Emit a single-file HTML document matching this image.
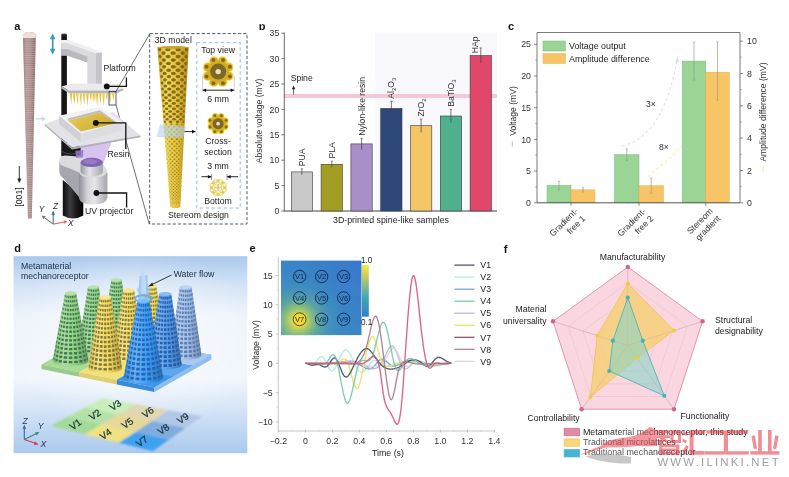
<!DOCTYPE html>
<html><head><meta charset="utf-8"><title>figure</title>
<style>html,body{margin:0;padding:0;background:#fff;}svg{display:block;filter:blur(0.4px)}text{font-family:"Liberation Sans",sans-serif;}</style>
</head><body>
<svg width="789" height="477" viewBox="0 0 789 477">
<defs><linearGradient id="heatA" x1="0" y1="1" x2="1" y2="0">
<stop offset="0" stop-color="#5aa6a8"/><stop offset="0.35" stop-color="#3a8ac4"/><stop offset="1" stop-color="#3878cc"/>
</linearGradient>
<radialGradient id="heatB" gradientUnits="userSpaceOnUse" cx="298.5" cy="320.5" r="50">
<stop offset="0" stop-color="#f4e040" stop-opacity="1"/><stop offset="0.1" stop-color="#e6da48" stop-opacity="1"/><stop offset="0.22" stop-color="#a8ca68" stop-opacity="0.95"/><stop offset="0.42" stop-color="#66ae96" stop-opacity="0.7"/><stop offset="0.7" stop-color="#4a98b4" stop-opacity="0.3"/><stop offset="1" stop-color="#3a8ac4" stop-opacity="0"/>
</radialGradient>
<linearGradient id="cbar" x1="0" y1="0" x2="0" y2="1">
<stop offset="0" stop-color="#f4e84a"/><stop offset="0.18" stop-color="#d8d050"/><stop offset="0.4" stop-color="#84bc88"/><stop offset="0.65" stop-color="#3ea4b4"/><stop offset="1" stop-color="#3880c8"/>
</linearGradient>
<linearGradient id="dbg" x1="0" y1="0" x2="0" y2="1">
<stop offset="0" stop-color="#a9c9ee"/><stop offset="0.14" stop-color="#d2e2f6"/><stop offset="0.3" stop-color="#edf3fb"/><stop offset="0.62" stop-color="#f1f6fc"/><stop offset="0.82" stop-color="#cddff5"/><stop offset="1" stop-color="#aac9ed"/>
</linearGradient>
<radialGradient id="dbg2" gradientUnits="userSpaceOnUse" cx="135" cy="340" r="130" gradientTransform="translate(0 102) scale(1 0.7)">
<stop offset="0" stop-color="#ffffff" stop-opacity="0.75"/><stop offset="0.6" stop-color="#ffffff" stop-opacity="0.3"/><stop offset="1" stop-color="#ffffff" stop-opacity="0"/>
</radialGradient>
<filter id="blur1" x="-10%" y="-10%" width="120%" height="120%"><feGaussianBlur stdDeviation="1.2"/></filter>
<linearGradient id="spineg" x1="0" x2="1" y1="0" y2="0"><stop offset="0" stop-color="#907676"/><stop offset="0.3" stop-color="#b09494"/><stop offset="0.6" stop-color="#a68a8a"/><stop offset="1" stop-color="#7e6666"/></linearGradient>
<pattern id="spinepat" width="4" height="2.2" patternUnits="userSpaceOnUse"><rect width="4" height="1" fill="#e8d4d0"/></pattern>
<linearGradient id="resing" x1="0" x2="1" y1="0" y2="0.6"><stop offset="0" stop-color="#e6cf62"/><stop offset="0.6" stop-color="#d8b942"/><stop offset="1" stop-color="#c8a634"/></linearGradient>
<linearGradient id="projg" x1="0" x2="1" y1="0" y2="0"><stop offset="0" stop-color="#8e8e96"/><stop offset="0.3" stop-color="#d4d4da"/><stop offset="0.55" stop-color="#e6e6ea"/><stop offset="1" stop-color="#a4a4ac"/></linearGradient>
<linearGradient id="barrelg" x1="0" x2="1" y1="0" y2="0"><stop offset="0" stop-color="#9a9aa2"/><stop offset="0.4" stop-color="#e2e2e6"/><stop offset="1" stop-color="#a8a8b0"/></linearGradient>
<linearGradient id="blk" x1="0" x2="1" y1="0" y2="0"><stop offset="0" stop-color="#0c0c0c"/><stop offset="0.35" stop-color="#3c3c40"/><stop offset="0.7" stop-color="#141414"/><stop offset="1" stop-color="#050505"/></linearGradient>
<linearGradient id="latg" x1="0" x2="1" y1="0" y2="0"><stop offset="0" stop-color="#cfa928"/><stop offset="0.3" stop-color="#f0da5c"/><stop offset="0.65" stop-color="#dfbe38"/><stop offset="1" stop-color="#ae8a1a"/></linearGradient>
<pattern id="latpat" width="5" height="6" patternUnits="userSpaceOnUse" patternTransform="rotate(8)"><ellipse cx="1.25" cy="1.5" rx="1.5" ry="1.1" fill="#7a5e12" opacity="0.85"/><ellipse cx="3.75" cy="4.5" rx="1.5" ry="1.1" fill="#7a5e12" opacity="0.85"/></pattern>
<clipPath id="topclip"><rect x="250" y="24.2" width="30" height="10"/></clipPath>
</defs>
<rect width="789" height="477" fill="#ffffff"/>
<rect x="375.0" y="32.5" width="122.0" height="178.5" fill="#f9f8fd" stroke="none" stroke-width="0.6" />
<rect x="284.3" y="94.0" width="212.7" height="4.0" fill="#f3c3d0" stroke="none" stroke-width="0.6" opacity="0.9"/>
<line x1="284.3" y1="32.5" x2="284.3" y2="211.0" stroke="#444" stroke-width="0.8" />
<line x1="283.9" y1="211.0" x2="497.0" y2="211.0" stroke="#444" stroke-width="1.0" />
<line x1="281.3" y1="211.0" x2="284.3" y2="211.0" stroke="#444" stroke-width="0.7" />
<text x="279.3" y="214.1" font-size="8.8" text-anchor="end" fill="#333" >0</text>
<line x1="281.3" y1="185.6" x2="284.3" y2="185.6" stroke="#444" stroke-width="0.7" />
<text x="279.3" y="188.7" font-size="8.8" text-anchor="end" fill="#333" >5</text>
<line x1="281.3" y1="160.2" x2="284.3" y2="160.2" stroke="#444" stroke-width="0.7" />
<text x="279.3" y="163.3" font-size="8.8" text-anchor="end" fill="#333" >10</text>
<line x1="281.3" y1="134.8" x2="284.3" y2="134.8" stroke="#444" stroke-width="0.7" />
<text x="279.3" y="137.9" font-size="8.8" text-anchor="end" fill="#333" >15</text>
<line x1="281.3" y1="109.4" x2="284.3" y2="109.4" stroke="#444" stroke-width="0.7" />
<text x="279.3" y="112.5" font-size="8.8" text-anchor="end" fill="#333" >20</text>
<line x1="281.3" y1="84.0" x2="284.3" y2="84.0" stroke="#444" stroke-width="0.7" />
<text x="279.3" y="87.1" font-size="8.8" text-anchor="end" fill="#333" >25</text>
<line x1="281.3" y1="58.6" x2="284.3" y2="58.6" stroke="#444" stroke-width="0.7" />
<text x="279.3" y="61.7" font-size="8.8" text-anchor="end" fill="#333" >30</text>
<line x1="281.3" y1="33.2" x2="284.3" y2="33.2" stroke="#444" stroke-width="0.7" />
<text x="279.3" y="36.3" font-size="8.8" text-anchor="end" fill="#333" >35</text>
<text x="261.5" y="121.0" font-size="8.6" text-anchor="middle" fill="#333" transform="rotate(-90 261.5 121.0)" >Absolute voltage (mV)</text>
<rect x="291.3" y="171.9" width="21.3" height="39.1" fill="#c9c9c9" stroke="#3a3a3a" stroke-width="0.6" />
<line x1="301.9" y1="168.8" x2="301.9" y2="174.9" stroke="#444" stroke-width="0.7" />
<line x1="300.8" y1="168.8" x2="303.1" y2="168.8" stroke="#444" stroke-width="0.6" />
<text x="304.9" y="166.2" font-size="8.6" text-anchor="start" fill="#333" transform="rotate(-90 304.9 166.2)" >PUA</text>
<rect x="321.1" y="164.3" width="21.3" height="46.7" fill="#a39c22" stroke="#3a3a3a" stroke-width="0.6" />
<line x1="331.8" y1="161.2" x2="331.8" y2="167.3" stroke="#444" stroke-width="0.7" />
<line x1="330.6" y1="161.2" x2="332.9" y2="161.2" stroke="#444" stroke-width="0.6" />
<text x="334.8" y="158.6" font-size="8.6" text-anchor="start" fill="#333" transform="rotate(-90 334.8 158.6)" >PLA</text>
<rect x="350.9" y="143.9" width="21.3" height="67.1" fill="#a88fc8" stroke="#3a3a3a" stroke-width="0.6" />
<line x1="361.6" y1="138.4" x2="361.6" y2="149.5" stroke="#444" stroke-width="0.7" />
<line x1="360.4" y1="138.4" x2="362.8" y2="138.4" stroke="#444" stroke-width="0.6" />
<text x="364.6" y="135.8" font-size="8.6" text-anchor="start" fill="#333" transform="rotate(-90 364.6 135.8)" >Nylon-like resin</text>
<rect x="380.7" y="108.4" width="21.3" height="102.6" fill="#2d4979" stroke="#3a3a3a" stroke-width="0.6" />
<line x1="391.4" y1="101.3" x2="391.4" y2="115.5" stroke="#444" stroke-width="0.7" />
<line x1="390.2" y1="101.3" x2="392.6" y2="101.3" stroke="#444" stroke-width="0.6" />
<text x="394.4" y="98.7" font-size="8.6" text-anchor="start" fill="#333" transform="rotate(-90 394.4 98.7)" >Al<tspan dy="2" font-size="6">2</tspan><tspan dy="-2">O</tspan><tspan dy="2" font-size="6">3</tspan></text>
<rect x="410.5" y="125.7" width="21.3" height="85.3" fill="#f5c666" stroke="#3a3a3a" stroke-width="0.6" />
<line x1="421.1" y1="119.1" x2="421.1" y2="132.3" stroke="#444" stroke-width="0.7" />
<line x1="419.9" y1="119.1" x2="422.3" y2="119.1" stroke="#444" stroke-width="0.6" />
<text x="424.1" y="116.5" font-size="8.6" text-anchor="start" fill="#333" transform="rotate(-90 424.1 116.5)" >ZrO<tspan dy="2" font-size="6">2</tspan></text>
<rect x="440.3" y="116.0" width="21.3" height="95.0" fill="#4fb08e" stroke="#3a3a3a" stroke-width="0.6" />
<line x1="450.9" y1="109.4" x2="450.9" y2="122.6" stroke="#444" stroke-width="0.7" />
<line x1="449.8" y1="109.4" x2="452.1" y2="109.4" stroke="#444" stroke-width="0.6" />
<text x="453.9" y="106.8" font-size="8.6" text-anchor="start" fill="#333" transform="rotate(-90 453.9 106.8)" >BaTiO<tspan dy="2" font-size="6">3</tspan></text>
<rect x="470.1" y="55.6" width="21.3" height="155.4" fill="#e0476a" stroke="#3a3a3a" stroke-width="0.6" />
<line x1="480.8" y1="47.9" x2="480.8" y2="63.2" stroke="#444" stroke-width="0.7" />
<line x1="479.6" y1="47.9" x2="481.9" y2="47.9" stroke="#444" stroke-width="0.6" />
<text x="478.1" y="53.2" font-size="8.6" text-anchor="start" fill="#333" transform="rotate(-90 478.1 53.2)" >HAp</text>
<text x="391.0" y="223.0" font-size="8.8" text-anchor="middle" fill="#222" >3D-printed spine-like samples</text>
<text x="290.7" y="80.8" font-size="8.6" text-anchor="start" fill="#222" >Spine</text>
<line x1="293.6" y1="94.5" x2="293.6" y2="88.0" stroke="#222" stroke-width="0.7" />
<path d="M291.9 89.3 L293.6 85.4 L295.3 89.3Z" fill="#222"/>
<rect x="547.0" y="185.4" width="24.0" height="17.4" fill="#9ad596" stroke="#7fb883" stroke-width="0.5" />
<rect x="571.0" y="189.8" width="24.0" height="13.0" fill="#f8c566" stroke="#e2b057" stroke-width="0.5" />
<line x1="559.0" y1="181.2" x2="559.0" y2="189.5" stroke="#8aa08a" stroke-width="0.7" />
<line x1="557.8" y1="181.2" x2="560.2" y2="181.2" stroke="#8aa08a" stroke-width="0.6" />
<line x1="557.8" y1="189.5" x2="560.2" y2="189.5" stroke="#8aa08a" stroke-width="0.6" />
<line x1="583.0" y1="187.6" x2="583.0" y2="192.0" stroke="#a89a78" stroke-width="0.7" />
<line x1="581.8" y1="187.6" x2="584.2" y2="187.6" stroke="#a89a78" stroke-width="0.6" />
<line x1="581.8" y1="192.0" x2="584.2" y2="192.0" stroke="#a89a78" stroke-width="0.6" />
<rect x="614.5" y="154.6" width="24.5" height="48.2" fill="#9ad596" stroke="#7fb883" stroke-width="0.5" />
<rect x="639.0" y="185.7" width="24.5" height="17.1" fill="#f8c566" stroke="#e2b057" stroke-width="0.5" />
<line x1="626.8" y1="148.9" x2="626.8" y2="160.3" stroke="#8aa08a" stroke-width="0.7" />
<line x1="625.5" y1="148.9" x2="628.0" y2="148.9" stroke="#8aa08a" stroke-width="0.6" />
<line x1="625.5" y1="160.3" x2="628.0" y2="160.3" stroke="#8aa08a" stroke-width="0.6" />
<line x1="651.2" y1="178.1" x2="651.2" y2="193.3" stroke="#a89a78" stroke-width="0.7" />
<line x1="650.0" y1="178.1" x2="652.5" y2="178.1" stroke="#a89a78" stroke-width="0.6" />
<line x1="650.0" y1="193.3" x2="652.5" y2="193.3" stroke="#a89a78" stroke-width="0.6" />
<rect x="682.3" y="61.1" width="23.5" height="141.7" fill="#9ad596" stroke="#7fb883" stroke-width="0.5" />
<rect x="705.8" y="72.2" width="23.5" height="130.6" fill="#f8c566" stroke="#e2b057" stroke-width="0.5" />
<line x1="694.0" y1="42.1" x2="694.0" y2="80.1" stroke="#8aa08a" stroke-width="0.7" />
<line x1="692.8" y1="42.1" x2="695.2" y2="42.1" stroke="#8aa08a" stroke-width="0.6" />
<line x1="692.8" y1="80.1" x2="695.2" y2="80.1" stroke="#8aa08a" stroke-width="0.6" />
<line x1="717.5" y1="42.0" x2="717.5" y2="100.0" stroke="#a89a78" stroke-width="0.7" />
<line x1="716.3" y1="42.0" x2="718.8" y2="42.0" stroke="#a89a78" stroke-width="0.6" />
<line x1="716.3" y1="100.0" x2="718.8" y2="100.0" stroke="#a89a78" stroke-width="0.6" />
<path d="M537.0 202.8 L537.0 32.5 L740.0 32.5 L740.0 202.8" fill="none" stroke="#555" stroke-width="0.8"/>
<line x1="537.0" y1="202.8" x2="740.0" y2="202.8" stroke="#555" stroke-width="1.0" />
<line x1="534.0" y1="202.8" x2="537.0" y2="202.8" stroke="#555" stroke-width="0.7" />
<text x="531.0" y="205.9" font-size="8.8" text-anchor="end" fill="#333" >0</text>
<line x1="534.0" y1="171.1" x2="537.0" y2="171.1" stroke="#555" stroke-width="0.7" />
<text x="531.0" y="174.2" font-size="8.8" text-anchor="end" fill="#333" >5</text>
<line x1="534.0" y1="139.4" x2="537.0" y2="139.4" stroke="#555" stroke-width="0.7" />
<text x="531.0" y="142.5" font-size="8.8" text-anchor="end" fill="#333" >10</text>
<line x1="534.0" y1="107.7" x2="537.0" y2="107.7" stroke="#555" stroke-width="0.7" />
<text x="531.0" y="110.8" font-size="8.8" text-anchor="end" fill="#333" >15</text>
<line x1="534.0" y1="76.0" x2="537.0" y2="76.0" stroke="#555" stroke-width="0.7" />
<text x="531.0" y="79.1" font-size="8.8" text-anchor="end" fill="#333" >20</text>
<line x1="534.0" y1="44.3" x2="537.0" y2="44.3" stroke="#555" stroke-width="0.7" />
<text x="531.0" y="47.4" font-size="8.8" text-anchor="end" fill="#333" >25</text>
<line x1="535.2" y1="187.0" x2="537.0" y2="187.0" stroke="#777" stroke-width="0.6" />
<line x1="535.2" y1="155.2" x2="537.0" y2="155.2" stroke="#777" stroke-width="0.6" />
<line x1="535.2" y1="123.6" x2="537.0" y2="123.6" stroke="#777" stroke-width="0.6" />
<line x1="535.2" y1="91.9" x2="537.0" y2="91.9" stroke="#777" stroke-width="0.6" />
<line x1="535.2" y1="60.2" x2="537.0" y2="60.2" stroke="#777" stroke-width="0.6" />
<line x1="740.0" y1="202.8" x2="743.0" y2="202.8" stroke="#555" stroke-width="0.7" />
<text x="747.0" y="205.9" font-size="8.8" text-anchor="start" fill="#333" >0</text>
<line x1="740.0" y1="170.5" x2="743.0" y2="170.5" stroke="#555" stroke-width="0.7" />
<text x="747.0" y="173.6" font-size="8.8" text-anchor="start" fill="#333" >2</text>
<line x1="740.0" y1="138.1" x2="743.0" y2="138.1" stroke="#555" stroke-width="0.7" />
<text x="747.0" y="141.2" font-size="8.8" text-anchor="start" fill="#333" >4</text>
<line x1="740.0" y1="105.8" x2="743.0" y2="105.8" stroke="#555" stroke-width="0.7" />
<text x="747.0" y="108.8" font-size="8.8" text-anchor="start" fill="#333" >6</text>
<line x1="740.0" y1="73.4" x2="743.0" y2="73.4" stroke="#555" stroke-width="0.7" />
<text x="747.0" y="76.5" font-size="8.8" text-anchor="start" fill="#333" >8</text>
<line x1="740.0" y1="41.1" x2="743.0" y2="41.1" stroke="#555" stroke-width="0.7" />
<text x="747.0" y="44.2" font-size="8.8" text-anchor="start" fill="#333" >10</text>
<line x1="740.0" y1="186.6" x2="741.8" y2="186.6" stroke="#777" stroke-width="0.6" />
<line x1="740.0" y1="154.3" x2="741.8" y2="154.3" stroke="#777" stroke-width="0.6" />
<line x1="740.0" y1="121.9" x2="741.8" y2="121.9" stroke="#777" stroke-width="0.6" />
<line x1="740.0" y1="89.6" x2="741.8" y2="89.6" stroke="#777" stroke-width="0.6" />
<line x1="740.0" y1="57.2" x2="741.8" y2="57.2" stroke="#777" stroke-width="0.6" />
<line x1="571.0" y1="202.8" x2="571.0" y2="205.8" stroke="#555" stroke-width="0.7" />
<line x1="639.0" y1="202.8" x2="639.0" y2="205.8" stroke="#555" stroke-width="0.7" />
<line x1="705.8" y1="202.8" x2="705.8" y2="205.8" stroke="#555" stroke-width="0.7" />
<rect x="543.0" y="41.0" width="22.5" height="10.0" fill="#9ad596" stroke="#7fb883" stroke-width="0.5" />
<rect x="543.0" y="53.5" width="22.5" height="10.0" fill="#f8c566" stroke="#e2b057" stroke-width="0.5" />
<text x="569.0" y="49.3" font-size="8.9" text-anchor="start" fill="#222" >Voltage output</text>
<text x="569.0" y="61.7" font-size="8.9" text-anchor="start" fill="#222" >Amplitude difference</text>
<text x="515.8" y="111.0" font-size="8.6" text-anchor="middle" fill="#333" transform="rotate(-90 515.8 111.0)" >Voltage (mV)</text>
<line x1="512.3" y1="141.5" x2="512.3" y2="146.5" stroke="#8fd0c0" stroke-width="1.0" />
<text x="766.0" y="112.0" font-size="8.6" text-anchor="middle" fill="#333" transform="rotate(-90 766.0 112.0)" >Amplitude difference (mV)</text>
<line x1="763.0" y1="167.0" x2="763.0" y2="172.0" stroke="#f0e0a0" stroke-width="1.0" />
<path d="M622 146 C650 140 668 110 677 60" fill="none" stroke="#d9e8df" stroke-width="1.1" stroke-dasharray="3 2.5"/>
<path d="M675.2 62 L677.4 56.5 L679 62.3Z" fill="#cfe4d6"/>
<path d="M648 177 C660 165 672 158 681 146" fill="none" stroke="#f5f0b4" stroke-width="1.2" stroke-dasharray="3 2.5"/>
<text x="646.0" y="107.0" font-size="8.6" text-anchor="start" fill="#333" >3×</text>
<text x="659.0" y="150.0" font-size="8.6" text-anchor="start" fill="#333" >8×</text>
<g transform="translate(576.3 209.5) rotate(-45)"><text x="0" y="3" font-size="8.6" text-anchor="end" fill="#333">Gradient-</text><text x="0" y="13.5" font-size="8.6" text-anchor="end" fill="#333">free 1</text></g>
<g transform="translate(644.3 209.5) rotate(-45)"><text x="0" y="3" font-size="8.6" text-anchor="end" fill="#333">Gradient-</text><text x="0" y="13.5" font-size="8.6" text-anchor="end" fill="#333">free 2</text></g>
<g transform="translate(711.3 209.5) rotate(-45)"><text x="0" y="3" font-size="8.6" text-anchor="end" fill="#333">Stereom</text><text x="0" y="13.5" font-size="8.6" text-anchor="end" fill="#333">gradient</text></g>
<path d="M305.4 363.4 L306.1 363.5 L306.7 363.6 L307.4 363.8 L308.1 364.1 L308.7 364.4 L309.4 364.6 L310.1 364.9 L310.7 365.0 L311.4 365.1 L312.1 365.1 L312.7 365.0 L313.4 364.6 L314.1 364.2 L314.7 363.5 L315.4 362.7 L316.1 361.9 L316.7 361.0 L317.4 360.1 L318.0 359.2 L318.7 358.4 L319.4 357.7 L320.0 357.2 L320.7 356.8 L321.4 356.6 L322.0 356.7 L322.7 357.1 L323.4 357.8 L324.0 358.7 L324.7 359.8 L325.4 361.1 L326.0 362.5 L326.7 364.0 L327.4 365.4 L328.0 366.8 L328.7 368.1 L329.4 369.2 L330.0 370.1 L330.7 370.8 L331.4 371.1 L332.0 371.2 L332.7 370.9 L333.4 370.4 L334.0 369.6 L334.7 368.6 L335.4 367.5 L336.0 366.2 L336.7 364.8 L337.4 363.3 L338.0 361.8 L338.7 360.2 L339.4 358.6 L340.0 357.1 L340.7 355.6 L341.4 354.3 L342.0 353.0 L342.7 351.9 L343.3 351.0 L344.0 350.3 L344.7 349.9 L345.3 349.7 L346.0 349.7 L346.7 350.0 L347.3 350.4 L348.0 351.1 L348.7 351.9 L349.3 352.9 L350.0 354.0 L350.7 355.2 L351.3 356.4 L352.0 357.8 L352.7 359.2 L353.3 360.6 L354.0 362.0 L354.7 363.4 L355.3 364.8 L356.0 366.1 L356.7 367.4 L357.3 368.5 L358.0 369.5 L358.7 370.4 L359.3 371.2 L360.0 371.8 L360.7 372.2 L361.3 372.3 L362.0 372.3 L362.7 372.1 L363.3 371.7 L364.0 371.3 L364.7 370.6 L365.3 369.9 L366.0 369.1 L366.6 368.3 L367.3 367.4 L368.0 366.5 L368.6 365.6 L369.3 364.7 L370.0 363.8 L370.6 363.0 L371.3 362.3 L372.0 361.7 L372.6 361.2 L373.3 360.9 L374.0 360.6 L374.6 360.6 L375.3 360.6 L376.0 360.7 L376.6 360.9 L377.3 361.2 L378.0 361.6 L378.6 362.0 L379.3 362.4 L380.0 362.8 L380.6 363.3 L381.3 363.7 L382.0 364.2 L382.6 364.6 L383.3 365.0 L384.0 365.3 L384.6 365.5 L385.3 365.7 L386.0 365.8 L386.6 365.9 L387.3 365.9 L388.0 365.9 L388.6 365.9 L389.3 365.8 L390.0 365.7 L390.6 365.5 L391.3 365.3 L391.9 365.1 L392.6 364.9 L393.3 364.6 L393.9 364.4 L394.6 364.1 L395.3 363.9 L395.9 363.6 L396.6 363.3 L397.3 363.1 L397.9 362.8 L398.6 362.6 L399.3 362.4 L399.9 362.2 L400.6 362.1 L401.3 361.9 L401.9 361.8 L402.6 361.7 L403.3 361.6 L403.9 361.6 L404.6 361.5 L405.3 361.5 L405.9 361.5 L406.6 361.5 L407.3 361.6 L407.9 361.6 L408.6 361.6 L409.3 361.7 L409.9 361.8 L410.6 361.9 L411.3 362.0 L411.9 362.1 L412.6 362.2 L413.3 362.3 L413.9 362.4 L414.6 362.5 L415.2 362.6 L415.9 362.7 L416.6 362.8 L417.2 363.0 L417.9 363.1 L418.6 363.2 L419.2 363.3 L419.9 363.4 L420.6 363.5 L421.2 363.5 L421.9 363.6 L422.6 363.7 L423.2 363.7 L423.9 363.8 L424.6 363.8 L425.2 363.9 L425.9 363.9 L426.6 363.9 L427.2 364.0 L427.9 364.0 L428.6 364.0 L429.2 364.0 L429.9 364.0 L430.6 364.0 L431.2 364.0 L431.9 364.0 L432.6 364.0 L433.2 364.0 L433.9 364.0 L434.6 364.0 L435.2 363.9 L435.9 363.9 L436.6 363.9 L437.2 363.9 L437.9 363.8 L438.6 363.8 L439.2 363.8 L439.9 363.8 L440.5 363.7 L441.2 363.7 L441.9 363.7 L442.5 363.6 L443.2 363.6 L443.9 363.6 L444.5 363.5 L445.2 363.5 L445.9 363.5 L446.5 363.5 L447.2 363.5 L447.9 363.4 L448.5 363.4 L449.2 363.4 L449.9 363.4 L450.5 363.4 L451.2 363.4" fill="none" stroke="#aaebe5" stroke-width="1.35" stroke-linejoin="round" opacity="0.9"/>
<path d="M305.4 363.4 L306.1 363.4 L306.7 363.4 L307.4 363.4 L308.1 363.4 L308.7 363.4 L309.4 363.4 L310.1 363.4 L310.7 363.4 L311.4 363.4 L312.1 363.4 L312.7 363.4 L313.4 363.4 L314.1 363.5 L314.7 363.5 L315.4 363.5 L316.1 363.5 L316.7 363.5 L317.4 363.5 L318.0 363.5 L318.7 363.5 L319.4 363.5 L320.0 363.4 L320.7 363.4 L321.4 363.4 L322.0 363.4 L322.7 363.4 L323.4 363.4 L324.0 363.4 L324.7 363.3 L325.4 363.3 L326.0 363.3 L326.7 363.2 L327.4 363.2 L328.0 363.2 L328.7 363.1 L329.4 363.1 L330.0 363.0 L330.7 363.0 L331.4 362.9 L332.0 362.9 L332.7 362.8 L333.4 362.7 L334.0 362.6 L334.7 362.6 L335.4 362.5 L336.0 362.4 L336.7 362.3 L337.4 362.2 L338.0 362.1 L338.7 362.1 L339.4 362.0 L340.0 361.9 L340.7 361.8 L341.4 361.8 L342.0 361.7 L342.7 361.7 L343.3 361.6 L344.0 361.6 L344.7 361.6 L345.3 361.5 L346.0 361.5 L346.7 361.5 L347.3 361.5 L348.0 361.6 L348.7 361.6 L349.3 361.6 L350.0 361.7 L350.7 361.8 L351.3 361.9 L352.0 362.0 L352.7 362.1 L353.3 362.3 L354.0 362.4 L354.7 362.6 L355.3 362.8 L356.0 363.0 L356.7 363.3 L357.3 363.6 L358.0 363.9 L358.7 364.2 L359.3 364.5 L360.0 364.9 L360.7 365.3 L361.3 365.7 L362.0 366.1 L362.7 366.5 L363.3 366.9 L364.0 367.3 L364.7 367.6 L365.3 368.0 L366.0 368.3 L366.6 368.5 L367.3 368.7 L368.0 368.9 L368.6 369.0 L369.3 369.0 L370.0 368.9 L370.6 368.7 L371.3 368.5 L372.0 368.2 L372.6 367.7 L373.3 367.1 L374.0 366.5 L374.6 365.7 L375.3 365.0 L376.0 364.1 L376.6 363.3 L377.3 362.5 L378.0 361.7 L378.6 361.0 L379.3 360.4 L380.0 359.8 L380.6 359.4 L381.3 359.2 L382.0 359.1 L382.6 359.2 L383.3 359.4 L384.0 359.7 L384.6 360.1 L385.3 360.6 L386.0 361.1 L386.6 361.7 L387.3 362.3 L388.0 362.9 L388.6 363.5 L389.3 364.1 L390.0 364.6 L390.6 365.1 L391.3 365.5 L391.9 365.8 L392.6 366.0 L393.3 366.1 L393.9 366.1 L394.6 366.0 L395.3 365.9 L395.9 365.7 L396.6 365.4 L397.3 365.2 L397.9 364.8 L398.6 364.5 L399.3 364.1 L399.9 363.7 L400.6 363.3 L401.3 362.9 L401.9 362.6 L402.6 362.2 L403.3 361.9 L403.9 361.7 L404.6 361.4 L405.3 361.2 L405.9 361.0 L406.6 360.9 L407.3 360.8 L407.9 360.7 L408.6 360.6 L409.3 360.5 L409.9 360.5 L410.6 360.5 L411.3 360.5 L411.9 360.6 L412.6 360.6 L413.3 360.7 L413.9 360.8 L414.6 360.9 L415.2 361.0 L415.9 361.1 L416.6 361.2 L417.2 361.3 L417.9 361.5 L418.6 361.6 L419.2 361.8 L419.9 361.9 L420.6 362.1 L421.2 362.2 L421.9 362.4 L422.6 362.5 L423.2 362.7 L423.9 362.8 L424.6 363.0 L425.2 363.1 L425.9 363.2 L426.6 363.3 L427.2 363.5 L427.9 363.5 L428.6 363.6 L429.2 363.7 L429.9 363.8 L430.6 363.8 L431.2 363.9 L431.9 363.9 L432.6 363.9 L433.2 363.9 L433.9 364.0 L434.6 364.0 L435.2 364.0 L435.9 364.0 L436.6 363.9 L437.2 363.9 L437.9 363.9 L438.6 363.9 L439.2 363.9 L439.9 363.8 L440.5 363.8 L441.2 363.8 L441.9 363.7 L442.5 363.7 L443.2 363.7 L443.9 363.6 L444.5 363.6 L445.2 363.6 L445.9 363.5 L446.5 363.5 L447.2 363.5 L447.9 363.5 L448.5 363.4 L449.2 363.4 L449.9 363.4 L450.5 363.4 L451.2 363.4" fill="none" stroke="#7098e0" stroke-width="1.35" stroke-linejoin="round" opacity="0.9"/>
<path d="M305.4 363.4 L306.1 363.4 L306.7 363.4 L307.4 363.4 L308.1 363.4 L308.7 363.4 L309.4 363.5 L310.1 363.5 L310.7 363.5 L311.4 363.5 L312.1 363.6 L312.7 363.6 L313.4 363.6 L314.1 363.6 L314.7 363.7 L315.4 363.7 L316.1 363.7 L316.7 363.7 L317.4 363.8 L318.0 363.8 L318.7 363.8 L319.4 363.8 L320.0 363.8 L320.7 363.9 L321.4 363.9 L322.0 363.9 L322.7 363.9 L323.4 363.9 L324.0 363.9 L324.7 363.9 L325.4 363.9 L326.0 363.9 L326.7 363.8 L327.4 363.8 L328.0 363.8 L328.7 363.7 L329.4 363.7 L330.0 363.6 L330.7 363.6 L331.4 363.5 L332.0 363.4 L332.7 363.4 L333.4 363.3 L334.0 363.2 L334.7 363.1 L335.4 363.0 L336.0 362.9 L336.7 362.7 L337.4 362.6 L338.0 362.5 L338.7 362.4 L339.4 362.3 L340.0 362.1 L340.7 362.0 L341.4 361.9 L342.0 361.8 L342.7 361.7 L343.3 361.6 L344.0 361.5 L344.7 361.4 L345.3 361.3 L346.0 361.2 L346.7 361.2 L347.3 361.1 L348.0 361.1 L348.7 361.0 L349.3 361.0 L350.0 361.0 L350.7 361.0 L351.3 361.0 L352.0 361.1 L352.7 361.1 L353.3 361.2 L354.0 361.3 L354.7 361.4 L355.3 361.5 L356.0 361.7 L356.7 361.9 L357.3 362.0 L358.0 362.3 L358.7 362.5 L359.3 362.8 L360.0 363.1 L360.7 363.4 L361.3 363.7 L362.0 364.1 L362.7 364.4 L363.3 364.8 L364.0 365.2 L364.7 365.6 L365.3 365.9 L366.0 366.3 L366.6 366.7 L367.3 367.0 L368.0 367.3 L368.6 367.6 L369.3 367.9 L370.0 368.1 L370.6 368.3 L371.3 368.5 L372.0 368.6 L372.6 368.7 L373.3 368.7 L374.0 368.7 L374.6 368.6 L375.3 368.4 L376.0 368.2 L376.6 367.9 L377.3 367.5 L378.0 367.1 L378.6 366.5 L379.3 365.9 L380.0 365.2 L380.6 364.3 L381.3 363.4 L382.0 362.3 L382.6 361.1 L383.3 359.9 L384.0 358.5 L384.6 357.1 L385.3 355.6 L386.0 354.2 L386.6 352.8 L387.3 351.5 L388.0 350.2 L388.6 349.0 L389.3 348.0 L390.0 347.2 L390.6 346.6 L391.3 346.1 L391.9 346.0 L392.6 346.1 L393.3 346.5 L393.9 347.2 L394.6 348.3 L395.3 349.5 L395.9 351.0 L396.6 352.6 L397.3 354.3 L397.9 356.1 L398.6 357.9 L399.3 359.7 L399.9 361.4 L400.6 363.0 L401.3 364.5 L401.9 365.8 L402.6 366.9 L403.3 367.7 L403.9 368.3 L404.6 368.7 L405.3 368.8 L405.9 368.8 L406.6 368.6 L407.3 368.3 L407.9 367.9 L408.6 367.3 L409.3 366.7 L409.9 366.1 L410.6 365.4 L411.3 364.8 L411.9 364.1 L412.6 363.5 L413.3 362.9 L413.9 362.5 L414.6 362.1 L415.2 361.7 L415.9 361.5 L416.6 361.3 L417.2 361.2 L417.9 361.2 L418.6 361.2 L419.2 361.2 L419.9 361.3 L420.6 361.4 L421.2 361.6 L421.9 361.8 L422.6 362.0 L423.2 362.2 L423.9 362.4 L424.6 362.7 L425.2 362.9 L425.9 363.1 L426.6 363.3 L427.2 363.5 L427.9 363.7 L428.6 363.8 L429.2 363.9 L429.9 364.1 L430.6 364.1 L431.2 364.2 L431.9 364.3 L432.6 364.3 L433.2 364.4 L433.9 364.4 L434.6 364.4 L435.2 364.4 L435.9 364.4 L436.6 364.4 L437.2 364.4 L437.9 364.3 L438.6 364.3 L439.2 364.2 L439.9 364.2 L440.5 364.1 L441.2 364.1 L441.9 364.0 L442.5 364.0 L443.2 363.9 L443.9 363.8 L444.5 363.8 L445.2 363.7 L445.9 363.7 L446.5 363.6 L447.2 363.6 L447.9 363.5 L448.5 363.5 L449.2 363.4 L449.9 363.4 L450.5 363.4 L451.2 363.4" fill="none" stroke="#b9b2de" stroke-width="1.35" stroke-linejoin="round" opacity="0.9"/>
<path d="M305.4 363.4 L306.1 363.4 L306.7 363.4 L307.4 363.4 L308.1 363.4 L308.7 363.4 L309.4 363.4 L310.1 363.4 L310.7 363.4 L311.4 363.5 L312.1 363.5 L312.7 363.5 L313.4 363.5 L314.1 363.5 L314.7 363.5 L315.4 363.5 L316.1 363.5 L316.7 363.5 L317.4 363.6 L318.0 363.6 L318.7 363.6 L319.4 363.6 L320.0 363.6 L320.7 363.6 L321.4 363.6 L322.0 363.6 L322.7 363.6 L323.4 363.6 L324.0 363.6 L324.7 363.6 L325.4 363.6 L326.0 363.6 L326.7 363.6 L327.4 363.6 L328.0 363.6 L328.7 363.5 L329.4 363.5 L330.0 363.5 L330.7 363.5 L331.4 363.4 L332.0 363.4 L332.7 363.4 L333.4 363.3 L334.0 363.3 L334.7 363.3 L335.4 363.2 L336.0 363.2 L336.7 363.1 L337.4 363.1 L338.0 363.0 L338.7 363.0 L339.4 362.9 L340.0 362.9 L340.7 362.8 L341.4 362.8 L342.0 362.7 L342.7 362.7 L343.3 362.7 L344.0 362.6 L344.7 362.6 L345.3 362.6 L346.0 362.5 L346.7 362.5 L347.3 362.5 L348.0 362.5 L348.7 362.5 L349.3 362.5 L350.0 362.5 L350.7 362.5 L351.3 362.5 L352.0 362.5 L352.7 362.6 L353.3 362.6 L354.0 362.6 L354.7 362.7 L355.3 362.8 L356.0 362.8 L356.7 362.9 L357.3 363.0 L358.0 363.1 L358.7 363.3 L359.3 363.4 L360.0 363.5 L360.7 363.7 L361.3 363.8 L362.0 364.0 L362.7 364.2 L363.3 364.4 L364.0 364.5 L364.7 364.7 L365.3 364.9 L366.0 365.1 L366.6 365.2 L367.3 365.4 L368.0 365.6 L368.6 365.7 L369.3 365.9 L370.0 366.0 L370.6 366.1 L371.3 366.2 L372.0 366.3 L372.6 366.3 L373.3 366.4 L374.0 366.4 L374.6 366.4 L375.3 366.4 L376.0 366.3 L376.6 366.2 L377.3 366.1 L378.0 365.9 L378.6 365.7 L379.3 365.4 L380.0 365.1 L380.6 364.7 L381.3 364.2 L382.0 363.7 L382.6 363.0 L383.3 362.3 L384.0 361.5 L384.6 360.5 L385.3 359.5 L386.0 358.4 L386.6 357.2 L387.3 355.9 L388.0 354.7 L388.6 353.4 L389.3 352.3 L390.0 351.2 L390.6 350.2 L391.3 349.4 L391.9 348.7 L392.6 348.3 L393.3 348.1 L393.9 348.2 L394.6 348.6 L395.3 349.2 L395.9 350.0 L396.6 351.1 L397.3 352.3 L397.9 353.6 L398.6 355.0 L399.3 356.4 L399.9 357.9 L400.6 359.4 L401.3 360.7 L401.9 362.1 L402.6 363.3 L403.3 364.3 L403.9 365.1 L404.6 365.8 L405.3 366.2 L405.9 366.4 L406.6 366.5 L407.3 366.5 L407.9 366.3 L408.6 366.0 L409.3 365.6 L409.9 365.2 L410.6 364.7 L411.3 364.3 L411.9 363.8 L412.6 363.3 L413.3 362.9 L413.9 362.5 L414.6 362.3 L415.2 362.0 L415.9 361.8 L416.6 361.7 L417.2 361.6 L417.9 361.6 L418.6 361.6 L419.2 361.7 L419.9 361.7 L420.6 361.8 L421.2 362.0 L421.9 362.1 L422.6 362.3 L423.2 362.5 L423.9 362.6 L424.6 362.8 L425.2 363.0 L425.9 363.2 L426.6 363.3 L427.2 363.5 L427.9 363.6 L428.6 363.7 L429.2 363.8 L429.9 363.9 L430.6 364.0 L431.2 364.1 L431.9 364.1 L432.6 364.1 L433.2 364.2 L433.9 364.2 L434.6 364.2 L435.2 364.2 L435.9 364.2 L436.6 364.2 L437.2 364.2 L437.9 364.1 L438.6 364.1 L439.2 364.1 L439.9 364.0 L440.5 364.0 L441.2 363.9 L441.9 363.9 L442.5 363.8 L443.2 363.8 L443.9 363.7 L444.5 363.7 L445.2 363.6 L445.9 363.6 L446.5 363.6 L447.2 363.5 L447.9 363.5 L448.5 363.5 L449.2 363.4 L449.9 363.4 L450.5 363.4 L451.2 363.4" fill="none" stroke="#d3d7da" stroke-width="1.35" stroke-linejoin="round" opacity="0.9"/>
<path d="M305.4 363.4 L306.1 363.4 L306.7 363.4 L307.4 363.4 L308.1 363.4 L308.7 363.3 L309.4 363.3 L310.1 363.3 L310.7 363.2 L311.4 363.2 L312.1 363.2 L312.7 363.1 L313.4 363.1 L314.1 363.1 L314.7 363.0 L315.4 363.0 L316.1 363.0 L316.7 363.0 L317.4 362.9 L318.0 362.9 L318.7 362.9 L319.4 362.9 L320.0 362.9 L320.7 363.0 L321.4 363.0 L322.0 363.0 L322.7 363.1 L323.4 363.1 L324.0 363.2 L324.7 363.3 L325.4 363.4 L326.0 363.5 L326.7 363.6 L327.4 363.7 L328.0 363.8 L328.7 364.0 L329.4 364.1 L330.0 364.2 L330.7 364.3 L331.4 364.4 L332.0 364.4 L332.7 364.4 L333.4 364.4 L334.0 364.4 L334.7 364.3 L335.4 364.1 L336.0 363.9 L336.7 363.7 L337.4 363.4 L338.0 363.0 L338.7 362.6 L339.4 362.1 L340.0 361.5 L340.7 360.9 L341.4 360.3 L342.0 359.8 L342.7 359.3 L343.3 359.0 L344.0 358.8 L344.7 358.9 L345.3 359.2 L346.0 359.7 L346.7 360.6 L347.3 361.8 L348.0 363.4 L348.7 365.4 L349.3 367.5 L350.0 369.9 L350.7 372.3 L351.3 374.8 L352.0 377.3 L352.7 379.7 L353.3 382.0 L354.0 384.0 L354.7 385.7 L355.3 387.2 L356.0 388.1 L356.7 388.7 L357.3 388.6 L358.0 388.0 L358.7 386.8 L359.3 385.1 L360.0 383.0 L360.7 380.5 L361.3 377.7 L362.0 374.7 L362.7 371.4 L363.3 368.1 L364.0 364.6 L364.7 361.2 L365.3 357.9 L366.0 354.6 L366.6 351.5 L367.3 348.6 L368.0 345.9 L368.6 343.5 L369.3 341.3 L370.0 339.5 L370.6 338.1 L371.3 337.0 L372.0 336.4 L372.6 336.3 L373.3 336.8 L374.0 337.7 L374.6 339.0 L375.3 340.7 L376.0 342.7 L376.6 344.9 L377.3 347.2 L378.0 349.7 L378.6 352.1 L379.3 354.5 L380.0 356.8 L380.6 358.8 L381.3 360.7 L382.0 362.2 L382.6 363.4 L383.3 364.4 L384.0 365.2 L384.6 365.8 L385.3 366.2 L386.0 366.5 L386.6 366.6 L387.3 366.6 L388.0 366.6 L388.6 366.4 L389.3 366.3 L390.0 366.1 L390.6 365.9 L391.3 365.7 L391.9 365.5 L392.6 365.2 L393.3 365.0 L393.9 364.8 L394.6 364.5 L395.3 364.3 L395.9 364.0 L396.6 363.8 L397.3 363.6 L397.9 363.4 L398.6 363.2 L399.3 363.0 L399.9 362.8 L400.6 362.7 L401.3 362.5 L401.9 362.4 L402.6 362.3 L403.3 362.2 L403.9 362.2 L404.6 362.1 L405.3 362.1 L405.9 362.1 L406.6 362.1 L407.3 362.1 L407.9 362.1 L408.6 362.2 L409.3 362.2 L409.9 362.2 L410.6 362.3 L411.3 362.4 L411.9 362.4 L412.6 362.5 L413.3 362.6 L413.9 362.7 L414.6 362.7 L415.2 362.8 L415.9 362.9 L416.6 363.0 L417.2 363.1 L417.9 363.2 L418.6 363.2 L419.2 363.3 L419.9 363.4 L420.6 363.4 L421.2 363.5 L421.9 363.6 L422.6 363.6 L423.2 363.6 L423.9 363.7 L424.6 363.7 L425.2 363.8 L425.9 363.8 L426.6 363.8 L427.2 363.8 L427.9 363.8 L428.6 363.8 L429.2 363.9 L429.9 363.9 L430.6 363.9 L431.2 363.9 L431.9 363.9 L432.6 363.8 L433.2 363.8 L433.9 363.8 L434.6 363.8 L435.2 363.8 L435.9 363.8 L436.6 363.8 L437.2 363.7 L437.9 363.7 L438.6 363.7 L439.2 363.7 L439.9 363.7 L440.5 363.6 L441.2 363.6 L441.9 363.6 L442.5 363.6 L443.2 363.6 L443.9 363.5 L444.5 363.5 L445.2 363.5 L445.9 363.5 L446.5 363.5 L447.2 363.4 L447.9 363.4 L448.5 363.4 L449.2 363.4 L449.9 363.4 L450.5 363.4 L451.2 363.4" fill="none" stroke="#ece055" stroke-width="1.35" stroke-linejoin="round" opacity="0.9"/>
<path d="M305.4 363.4 L306.1 363.4 L306.7 363.6 L307.4 363.7 L308.1 364.0 L308.7 364.2 L309.4 364.4 L310.1 364.7 L310.7 364.9 L311.4 365.1 L312.1 365.2 L312.7 365.2 L313.4 365.1 L314.1 365.0 L314.7 364.9 L315.4 364.8 L316.1 364.6 L316.7 364.5 L317.4 364.5 L318.0 364.5 L318.7 364.5 L319.4 364.7 L320.0 365.0 L320.7 365.3 L321.4 365.7 L322.0 366.0 L322.7 366.4 L323.4 366.7 L324.0 366.9 L324.7 367.0 L325.4 367.0 L326.0 366.9 L326.7 366.5 L327.4 366.0 L328.0 365.3 L328.7 364.4 L329.4 363.5 L330.0 362.5 L330.7 361.5 L331.4 360.5 L332.0 359.6 L332.7 358.9 L333.4 358.3 L334.0 358.0 L334.7 358.0 L335.4 358.3 L336.0 358.9 L336.7 359.8 L337.4 361.0 L338.0 362.4 L338.7 363.9 L339.4 365.5 L340.0 367.1 L340.7 368.8 L341.4 370.5 L342.0 372.0 L342.7 373.4 L343.3 374.7 L344.0 375.7 L344.7 376.4 L345.3 376.8 L346.0 377.0 L346.7 376.9 L347.3 376.5 L348.0 376.0 L348.7 375.2 L349.3 374.3 L350.0 373.2 L350.7 372.1 L351.3 370.8 L352.0 369.4 L352.7 368.0 L353.3 366.6 L354.0 365.2 L354.7 363.7 L355.3 362.4 L356.0 361.0 L356.7 359.7 L357.3 358.4 L358.0 357.2 L358.7 356.0 L359.3 354.9 L360.0 353.9 L360.7 352.9 L361.3 352.0 L362.0 351.2 L362.7 350.5 L363.3 349.9 L364.0 349.4 L364.7 349.0 L365.3 348.8 L366.0 348.6 L366.6 348.6 L367.3 348.7 L368.0 348.9 L368.6 349.3 L369.3 349.8 L370.0 350.4 L370.6 351.1 L371.3 351.9 L372.0 352.7 L372.6 353.6 L373.3 354.6 L374.0 355.5 L374.6 356.5 L375.3 357.5 L376.0 358.5 L376.6 359.4 L377.3 360.4 L378.0 361.2 L378.6 362.1 L379.3 362.9 L380.0 363.6 L380.6 364.3 L381.3 365.0 L382.0 365.6 L382.6 366.1 L383.3 366.6 L384.0 367.1 L384.6 367.5 L385.3 367.8 L386.0 368.2 L386.6 368.4 L387.3 368.6 L388.0 368.8 L388.6 368.9 L389.3 369.0 L390.0 369.1 L390.6 369.1 L391.3 369.1 L391.9 369.1 L392.6 369.0 L393.3 368.9 L393.9 368.8 L394.6 368.6 L395.3 368.5 L395.9 368.3 L396.6 368.1 L397.3 367.8 L397.9 367.6 L398.6 367.3 L399.3 367.0 L399.9 366.7 L400.6 366.3 L401.3 365.9 L401.9 365.6 L402.6 365.2 L403.3 364.7 L403.9 364.3 L404.6 363.9 L405.3 363.4 L405.9 363.0 L406.6 362.5 L407.3 362.1 L407.9 361.7 L408.6 361.3 L409.3 360.9 L409.9 360.6 L410.6 360.3 L411.3 360.1 L411.9 359.9 L412.6 359.8 L413.3 359.7 L413.9 359.7 L414.6 359.7 L415.2 359.8 L415.9 359.9 L416.6 360.1 L417.2 360.3 L417.9 360.6 L418.6 360.9 L419.2 361.3 L419.9 361.7 L420.6 362.1 L421.2 362.6 L421.9 363.1 L422.6 363.7 L423.2 364.3 L423.9 364.8 L424.6 365.3 L425.2 365.7 L425.9 366.1 L426.6 366.3 L427.2 366.5 L427.9 366.4 L428.6 366.2 L429.2 365.8 L429.9 365.3 L430.6 364.6 L431.2 363.9 L431.9 363.1 L432.6 362.3 L433.2 361.4 L433.9 360.6 L434.6 359.8 L435.2 359.1 L435.9 358.5 L436.6 358.0 L437.2 357.7 L437.9 357.5 L438.6 357.4 L439.2 357.4 L439.9 357.5 L440.5 357.7 L441.2 358.0 L441.9 358.3 L442.5 358.7 L443.2 359.1 L443.9 359.5 L444.5 359.9 L445.2 360.4 L445.9 360.8 L446.5 361.2 L447.2 361.6 L447.9 361.9 L448.5 362.2 L449.2 362.5 L449.9 362.7 L450.5 362.8 L451.2 362.8" fill="none" stroke="#3d4b5e" stroke-width="1.35" stroke-linejoin="round" opacity="0.9"/>
<path d="M305.4 363.4 L306.1 363.4 L306.7 363.4 L307.4 363.4 L308.1 363.4 L308.7 363.4 L309.4 363.3 L310.1 363.3 L310.7 363.3 L311.4 363.3 L312.1 363.3 L312.7 363.3 L313.4 363.4 L314.1 363.4 L314.7 363.4 L315.4 363.5 L316.1 363.5 L316.7 363.6 L317.4 363.7 L318.0 363.8 L318.7 363.9 L319.4 364.1 L320.0 364.2 L320.7 364.4 L321.4 364.5 L322.0 364.6 L322.7 364.6 L323.4 364.5 L324.0 364.4 L324.7 364.1 L325.4 363.8 L326.0 363.3 L326.7 362.6 L327.4 361.7 L328.0 360.7 L328.7 359.7 L329.4 358.6 L330.0 357.5 L330.7 356.5 L331.4 355.6 L332.0 355.0 L332.7 354.6 L333.4 354.6 L334.0 354.9 L334.7 355.7 L335.4 356.9 L336.0 358.7 L336.7 360.9 L337.4 363.5 L338.0 366.4 L338.7 369.5 L339.4 372.8 L340.0 376.3 L340.7 379.8 L341.4 383.3 L342.0 386.7 L342.7 389.9 L343.3 393.0 L344.0 395.7 L344.7 398.2 L345.3 400.2 L346.0 401.8 L346.7 402.8 L347.3 403.3 L348.0 403.1 L348.7 402.3 L349.3 401.0 L350.0 399.3 L350.7 397.1 L351.3 394.7 L352.0 392.0 L352.7 389.0 L353.3 386.0 L354.0 382.9 L354.7 379.8 L355.3 376.7 L356.0 373.8 L356.7 371.1 L357.3 368.6 L358.0 366.5 L358.7 364.7 L359.3 363.3 L360.0 362.2 L360.7 361.4 L361.3 360.8 L362.0 360.5 L362.7 360.3 L363.3 360.3 L364.0 360.4 L364.7 360.5 L365.3 360.7 L366.0 360.9 L366.6 361.0 L367.3 361.1 L368.0 361.0 L368.6 360.8 L369.3 360.4 L370.0 359.9 L370.6 359.1 L371.3 358.1 L372.0 356.9 L372.6 355.3 L373.3 353.4 L374.0 351.3 L374.6 348.9 L375.3 346.3 L376.0 343.6 L376.6 340.9 L377.3 338.1 L378.0 335.4 L378.6 332.8 L379.3 330.4 L380.0 328.1 L380.6 326.2 L381.3 324.6 L382.0 323.3 L382.6 322.6 L383.3 322.3 L384.0 322.6 L384.6 323.4 L385.3 324.7 L386.0 326.5 L386.6 328.7 L387.3 331.3 L388.0 334.1 L388.6 337.1 L389.3 340.3 L390.0 343.6 L390.6 347.0 L391.3 350.3 L391.9 353.5 L392.6 356.7 L393.3 359.6 L393.9 362.3 L394.6 364.7 L395.3 366.7 L395.9 368.3 L396.6 369.4 L397.3 370.1 L397.9 370.5 L398.6 370.5 L399.3 370.2 L399.9 369.7 L400.6 368.9 L401.3 368.0 L401.9 367.0 L402.6 365.9 L403.3 364.8 L403.9 363.7 L404.6 362.6 L405.3 361.7 L405.9 360.9 L406.6 360.2 L407.3 359.6 L407.9 359.2 L408.6 358.9 L409.3 358.7 L409.9 358.6 L410.6 358.6 L411.3 358.6 L411.9 358.8 L412.6 359.0 L413.3 359.2 L413.9 359.5 L414.6 359.9 L415.2 360.3 L415.9 360.7 L416.6 361.1 L417.2 361.6 L417.9 362.0 L418.6 362.4 L419.2 362.9 L419.9 363.3 L420.6 363.6 L421.2 364.0 L421.9 364.3 L422.6 364.6 L423.2 364.8 L423.9 365.0 L424.6 365.2 L425.2 365.4 L425.9 365.6 L426.6 365.7 L427.2 365.8 L427.9 365.9 L428.6 365.9 L429.2 366.0 L429.9 366.0 L430.6 366.0 L431.2 366.0 L431.9 366.0 L432.6 365.9 L433.2 365.9 L433.9 365.8 L434.6 365.8 L435.2 365.7 L435.9 365.6 L436.6 365.5 L437.2 365.4 L437.9 365.3 L438.6 365.1 L439.2 365.0 L439.9 364.9 L440.5 364.8 L441.2 364.6 L441.9 364.5 L442.5 364.4 L443.2 364.3 L443.9 364.2 L444.5 364.0 L445.2 363.9 L445.9 363.8 L446.5 363.7 L447.2 363.7 L447.9 363.6 L448.5 363.5 L449.2 363.5 L449.9 363.4 L450.5 363.4 L451.2 363.4" fill="none" stroke="#72c6a6" stroke-width="1.35" stroke-linejoin="round" opacity="0.9"/>
<path d="M305.4 363.4 L306.1 363.4 L306.7 363.4 L307.4 363.4 L308.1 363.4 L308.7 363.4 L309.4 363.4 L310.1 363.4 L310.7 363.4 L311.4 363.4 L312.1 363.4 L312.7 363.4 L313.4 363.4 L314.1 363.4 L314.7 363.4 L315.4 363.3 L316.1 363.3 L316.7 363.3 L317.4 363.3 L318.0 363.3 L318.7 363.3 L319.4 363.3 L320.0 363.3 L320.7 363.3 L321.4 363.3 L322.0 363.3 L322.7 363.3 L323.4 363.3 L324.0 363.3 L324.7 363.3 L325.4 363.3 L326.0 363.3 L326.7 363.3 L327.4 363.3 L328.0 363.3 L328.7 363.3 L329.4 363.3 L330.0 363.4 L330.7 363.4 L331.4 363.4 L332.0 363.4 L332.7 363.4 L333.4 363.4 L334.0 363.4 L334.7 363.5 L335.4 363.5 L336.0 363.5 L336.7 363.5 L337.4 363.5 L338.0 363.6 L338.7 363.6 L339.4 363.6 L340.0 363.6 L340.7 363.7 L341.4 363.7 L342.0 363.7 L342.7 363.7 L343.3 363.8 L344.0 363.8 L344.7 363.8 L345.3 363.8 L346.0 363.9 L346.7 363.9 L347.3 363.9 L348.0 363.9 L348.7 363.9 L349.3 364.0 L350.0 364.0 L350.7 364.0 L351.3 364.0 L352.0 364.0 L352.7 364.0 L353.3 363.9 L354.0 363.8 L354.7 363.7 L355.3 363.5 L356.0 363.3 L356.7 363.0 L357.3 362.7 L358.0 362.2 L358.7 361.7 L359.3 361.1 L360.0 360.4 L360.7 359.7 L361.3 358.8 L362.0 357.7 L362.7 356.6 L363.3 355.2 L364.0 353.8 L364.7 352.1 L365.3 350.3 L366.0 348.3 L366.6 346.1 L367.3 343.6 L368.0 340.9 L368.6 338.1 L369.3 335.2 L370.0 332.2 L370.6 329.2 L371.3 326.4 L372.0 323.8 L372.6 321.4 L373.3 319.4 L374.0 317.8 L374.6 316.7 L375.3 316.2 L376.0 316.2 L376.6 317.0 L377.3 318.5 L378.0 320.7 L378.6 323.4 L379.3 326.7 L380.0 330.5 L380.6 334.6 L381.3 339.2 L382.0 344.0 L382.6 349.0 L383.3 354.3 L384.0 359.6 L384.6 365.0 L385.3 370.4 L386.0 375.6 L386.6 380.5 L387.3 385.1 L388.0 389.2 L388.6 392.8 L389.3 395.8 L390.0 398.0 L390.6 399.3 L391.3 399.7 L391.9 399.2 L392.6 397.8 L393.3 395.7 L393.9 393.0 L394.6 390.0 L395.3 386.6 L395.9 383.0 L396.6 379.5 L397.3 376.1 L397.9 373.0 L398.6 370.2 L399.3 368.0 L399.9 366.2 L400.6 364.9 L401.3 363.9 L401.9 363.2 L402.6 362.7 L403.3 362.4 L403.9 362.2 L404.6 362.1 L405.3 362.1 L405.9 362.0 L406.6 362.1 L407.3 362.1 L407.9 362.2 L408.6 362.3 L409.3 362.4 L409.9 362.6 L410.6 362.7 L411.3 362.9 L411.9 363.1 L412.6 363.2 L413.3 363.4 L413.9 363.5 L414.6 363.6 L415.2 363.7 L415.9 363.8 L416.6 363.9 L417.2 363.9 L417.9 364.0 L418.6 364.0 L419.2 364.1 L419.9 364.1 L420.6 364.1 L421.2 364.1 L421.9 364.1 L422.6 364.1 L423.2 364.1 L423.9 364.0 L424.6 364.0 L425.2 364.0 L425.9 363.9 L426.6 363.9 L427.2 363.8 L427.9 363.8 L428.6 363.7 L429.2 363.7 L429.9 363.6 L430.6 363.6 L431.2 363.5 L431.9 363.5 L432.6 363.5 L433.2 363.4 L433.9 363.4 L434.6 363.4 L435.2 363.3 L435.9 363.3 L436.6 363.3 L437.2 363.3 L437.9 363.3 L438.6 363.3 L439.2 363.3 L439.9 363.3 L440.5 363.3 L441.2 363.3 L441.9 363.3 L442.5 363.3 L443.2 363.3 L443.9 363.3 L444.5 363.3 L445.2 363.3 L445.9 363.3 L446.5 363.4 L447.2 363.4 L447.9 363.4 L448.5 363.4 L449.2 363.4 L449.9 363.4 L450.5 363.4 L451.2 363.4" fill="none" stroke="#a87890" stroke-width="1.35" stroke-linejoin="round" opacity="0.9"/>
<path d="M305.4 363.4 L306.1 363.4 L306.7 363.4 L307.4 363.4 L308.1 363.4 L308.7 363.4 L309.4 363.4 L310.1 363.4 L310.7 363.4 L311.4 363.4 L312.1 363.4 L312.7 363.4 L313.4 363.5 L314.1 363.5 L314.7 363.5 L315.4 363.5 L316.1 363.5 L316.7 363.5 L317.4 363.5 L318.0 363.5 L318.7 363.5 L319.4 363.5 L320.0 363.5 L320.7 363.5 L321.4 363.5 L322.0 363.5 L322.7 363.5 L323.4 363.5 L324.0 363.5 L324.7 363.5 L325.4 363.5 L326.0 363.5 L326.7 363.5 L327.4 363.5 L328.0 363.5 L328.7 363.5 L329.4 363.5 L330.0 363.5 L330.7 363.4 L331.4 363.4 L332.0 363.4 L332.7 363.4 L333.4 363.4 L334.0 363.3 L334.7 363.3 L335.4 363.3 L336.0 363.3 L336.7 363.2 L337.4 363.2 L338.0 363.2 L338.7 363.1 L339.4 363.1 L340.0 363.1 L340.7 363.1 L341.4 363.1 L342.0 363.0 L342.7 363.0 L343.3 363.0 L344.0 363.0 L344.7 363.0 L345.3 363.0 L346.0 363.0 L346.7 363.0 L347.3 363.0 L348.0 363.1 L348.7 363.1 L349.3 363.1 L350.0 363.2 L350.7 363.2 L351.3 363.3 L352.0 363.3 L352.7 363.4 L353.3 363.5 L354.0 363.6 L354.7 363.7 L355.3 363.7 L356.0 363.8 L356.7 363.9 L357.3 363.9 L358.0 364.0 L358.7 364.0 L359.3 364.0 L360.0 364.0 L360.7 363.9 L361.3 363.8 L362.0 363.7 L362.7 363.5 L363.3 363.2 L364.0 363.0 L364.7 362.6 L365.3 362.2 L366.0 361.8 L366.6 361.2 L367.3 360.7 L368.0 360.1 L368.6 359.5 L369.3 358.9 L370.0 358.3 L370.6 357.8 L371.3 357.3 L372.0 357.0 L372.6 356.7 L373.3 356.6 L374.0 356.7 L374.6 356.9 L375.3 357.3 L376.0 357.9 L376.6 358.8 L377.3 360.0 L378.0 361.7 L378.6 363.9 L379.3 366.6 L380.0 370.0 L380.6 374.2 L381.3 378.9 L382.0 384.0 L382.6 389.0 L383.3 393.7 L384.0 397.7 L384.6 400.8 L385.3 403.2 L386.0 405.1 L386.6 406.7 L387.3 407.9 L388.0 409.0 L388.6 410.0 L389.3 410.9 L390.0 411.8 L390.6 412.9 L391.3 414.1 L391.9 415.4 L392.6 416.8 L393.3 418.2 L393.9 419.6 L394.6 421.1 L395.3 422.4 L395.9 423.5 L396.6 424.2 L397.3 424.3 L397.9 423.7 L398.6 422.3 L399.3 420.0 L399.9 416.6 L400.6 412.2 L401.3 406.5 L401.9 399.7 L402.6 391.8 L403.3 383.2 L403.9 374.0 L404.6 364.3 L405.3 354.5 L405.9 344.6 L406.6 334.9 L407.3 325.5 L407.9 316.7 L408.6 308.4 L409.3 300.8 L409.9 294.0 L410.6 288.1 L411.3 283.2 L411.9 279.4 L412.6 276.8 L413.3 275.6 L413.9 275.7 L414.6 277.2 L415.2 279.9 L415.9 283.5 L416.6 288.0 L417.2 293.2 L417.9 298.8 L418.6 304.8 L419.2 311.0 L419.9 317.2 L420.6 323.3 L421.2 329.2 L421.9 334.7 L422.6 340.0 L423.2 345.0 L423.9 349.5 L424.6 353.6 L425.2 357.2 L425.9 360.3 L426.6 362.9 L427.2 364.9 L427.9 366.4 L428.6 367.4 L429.2 368.0 L429.9 368.1 L430.6 368.0 L431.2 367.5 L431.9 366.8 L432.6 366.0 L433.2 365.2 L433.9 364.4 L434.6 363.8 L435.2 363.3 L435.9 363.0 L436.6 362.9 L437.2 362.8 L437.9 362.9 L438.6 363.0 L439.2 363.1 L439.9 363.3 L440.5 363.4 L441.2 363.5 L441.9 363.6 L442.5 363.7 L443.2 363.7 L443.9 363.7 L444.5 363.7 L445.2 363.7 L445.9 363.7 L446.5 363.6 L447.2 363.6 L447.9 363.5 L448.5 363.5 L449.2 363.5 L449.9 363.4 L450.5 363.4 L451.2 363.4" fill="none" stroke="#d8537c" stroke-width="1.35" stroke-linejoin="round" opacity="0.9"/>
<line x1="278.3" y1="257.0" x2="278.3" y2="431.0" stroke="#c2c2c2" stroke-width="0.9" />
<line x1="277.9" y1="431.0" x2="494.5" y2="431.0" stroke="#c2c2c2" stroke-width="0.9" />
<line x1="275.8" y1="422.0" x2="278.3" y2="422.0" stroke="#b8b8b8" stroke-width="0.8" />
<text x="272.7" y="425.1" font-size="8.8" text-anchor="end" fill="#333" >−10</text>
<line x1="275.8" y1="392.7" x2="278.3" y2="392.7" stroke="#b8b8b8" stroke-width="0.8" />
<text x="272.7" y="395.8" font-size="8.8" text-anchor="end" fill="#333" >−5</text>
<line x1="275.8" y1="363.4" x2="278.3" y2="363.4" stroke="#b8b8b8" stroke-width="0.8" />
<text x="272.7" y="366.5" font-size="8.8" text-anchor="end" fill="#333" >0</text>
<line x1="275.8" y1="334.1" x2="278.3" y2="334.1" stroke="#b8b8b8" stroke-width="0.8" />
<text x="272.7" y="337.2" font-size="8.8" text-anchor="end" fill="#333" >5</text>
<line x1="275.8" y1="304.8" x2="278.3" y2="304.8" stroke="#b8b8b8" stroke-width="0.8" />
<text x="272.7" y="307.9" font-size="8.8" text-anchor="end" fill="#333" >10</text>
<line x1="275.8" y1="275.5" x2="278.3" y2="275.5" stroke="#b8b8b8" stroke-width="0.8" />
<text x="272.7" y="278.6" font-size="8.8" text-anchor="end" fill="#333" >15</text>
<line x1="276.8" y1="407.3" x2="278.3" y2="407.3" stroke="#cccccc" stroke-width="0.7" />
<line x1="276.8" y1="378.0" x2="278.3" y2="378.0" stroke="#cccccc" stroke-width="0.7" />
<line x1="276.8" y1="348.8" x2="278.3" y2="348.8" stroke="#cccccc" stroke-width="0.7" />
<line x1="276.8" y1="319.4" x2="278.3" y2="319.4" stroke="#cccccc" stroke-width="0.7" />
<line x1="276.8" y1="290.1" x2="278.3" y2="290.1" stroke="#cccccc" stroke-width="0.7" />
<line x1="278.4" y1="429.8" x2="278.4" y2="432.5" stroke="#b0b0b0" stroke-width="0.8" />
<text x="278.4" y="443.8" font-size="8.8" text-anchor="middle" fill="#333" >−0.2</text>
<line x1="305.4" y1="429.8" x2="305.4" y2="432.5" stroke="#b0b0b0" stroke-width="0.8" />
<text x="305.4" y="443.8" font-size="8.8" text-anchor="middle" fill="#333" >0</text>
<line x1="332.4" y1="429.8" x2="332.4" y2="432.5" stroke="#b0b0b0" stroke-width="0.8" />
<text x="332.4" y="443.8" font-size="8.8" text-anchor="middle" fill="#333" >0.2</text>
<line x1="359.4" y1="429.8" x2="359.4" y2="432.5" stroke="#b0b0b0" stroke-width="0.8" />
<text x="359.4" y="443.8" font-size="8.8" text-anchor="middle" fill="#333" >0.4</text>
<line x1="386.4" y1="429.8" x2="386.4" y2="432.5" stroke="#b0b0b0" stroke-width="0.8" />
<text x="386.4" y="443.8" font-size="8.8" text-anchor="middle" fill="#333" >0.6</text>
<line x1="413.4" y1="429.8" x2="413.4" y2="432.5" stroke="#b0b0b0" stroke-width="0.8" />
<text x="413.4" y="443.8" font-size="8.8" text-anchor="middle" fill="#333" >0.8</text>
<line x1="440.4" y1="429.8" x2="440.4" y2="432.5" stroke="#b0b0b0" stroke-width="0.8" />
<text x="440.4" y="443.8" font-size="8.8" text-anchor="middle" fill="#333" >1.0</text>
<line x1="467.4" y1="429.8" x2="467.4" y2="432.5" stroke="#b0b0b0" stroke-width="0.8" />
<text x="467.4" y="443.8" font-size="8.8" text-anchor="middle" fill="#333" >1.2</text>
<line x1="494.4" y1="429.8" x2="494.4" y2="432.5" stroke="#b0b0b0" stroke-width="0.8" />
<text x="494.4" y="443.8" font-size="8.8" text-anchor="middle" fill="#333" >1.4</text>
<line x1="291.9" y1="430.4" x2="291.9" y2="431.8" stroke="#c8c8c8" stroke-width="0.7" />
<line x1="318.9" y1="430.4" x2="318.9" y2="431.8" stroke="#c8c8c8" stroke-width="0.7" />
<line x1="345.9" y1="430.4" x2="345.9" y2="431.8" stroke="#c8c8c8" stroke-width="0.7" />
<line x1="372.9" y1="430.4" x2="372.9" y2="431.8" stroke="#c8c8c8" stroke-width="0.7" />
<line x1="399.9" y1="430.4" x2="399.9" y2="431.8" stroke="#c8c8c8" stroke-width="0.7" />
<line x1="426.9" y1="430.4" x2="426.9" y2="431.8" stroke="#c8c8c8" stroke-width="0.7" />
<line x1="453.9" y1="430.4" x2="453.9" y2="431.8" stroke="#c8c8c8" stroke-width="0.7" />
<line x1="480.9" y1="430.4" x2="480.9" y2="431.8" stroke="#c8c8c8" stroke-width="0.7" />
<text x="372.0" y="456.0" font-size="8.8" text-anchor="start" fill="#222" >Time (s)</text>
<text x="258.5" y="345.0" font-size="8.6" text-anchor="middle" fill="#333" transform="rotate(-90 258.5 345.0)" >Voltage (mV)</text>
<rect x="281.0" y="260.6" width="80.5" height="74.5" fill="url(#heatA)" stroke="none" stroke-width="0.6" />
<rect x="281.0" y="260.6" width="80.5" height="74.5" fill="url(#heatB)" stroke="none" stroke-width="0.6" />
<rect x="362.0" y="265.0" width="6.8" height="51.7" fill="url(#cbar)" stroke="none" stroke-width="0.6" />
<text x="361.0" y="262.5" font-size="8.2" text-anchor="start" fill="#222" >1.0</text>
<text x="361.0" y="325.0" font-size="8.2" text-anchor="start" fill="#222" >0.1</text>
<circle cx="299.6" cy="276.5" r="6.2" fill="none" stroke="#14305a" stroke-width="1"/>
<text x="299.6" y="279.1" font-size="7.6" text-anchor="middle" fill="#14264a" >V1</text>
<circle cx="321.6" cy="276.5" r="6.2" fill="none" stroke="#14305a" stroke-width="1"/>
<text x="321.6" y="279.1" font-size="7.6" text-anchor="middle" fill="#14264a" >V2</text>
<circle cx="343.6" cy="276.5" r="6.2" fill="none" stroke="#14305a" stroke-width="1"/>
<text x="343.6" y="279.1" font-size="7.6" text-anchor="middle" fill="#14264a" >V3</text>
<circle cx="299.6" cy="297.9" r="6.2" fill="none" stroke="#14305a" stroke-width="1"/>
<text x="299.6" y="300.5" font-size="7.6" text-anchor="middle" fill="#14264a" >V4</text>
<circle cx="321.6" cy="297.9" r="6.2" fill="none" stroke="#14305a" stroke-width="1"/>
<text x="321.6" y="300.5" font-size="7.6" text-anchor="middle" fill="#14264a" >V5</text>
<circle cx="343.6" cy="297.9" r="6.2" fill="none" stroke="#14305a" stroke-width="1"/>
<text x="343.6" y="300.5" font-size="7.6" text-anchor="middle" fill="#14264a" >V6</text>
<circle cx="299.6" cy="319.3" r="6.4" fill="#f2d830" stroke="#2a2a2a" stroke-width="0.8"/>
<text x="299.6" y="321.9" font-size="7.6" text-anchor="middle" fill="#14264a" >V7</text>
<circle cx="321.6" cy="319.3" r="6.2" fill="none" stroke="#14305a" stroke-width="1"/>
<text x="321.6" y="321.9" font-size="7.6" text-anchor="middle" fill="#14264a" >V8</text>
<circle cx="343.6" cy="319.3" r="6.2" fill="none" stroke="#14305a" stroke-width="1"/>
<text x="343.6" y="321.9" font-size="7.6" text-anchor="middle" fill="#14264a" >V9</text>
<line x1="454.4" y1="265.1" x2="474.5" y2="265.1" stroke="#3d4b5e" stroke-width="1.2" />
<text x="480.3" y="268.3" font-size="8.8" text-anchor="start" fill="#222" >V1</text>
<line x1="454.4" y1="277.1" x2="474.5" y2="277.1" stroke="#aaebe5" stroke-width="1.2" />
<text x="480.3" y="280.3" font-size="8.8" text-anchor="start" fill="#222" >V2</text>
<line x1="454.4" y1="289.2" x2="474.5" y2="289.2" stroke="#7098e0" stroke-width="1.2" />
<text x="480.3" y="292.4" font-size="8.8" text-anchor="start" fill="#222" >V3</text>
<line x1="454.4" y1="301.2" x2="474.5" y2="301.2" stroke="#72c6a6" stroke-width="1.2" />
<text x="480.3" y="304.4" font-size="8.8" text-anchor="start" fill="#222" >V4</text>
<line x1="454.4" y1="313.2" x2="474.5" y2="313.2" stroke="#b9b2de" stroke-width="1.2" />
<text x="480.3" y="316.4" font-size="8.8" text-anchor="start" fill="#222" >V5</text>
<line x1="454.4" y1="325.2" x2="474.5" y2="325.2" stroke="#ece055" stroke-width="1.2" />
<text x="480.3" y="328.4" font-size="8.8" text-anchor="start" fill="#222" >V6</text>
<line x1="454.4" y1="337.3" x2="474.5" y2="337.3" stroke="#7d4a5e" stroke-width="1.2" />
<text x="480.3" y="340.5" font-size="8.8" text-anchor="start" fill="#222" >V7</text>
<line x1="454.4" y1="349.3" x2="474.5" y2="349.3" stroke="#a87890" stroke-width="1.2" />
<text x="480.3" y="352.5" font-size="8.8" text-anchor="start" fill="#222" >V8</text>
<line x1="454.4" y1="361.3" x2="474.5" y2="361.3" stroke="#d3d7da" stroke-width="1.2" />
<text x="480.3" y="364.5" font-size="8.8" text-anchor="start" fill="#222" >V9</text>
<polygon points="627.8,267.0 702.6,321.3 674.0,409.2 581.6,409.2 553.0,321.3" fill="#fad7e0" stroke="#dc8aa6" stroke-width="0.9"/>
<polygon points="627.8,329.9 642.8,340.7 637.0,358.3 618.6,358.3 612.8,340.7" fill="none" stroke="#e3c3cd" stroke-width="0.6"/>
<polygon points="627.8,314.2 657.7,335.9 646.3,371.0 609.3,371.0 597.9,335.9" fill="none" stroke="#e3c3cd" stroke-width="0.6"/>
<polygon points="627.8,298.4 672.7,331.0 655.5,383.8 600.1,383.8 582.9,331.0" fill="none" stroke="#e3c3cd" stroke-width="0.6"/>
<polygon points="627.8,282.7 687.6,326.2 664.8,396.5 590.8,396.5 568.0,326.2" fill="none" stroke="#e3c3cd" stroke-width="0.6"/>
<line x1="627.8" y1="345.6" x2="627.8" y2="267.0" stroke="#dcbcc6" stroke-width="0.6" />
<line x1="627.8" y1="345.6" x2="702.6" y2="321.3" stroke="#dcbcc6" stroke-width="0.6" />
<line x1="627.8" y1="345.6" x2="674.0" y2="409.2" stroke="#dcbcc6" stroke-width="0.6" />
<line x1="627.8" y1="345.6" x2="581.6" y2="409.2" stroke="#dcbcc6" stroke-width="0.6" />
<line x1="627.8" y1="345.6" x2="553.0" y2="321.3" stroke="#dcbcc6" stroke-width="0.6" />
<polygon points="627.8,283.5 674.1,330.5 637.0,358.3 590.4,397.1 597.2,335.6" fill="#f6cf72" fill-opacity="0.8" stroke="#eec45c" stroke-width="0.9"/>
<polygon points="627.8,297.7 642.8,340.7 664.3,395.8 609.3,371.0 612.8,340.7" fill="#7fd6c8" fill-opacity="0.55" stroke="#4fb3b8" stroke-width="0.9"/>
<line x1="627.8" y1="345.6" x2="627.8" y2="267.0" stroke="#c8a0a8" stroke-width="0.5" opacity="0.6"/>
<line x1="627.8" y1="345.6" x2="702.6" y2="321.3" stroke="#c8a0a8" stroke-width="0.5" opacity="0.6"/>
<line x1="627.8" y1="345.6" x2="674.0" y2="409.2" stroke="#c8a0a8" stroke-width="0.5" opacity="0.6"/>
<line x1="627.8" y1="345.6" x2="581.6" y2="409.2" stroke="#c8a0a8" stroke-width="0.5" opacity="0.6"/>
<line x1="627.8" y1="345.6" x2="553.0" y2="321.3" stroke="#c8a0a8" stroke-width="0.5" opacity="0.6"/>
<circle cx="627.8" cy="283.5" r="2.1" fill="#f0cf3c"/>
<circle cx="674.1" cy="330.5" r="2.1" fill="#f0cf3c"/>
<circle cx="637.0" cy="358.3" r="2.1" fill="#f0cf3c"/>
<circle cx="590.4" cy="397.1" r="2.1" fill="#f0cf3c"/>
<circle cx="597.2" cy="335.6" r="2.1" fill="#f0cf3c"/>
<circle cx="627.8" cy="297.7" r="2.1" fill="#3fb5bd"/>
<circle cx="642.8" cy="340.7" r="2.1" fill="#3fb5bd"/>
<circle cx="664.3" cy="395.8" r="2.1" fill="#3fb5bd"/>
<circle cx="609.3" cy="371.0" r="2.1" fill="#3fb5bd"/>
<circle cx="612.8" cy="340.7" r="2.1" fill="#3fb5bd"/>
<circle cx="627.8" cy="267.0" r="2.2" fill="#d0648a"/>
<circle cx="702.6" cy="321.3" r="2.2" fill="#d0648a"/>
<circle cx="674.0" cy="409.2" r="2.2" fill="#d0648a"/>
<circle cx="581.6" cy="409.2" r="2.2" fill="#d0648a"/>
<circle cx="553.0" cy="321.3" r="2.2" fill="#d0648a"/>
<text x="632.5" y="259.5" font-size="8.7" text-anchor="middle" fill="#222" >Manufacturability</text>
<text x="715.0" y="323.0" font-size="8.7" text-anchor="start" fill="#222" >Structural</text>
<text x="715.0" y="334.0" font-size="8.7" text-anchor="start" fill="#222" >designability</text>
<text x="546.5" y="312.0" font-size="8.7" text-anchor="end" fill="#222" >Material</text>
<text x="546.5" y="323.5" font-size="8.7" text-anchor="end" fill="#222" >universality</text>
<text x="527.5" y="420.5" font-size="8.7" text-anchor="start" fill="#222" >Controllability</text>
<text x="680.5" y="418.5" font-size="8.7" text-anchor="start" fill="#222" >Functionality</text>
<rect x="564.1" y="428.2" width="15.6" height="7.6" fill="#e58aa6" stroke="#d0648a" stroke-width="0.6" />
<text x="582.9" y="434.6" font-size="8.9" text-anchor="start" fill="#222" >Metamaterial mechanoreceptor, this study</text>
<rect x="564.1" y="438.8" width="15.6" height="7.6" fill="#f8d47a" stroke="#f0c860" stroke-width="0.6" />
<text x="582.9" y="444.8" font-size="8.9" text-anchor="start" fill="#222" >Traditional microlattices</text>
<rect x="564.1" y="449.4" width="15.6" height="7.6" fill="#45b4d2" stroke="#45b4d2" stroke-width="0.6" />
<text x="582.9" y="454.9" font-size="8.9" text-anchor="start" fill="#222" >Traditional mechanoreceptor</text>
<g id="pa">
<path d="M22.9 36 Q22.9 32 29.3 31.9 Q35.8 32 35.8 36 L31.8 218.6 L27.9 218.6Z" fill="url(#spineg)"/>
<path d="M22.9 37.5 L35.8 37.5 L31.8 218.6 L27.9 218.6Z" fill="url(#spinepat)" opacity="0.38"/>
<path d="M22.9 36 Q22.9 32 29.3 31.9 Q35.8 32 35.8 36 L35.75 38 L22.95 38Z" fill="#ece0dc"/>
<line x1="19.3" y1="166.0" x2="19.3" y2="180.0" stroke="#222" stroke-width="0.9" />
<path d="M17.3 178.5 L19.3 183.2 L21.3 178.5Z" fill="#222"/>
<text x="22.3" y="197.0" font-size="8.6" text-anchor="middle" fill="#222" transform="rotate(-90 22.3 197.0)" >[001]</text>
<line x1="36.0" y1="118.7" x2="42.5" y2="118.7" stroke="#c4dde2" stroke-width="1.4" />
<path d="M41.8 116.2 L46 118.7 L41.8 121.2Z" fill="#c4dde2"/>
<line x1="52.7" y1="37.5" x2="52.7" y2="50.5" stroke="#3c9cb6" stroke-width="1.7" />
<path d="M49.9 39.2 L52.7 33.6 L55.5 39.2Z" fill="#3c9cb6"/><path d="M49.9 48.8 L52.7 54.4 L55.5 48.8Z" fill="#3c9cb6"/>
<rect x="61.3" y="34.5" width="5.6" height="122.0" fill="#161616" stroke="none" stroke-width="0.6" />
<ellipse cx="64.1" cy="34.6" rx="2.8" ry="1" fill="#3a3a3a"/>
<path d="M61 40 L68 40 L101.8 52.5 L101.8 88 L87.3 88 L87.3 62.5 L67 55.5 L61 55.5Z" fill="#d9d9de"/>
<path d="M61 40 L68 40 L101.8 52.5 L96 53.2 L66.5 43 L61 43Z" fill="#f0f0f3"/>
<path d="M96 53.2 L101.8 52.5 L101.8 88 L96 88Z" fill="#c4c4ca"/>
<path d="M61 49 L67 49 L87.3 56.5 L87.3 62.5 L67 55.5 L61 55.5Z" fill="#b9b9c0"/>
<path d="M61.5 86.6 L72 83.5 L118 83.8 L123.5 88.6 L116 90.6 L69 90.6Z" fill="#ebebee"/>
<path d="M61.5 86.6 L69 90.6 L116 90.6 L123.5 88.6 L123.5 90.2 L116 93.2 L69 93.2 L61.5 88.4Z" fill="#b4b4bb"/>
<path d="M69.9 93.2 L72.1 93.2 L71.3 104.6Z" fill="#e2bc3a"/>
<path d="M73.2 93.2 L75.3 93.2 L74.5 105.4Z" fill="#e2bc3a"/>
<path d="M76.4 93.2 L78.6 93.2 L77.8 105.8Z" fill="#e2bc3a"/>
<path d="M79.7 93.2 L81.8 93.2 L81.0 106.8Z" fill="#e2bc3a"/>
<path d="M82.9 93.2 L85.1 93.2 L84.3 105.4Z" fill="#e2bc3a"/>
<path d="M86.2 93.2 L88.3 93.2 L87.5 106.7Z" fill="#e2bc3a"/>
<path d="M89.4 93.2 L91.6 93.2 L90.8 100.4Z" fill="#e2bc3a"/>
<path d="M92.7 93.2 L94.8 93.2 L94.0 103.5Z" fill="#e2bc3a"/>
<path d="M95.9 93.2 L98.1 93.2 L97.3 106.8Z" fill="#e2bc3a"/>
<path d="M99.2 93.2 L101.3 93.2 L100.5 104.7Z" fill="#e2bc3a"/>
<path d="M102.4 93.2 L104.6 93.2 L103.8 106.5Z" fill="#e2bc3a"/>
<path d="M105.7 93.2 L107.8 93.2 L107.0 101.0Z" fill="#e2bc3a"/>
<path d="M108.9 93.2 L111.1 93.2 L110.3 103.5Z" fill="#e2bc3a"/>
<path d="M112.2 93.2 L114.3 93.2 L113.5 101.9Z" fill="#e2bc3a"/>
<path d="M72.6 93.2 L74.4 93.2 L73.5 100.9Z" fill="#f0d870" opacity="0.9"/>
<path d="M76.3 93.2 L78.1 93.2 L77.2 101.1Z" fill="#f0d870" opacity="0.9"/>
<path d="M80.0 93.2 L81.8 93.2 L80.9 98.3Z" fill="#f0d870" opacity="0.9"/>
<path d="M83.7 93.2 L85.5 93.2 L84.6 99.3Z" fill="#f0d870" opacity="0.9"/>
<path d="M87.4 93.2 L89.2 93.2 L88.3 99.6Z" fill="#f0d870" opacity="0.9"/>
<path d="M91.1 93.2 L92.9 93.2 L92.0 102.8Z" fill="#f0d870" opacity="0.9"/>
<path d="M94.8 93.2 L96.6 93.2 L95.7 102.0Z" fill="#f0d870" opacity="0.9"/>
<path d="M98.5 93.2 L100.3 93.2 L99.4 99.0Z" fill="#f0d870" opacity="0.9"/>
<path d="M102.2 93.2 L104.0 93.2 L103.1 102.2Z" fill="#f0d870" opacity="0.9"/>
<path d="M105.9 93.2 L107.7 93.2 L106.8 98.9Z" fill="#f0d870" opacity="0.9"/>
<path d="M109.6 93.2 L111.4 93.2 L110.5 101.3Z" fill="#f0d870" opacity="0.9"/>
<rect x="109.0" y="91.4" width="7.0" height="13.6" fill="none" stroke="#26324e" stroke-width="0.8" />
<line x1="116.0" y1="91.4" x2="149.9" y2="33.6" stroke="#333" stroke-width="0.7" />
<line x1="116.0" y1="105.0" x2="149.3" y2="224.2" stroke="#333" stroke-width="0.7" />
<path d="M78 146 L112 141 L103.5 163 L80.5 163Z" fill="#d4bdec" opacity="0.9"/>
<path d="M61.9 145 L80.6 145 L80.6 155 Q71 160 61.9 155Z" fill="#1a1a1c"/>
<path d="M61.9 151.5 Q71 156.5 80.6 151.5" fill="none" stroke="#55555c" stroke-width="0.8"/>
<path d="M44.8 124 L60 118.5 L113.5 112.3 L140.4 135.5 L72 147.5Z" fill="#e3e3e7"/>
<path d="M44.8 124 L72 147.5 L140.4 135.5 L140.4 137.3 L72 149.6 L44.8 125.8Z" fill="#b0b0b8"/>
<path d="M59 115.7 L80.9 133.4 L80.9 142.3 L59 124Z" fill="#cfcfd5"/>
<path d="M80.9 133.4 L121.7 121.8 L121.7 130.5 L80.9 142.3Z" fill="#dcdce1"/>
<path d="M59 115.7 L100.5 106.8 L121.7 121.8 L80.9 133.4Z" fill="#f1f1f4"/>
<path d="M67.9 118.5 L99.9 110.2 L116.3 122 L116.3 123.2 L99.9 112.6 L67.9 120.6Z" fill="#bdbdc4"/>
<path d="M67.9 120.4 L99.9 112.4 L116.3 123.2 L80.9 131.6Z" fill="url(#resing)"/>
<path d="M62.8 180 L62.8 215.5 Q73 221.5 83.3 215.5 L83.3 196Z" fill="url(#blk)"/>
<path d="M59.3 161 L59.3 172.5 Q60 176 64 179 L83.5 202.5 L83.5 175Z" fill="#a6a6ae"/>
<path d="M78.9 172 L78.9 198 Q80 204.5 93 204.5 Q106 204.5 107.4 198 L107.4 172Z" fill="url(#projg)"/>
<path d="M59.3 161 Q59 156 65 155.5 L84 157 Q104 160 107.4 171.5 Q106 177.5 93 177.5 Q80 177.5 78.9 172 L62 165.5 Q59.5 164 59.3 161Z" fill="#dcdce0"/>
<path d="M80.5 162.5 L80.5 172 Q82 176 91.7 176 Q101.5 176 102.9 172 L102.9 162.5Z" fill="url(#barrelg)"/>
<ellipse cx="91.7" cy="162.4" rx="11.2" ry="4.6" fill="#8464b4"/>
<ellipse cx="90.5" cy="161.6" rx="7" ry="2.6" fill="#9a80c8" opacity="0.8"/>
<path d="M75.3 150.7 L83.3 150 L83 157.5 L76 158Z" fill="#9478c2" opacity="0.85"/>
<circle cx="106.8" cy="86.4" r="2.9" fill="#111"/>
<path d="M106.8 86.4 L126.4 86.4 L126.4 77.6" fill="none" stroke="#111" stroke-width="1.3"/>
<circle cx="95.8" cy="122.9" r="2.9" fill="#111"/>
<path d="M95.8 122.9 L125.8 122.9 L125.8 149" fill="none" stroke="#111" stroke-width="1.3"/>
<circle cx="96.4" cy="193" r="2.9" fill="#111"/>
<path d="M96.4 193 L126.6 193 L126.6 207.5" fill="none" stroke="#111" stroke-width="1.3"/>
<text x="103.4" y="71.2" font-size="8.7" text-anchor="start" fill="#222" >Platform</text>
<text x="107.4" y="156.5" font-size="8.7" text-anchor="start" fill="#222" >Resin</text>
<text x="85.0" y="213.8" font-size="8.7" text-anchor="start" fill="#222" >UV projector</text>
<g stroke-width="1.1" fill="none"><path d="M53.2 224.1 L53.2 214" stroke="#2e7898"/><path d="M53.2 224.1 L64.5 222" stroke="#dc7070"/><path d="M53.2 224.1 L44.5 217.6" stroke="#777"/></g>
<path d="M51.4 214.8 L53.2 210.6 L55 214.8Z" fill="#2e7898"/><path d="M63.6 220.2 L67.8 221.4 L64.2 223.8Z" fill="#dc7070"/><path d="M45.8 216.2 L41.6 215.4 L43.6 219.2Z" fill="#777"/>
<text x="52.9" y="208.6" font-size="8.2" font-style="italic" fill="#223">Z</text><text x="68" y="225.8" font-size="8.2" font-style="italic" fill="#223">X</text><text x="38.8" y="212" font-size="8.2" font-style="italic" fill="#223">Y</text>
<rect x="149.7" y="33.6" width="97.3" height="190.4" fill="none" stroke="#3b4764" stroke-width="0.9" stroke-dasharray="3.2 2"/>
<rect x="196.8" y="42.6" width="43.4" height="165.4" fill="none" stroke="#8fb6d6" stroke-width="0.9" stroke-dasharray="3.5 2.5"/>
<text x="154.7" y="43.1" font-size="8.7" text-anchor="start" fill="#222" >3D model</text>
<text x="218.1" y="53.1" font-size="8.7" text-anchor="middle" fill="#222" >Top view</text>
<text x="218.1" y="101.8" font-size="8.7" text-anchor="middle" fill="#222" >6 mm</text>
<text x="218.0" y="144.1" font-size="8.7" text-anchor="middle" fill="#222" >Cross-</text>
<text x="218.0" y="154.5" font-size="8.7" text-anchor="middle" fill="#222" >section</text>
<text x="218.0" y="169.0" font-size="8.7" text-anchor="middle" fill="#222" >3 mm</text>
<text x="218.0" y="204.4" font-size="8.7" text-anchor="middle" fill="#222" >Bottom</text>
<text x="198.5" y="218.4" font-size="8.7" text-anchor="middle" fill="#222" >Stereom design</text>
<line x1="202.5" y1="90.2" x2="234.3" y2="90.2" stroke="#111" stroke-width="0.9" />
<path d="M206.1 88.4 L202.5 90.2 L206.1 92.0Z" fill="#111"/>
<path d="M230.70000000000002 88.4 L234.3 90.2 L230.70000000000002 92.0Z" fill="#111"/>
<line x1="201.6" y1="176.7" x2="211.5" y2="176.7" stroke="#111" stroke-width="0.9" />
<path d="M207.9 174.89999999999998 L211.5 176.7 L207.9 178.5Z" fill="#111"/>
<line x1="227.0" y1="176.7" x2="238.0" y2="176.7" stroke="#111" stroke-width="0.9" />
<path d="M230.6 174.9 L227 176.7 L230.6 178.5Z" fill="#111"/>
<line x1="183.5" y1="131.6" x2="195.6" y2="131.6" stroke="#111" stroke-width="0.9" />
<path d="M192.0 129.79999999999998 L195.6 131.6 L192.0 133.4Z" fill="#111"/>
<circle cx="222.5" cy="61.3" r="5.1" fill="#f1e15c"/>
<circle cx="228.5" cy="67.3" r="5.1" fill="#f1e15c"/>
<circle cx="228.5" cy="75.9" r="5.1" fill="#f1e15c"/>
<circle cx="222.5" cy="81.9" r="5.1" fill="#f1e15c"/>
<circle cx="213.9" cy="81.9" r="5.1" fill="#f1e15c"/>
<circle cx="207.9" cy="75.9" r="5.1" fill="#f1e15c"/>
<circle cx="207.9" cy="67.3" r="5.1" fill="#f1e15c"/>
<circle cx="213.9" cy="61.3" r="5.1" fill="#f1e15c"/>
<circle cx="222.5" cy="61.3" r="4.0" fill="#d6b226"/>
<circle cx="228.5" cy="67.3" r="4.0" fill="#d6b226"/>
<circle cx="228.5" cy="75.9" r="4.0" fill="#d6b226"/>
<circle cx="222.5" cy="81.9" r="4.0" fill="#d6b226"/>
<circle cx="213.9" cy="81.9" r="4.0" fill="#d6b226"/>
<circle cx="207.9" cy="75.9" r="4.0" fill="#d6b226"/>
<circle cx="207.9" cy="67.3" r="4.0" fill="#d6b226"/>
<circle cx="213.9" cy="61.3" r="4.0" fill="#d6b226"/>
<circle cx="218.2" cy="71.6" r="10.9" fill="#d2ae24"/>
<circle cx="223.0" cy="59.9" r="2.0" fill="#86681a"/>
<circle cx="229.9" cy="66.8" r="2.0" fill="#86681a"/>
<circle cx="229.9" cy="76.4" r="2.0" fill="#86681a"/>
<circle cx="223.0" cy="83.3" r="2.0" fill="#86681a"/>
<circle cx="213.4" cy="83.3" r="2.0" fill="#86681a"/>
<circle cx="206.5" cy="76.4" r="2.0" fill="#86681a"/>
<circle cx="206.5" cy="66.8" r="2.0" fill="#86681a"/>
<circle cx="213.4" cy="59.9" r="2.0" fill="#86681a"/>
<circle cx="218.2" cy="71.6" r="8.0" fill="#7c6824"/>
<circle cx="218.2" cy="71.6" r="2.7" fill="#e6dfc6"/>
<circle cx="221.0" cy="116.6" r="3.5" fill="#f1e15c"/>
<circle cx="225.2" cy="120.8" r="3.5" fill="#f1e15c"/>
<circle cx="225.2" cy="126.6" r="3.5" fill="#f1e15c"/>
<circle cx="221.0" cy="130.8" r="3.5" fill="#f1e15c"/>
<circle cx="215.2" cy="130.8" r="3.5" fill="#f1e15c"/>
<circle cx="211.0" cy="126.6" r="3.5" fill="#f1e15c"/>
<circle cx="211.0" cy="120.8" r="3.5" fill="#f1e15c"/>
<circle cx="215.2" cy="116.6" r="3.5" fill="#f1e15c"/>
<circle cx="221.0" cy="116.6" r="2.8" fill="#d6b226"/>
<circle cx="225.2" cy="120.8" r="2.8" fill="#d6b226"/>
<circle cx="225.2" cy="126.6" r="2.8" fill="#d6b226"/>
<circle cx="221.0" cy="130.8" r="2.8" fill="#d6b226"/>
<circle cx="215.2" cy="130.8" r="2.8" fill="#d6b226"/>
<circle cx="211.0" cy="126.6" r="2.8" fill="#d6b226"/>
<circle cx="211.0" cy="120.8" r="2.8" fill="#d6b226"/>
<circle cx="215.2" cy="116.6" r="2.8" fill="#d6b226"/>
<circle cx="218.1" cy="123.7" r="7.5" fill="#d2ae24"/>
<circle cx="221.4" cy="115.7" r="1.4" fill="#86681a"/>
<circle cx="226.1" cy="120.4" r="1.4" fill="#86681a"/>
<circle cx="226.1" cy="127.0" r="1.4" fill="#86681a"/>
<circle cx="221.4" cy="131.7" r="1.4" fill="#86681a"/>
<circle cx="214.8" cy="131.7" r="1.4" fill="#86681a"/>
<circle cx="210.1" cy="127.0" r="1.4" fill="#86681a"/>
<circle cx="210.1" cy="120.4" r="1.4" fill="#86681a"/>
<circle cx="214.8" cy="115.7" r="1.4" fill="#86681a"/>
<circle cx="218.1" cy="123.7" r="5.5" fill="#7c6824"/>
<circle cx="218.1" cy="123.7" r="1.9" fill="#e6dfc6"/>
<circle cx="220.6" cy="181.5" r="2.8" fill="#f3eaa4"/>
<circle cx="224.2" cy="185.1" r="2.8" fill="#f3eaa4"/>
<circle cx="224.2" cy="190.1" r="2.8" fill="#f3eaa4"/>
<circle cx="220.6" cy="193.7" r="2.8" fill="#f3eaa4"/>
<circle cx="215.6" cy="193.7" r="2.8" fill="#f3eaa4"/>
<circle cx="212.0" cy="190.1" r="2.8" fill="#f3eaa4"/>
<circle cx="212.0" cy="185.1" r="2.8" fill="#f3eaa4"/>
<circle cx="215.6" cy="181.5" r="2.8" fill="#f3eaa4"/>
<circle cx="218.1" cy="187.6" r="6.8" fill="none" stroke="#e2cc58" stroke-width="2.8"/>
<circle cx="220.7" cy="181.3" r="1.2" fill="#fbf7dc"/>
<circle cx="224.4" cy="185.0" r="1.2" fill="#fbf7dc"/>
<circle cx="224.4" cy="190.2" r="1.2" fill="#fbf7dc"/>
<circle cx="220.7" cy="193.9" r="1.2" fill="#fbf7dc"/>
<circle cx="215.5" cy="193.9" r="1.2" fill="#fbf7dc"/>
<circle cx="211.8" cy="190.2" r="1.2" fill="#fbf7dc"/>
<circle cx="211.8" cy="185.0" r="1.2" fill="#fbf7dc"/>
<circle cx="215.5" cy="181.3" r="1.2" fill="#fbf7dc"/>
<circle cx="218.1" cy="187.6" r="4.8" fill="#fdfbee"/>
<circle cx="219.7" cy="186.0" r="2.0" fill="none" stroke="#dcc250" stroke-width="0.8"/>
<circle cx="219.7" cy="189.2" r="2.0" fill="none" stroke="#dcc250" stroke-width="0.8"/>
<circle cx="216.5" cy="189.2" r="2.0" fill="none" stroke="#dcc250" stroke-width="0.8"/>
<circle cx="216.5" cy="186.0" r="2.0" fill="none" stroke="#dcc250" stroke-width="0.8"/>
<line x1="202.5" y1="76.0" x2="202.5" y2="91.5" stroke="#b8b8b8" stroke-width="0.6" />
<line x1="234.3" y1="76.0" x2="234.3" y2="91.5" stroke="#b8b8b8" stroke-width="0.6" />
<line x1="211.5" y1="174.0" x2="211.5" y2="180.0" stroke="#555" stroke-width="0.6" />
<line x1="227.0" y1="174.0" x2="227.0" y2="180.0" stroke="#555" stroke-width="0.6" />
<path d="M157.3 47.3 Q173 44.8 188.7 47.3 L180.3 207 Q175.3 209.5 170.3 207Z" fill="url(#latg)"/>
<ellipse cx="159.7" cy="49.5" rx="1.57" ry="1.87" fill="#7d6114" opacity="0.9"/>
<ellipse cx="167.9" cy="49.5" rx="2.65" ry="1.87" fill="#7d6114" opacity="0.9"/>
<ellipse cx="178.2" cy="49.5" rx="2.65" ry="1.87" fill="#7d6114" opacity="0.9"/>
<ellipse cx="186.4" cy="49.5" rx="1.57" ry="1.87" fill="#7d6114" opacity="0.9"/>
<ellipse cx="163.5" cy="53.1" rx="2.19" ry="1.84" fill="#7d6114" opacity="0.9"/>
<ellipse cx="173.1" cy="53.1" rx="2.76" ry="1.84" fill="#7d6114" opacity="0.9"/>
<ellipse cx="182.7" cy="53.1" rx="2.19" ry="1.84" fill="#7d6114" opacity="0.9"/>
<ellipse cx="160.2" cy="56.6" rx="1.52" ry="1.81" fill="#7d6114" opacity="0.9"/>
<ellipse cx="168.1" cy="56.6" rx="2.57" ry="1.81" fill="#7d6114" opacity="0.9"/>
<ellipse cx="178.1" cy="56.6" rx="2.57" ry="1.81" fill="#7d6114" opacity="0.9"/>
<ellipse cx="186.1" cy="56.6" rx="1.52" ry="1.81" fill="#7d6114" opacity="0.9"/>
<ellipse cx="163.9" cy="60.1" rx="2.13" ry="1.78" fill="#7d6114" opacity="0.9"/>
<ellipse cx="173.2" cy="60.1" rx="2.67" ry="1.78" fill="#7d6114" opacity="0.9"/>
<ellipse cx="182.5" cy="60.1" rx="2.13" ry="1.78" fill="#7d6114" opacity="0.9"/>
<ellipse cx="160.7" cy="63.5" rx="1.48" ry="1.75" fill="#7d6114" opacity="0.9"/>
<ellipse cx="168.4" cy="63.5" rx="2.49" ry="1.75" fill="#7d6114" opacity="0.9"/>
<ellipse cx="178.1" cy="63.5" rx="2.49" ry="1.75" fill="#7d6114" opacity="0.9"/>
<ellipse cx="185.8" cy="63.5" rx="1.48" ry="1.75" fill="#7d6114" opacity="0.9"/>
<ellipse cx="164.2" cy="66.8" rx="2.06" ry="1.73" fill="#7d6114" opacity="0.9"/>
<ellipse cx="173.3" cy="66.8" rx="2.59" ry="1.73" fill="#7d6114" opacity="0.9"/>
<ellipse cx="182.3" cy="66.8" rx="2.06" ry="1.73" fill="#7d6114" opacity="0.9"/>
<ellipse cx="161.2" cy="70.2" rx="1.43" ry="1.70" fill="#7d6114" opacity="0.9"/>
<ellipse cx="168.6" cy="70.2" rx="2.42" ry="1.70" fill="#7d6114" opacity="0.9"/>
<ellipse cx="178.0" cy="70.2" rx="2.42" ry="1.70" fill="#7d6114" opacity="0.9"/>
<ellipse cx="185.5" cy="70.2" rx="1.43" ry="1.70" fill="#7d6114" opacity="0.9"/>
<ellipse cx="164.6" cy="73.4" rx="2.00" ry="1.67" fill="#7d6114" opacity="0.9"/>
<ellipse cx="173.4" cy="73.4" rx="2.51" ry="1.67" fill="#7d6114" opacity="0.9"/>
<ellipse cx="182.1" cy="73.4" rx="2.00" ry="1.67" fill="#7d6114" opacity="0.9"/>
<ellipse cx="161.6" cy="76.6" rx="1.39" ry="1.65" fill="#7d6114" opacity="0.9"/>
<ellipse cx="168.9" cy="76.6" rx="2.34" ry="1.65" fill="#7d6114" opacity="0.9"/>
<ellipse cx="178.0" cy="76.6" rx="2.34" ry="1.65" fill="#7d6114" opacity="0.9"/>
<ellipse cx="185.2" cy="76.6" rx="1.39" ry="1.65" fill="#7d6114" opacity="0.9"/>
<ellipse cx="165.0" cy="79.8" rx="1.94" ry="1.62" fill="#7d6114" opacity="0.9"/>
<ellipse cx="173.5" cy="79.8" rx="2.43" ry="1.62" fill="#7d6114" opacity="0.9"/>
<ellipse cx="182.0" cy="79.8" rx="1.94" ry="1.62" fill="#7d6114" opacity="0.9"/>
<ellipse cx="162.1" cy="82.9" rx="1.34" ry="1.60" fill="#7d6114" opacity="0.9"/>
<ellipse cx="169.1" cy="82.9" rx="2.27" ry="1.60" fill="#7d6114" opacity="0.9"/>
<ellipse cx="177.9" cy="82.9" rx="2.27" ry="1.60" fill="#7d6114" opacity="0.9"/>
<ellipse cx="185.0" cy="82.9" rx="1.34" ry="1.60" fill="#7d6114" opacity="0.9"/>
<ellipse cx="165.3" cy="86.0" rx="1.88" ry="1.57" fill="#7d6114" opacity="0.9"/>
<ellipse cx="173.6" cy="86.0" rx="2.36" ry="1.57" fill="#7d6114" opacity="0.9"/>
<ellipse cx="181.8" cy="86.0" rx="1.88" ry="1.57" fill="#7d6114" opacity="0.9"/>
<ellipse cx="162.5" cy="89.0" rx="1.30" ry="1.55" fill="#7d6114" opacity="0.9"/>
<ellipse cx="169.3" cy="89.0" rx="2.20" ry="1.55" fill="#7d6114" opacity="0.9"/>
<ellipse cx="177.9" cy="89.0" rx="2.20" ry="1.55" fill="#7d6114" opacity="0.9"/>
<ellipse cx="184.7" cy="89.0" rx="1.30" ry="1.55" fill="#7d6114" opacity="0.9"/>
<ellipse cx="165.7" cy="91.9" rx="1.82" ry="1.53" fill="#7d6114" opacity="0.9"/>
<ellipse cx="173.6" cy="91.9" rx="2.29" ry="1.53" fill="#7d6114" opacity="0.9"/>
<ellipse cx="181.6" cy="91.9" rx="1.82" ry="1.53" fill="#7d6114" opacity="0.9"/>
<ellipse cx="162.9" cy="94.9" rx="1.26" ry="1.50" fill="#7d6114" opacity="0.9"/>
<ellipse cx="169.5" cy="94.9" rx="2.13" ry="1.50" fill="#7d6114" opacity="0.9"/>
<ellipse cx="177.8" cy="94.9" rx="2.13" ry="1.50" fill="#7d6114" opacity="0.9"/>
<ellipse cx="184.4" cy="94.9" rx="1.26" ry="1.50" fill="#7d6114" opacity="0.9"/>
<ellipse cx="166.0" cy="97.7" rx="1.77" ry="1.48" fill="#7d6114" opacity="0.9"/>
<ellipse cx="173.7" cy="97.7" rx="2.22" ry="1.48" fill="#7d6114" opacity="0.9"/>
<ellipse cx="181.5" cy="97.7" rx="1.77" ry="1.48" fill="#7d6114" opacity="0.9"/>
<ellipse cx="163.3" cy="100.6" rx="1.23" ry="1.46" fill="#7d6114" opacity="0.9"/>
<ellipse cx="169.7" cy="100.6" rx="2.07" ry="1.46" fill="#7d6114" opacity="0.9"/>
<ellipse cx="177.8" cy="100.6" rx="2.07" ry="1.46" fill="#7d6114" opacity="0.9"/>
<ellipse cx="184.2" cy="100.6" rx="1.23" ry="1.46" fill="#7d6114" opacity="0.9"/>
<ellipse cx="166.3" cy="103.4" rx="1.71" ry="1.43" fill="#7d6114" opacity="0.9"/>
<ellipse cx="173.8" cy="103.4" rx="2.15" ry="1.43" fill="#7d6114" opacity="0.9"/>
<ellipse cx="181.3" cy="103.4" rx="1.71" ry="1.43" fill="#7d6114" opacity="0.9"/>
<ellipse cx="163.7" cy="106.1" rx="1.19" ry="1.41" fill="#7d6114" opacity="0.9"/>
<ellipse cx="169.9" cy="106.1" rx="2.01" ry="1.41" fill="#7d6114" opacity="0.9"/>
<ellipse cx="177.7" cy="106.1" rx="2.01" ry="1.41" fill="#7d6114" opacity="0.9"/>
<ellipse cx="183.9" cy="106.1" rx="1.19" ry="1.41" fill="#7d6114" opacity="0.9"/>
<ellipse cx="166.6" cy="108.8" rx="1.66" ry="1.39" fill="#7d6114" opacity="0.9"/>
<ellipse cx="173.9" cy="108.8" rx="2.08" ry="1.39" fill="#7d6114" opacity="0.9"/>
<ellipse cx="181.2" cy="108.8" rx="1.66" ry="1.39" fill="#7d6114" opacity="0.9"/>
<ellipse cx="164.1" cy="111.5" rx="1.15" ry="1.37" fill="#7d6114" opacity="0.9"/>
<ellipse cx="170.1" cy="111.5" rx="1.94" ry="1.37" fill="#7d6114" opacity="0.9"/>
<ellipse cx="177.7" cy="111.5" rx="1.94" ry="1.37" fill="#7d6114" opacity="0.9"/>
<ellipse cx="183.7" cy="111.5" rx="1.15" ry="1.37" fill="#7d6114" opacity="0.9"/>
<ellipse cx="166.9" cy="114.1" rx="1.61" ry="1.35" fill="#7d6114" opacity="0.9"/>
<ellipse cx="174.0" cy="114.1" rx="2.02" ry="1.35" fill="#7d6114" opacity="0.9"/>
<ellipse cx="181.0" cy="114.1" rx="1.61" ry="1.35" fill="#7d6114" opacity="0.9"/>
<ellipse cx="164.5" cy="116.7" rx="1.12" ry="1.33" fill="#7d6114" opacity="0.9"/>
<ellipse cx="170.3" cy="116.7" rx="1.89" ry="1.33" fill="#7d6114" opacity="0.9"/>
<ellipse cx="177.7" cy="116.7" rx="1.89" ry="1.33" fill="#7d6114" opacity="0.9"/>
<ellipse cx="183.5" cy="116.7" rx="1.12" ry="1.33" fill="#7d6114" opacity="0.9"/>
<ellipse cx="167.2" cy="119.2" rx="1.56" ry="1.31" fill="#7d6114" opacity="0.9"/>
<ellipse cx="174.0" cy="119.2" rx="1.96" ry="1.31" fill="#7d6114" opacity="0.9"/>
<ellipse cx="180.9" cy="119.2" rx="1.56" ry="1.31" fill="#7d6114" opacity="0.9"/>
<ellipse cx="164.9" cy="121.7" rx="1.08" ry="1.29" fill="#7d6114" opacity="0.9"/>
<ellipse cx="170.5" cy="121.7" rx="1.83" ry="1.29" fill="#7d6114" opacity="0.9"/>
<ellipse cx="177.6" cy="121.7" rx="1.83" ry="1.29" fill="#7d6114" opacity="0.9"/>
<ellipse cx="183.3" cy="121.7" rx="1.08" ry="1.29" fill="#7d6114" opacity="0.9"/>
<ellipse cx="166.4" cy="124.2" rx="0.90" ry="0.93" fill="#8a6c18" opacity="0.45"/>
<ellipse cx="171.3" cy="124.2" rx="1.22" ry="0.93" fill="#8a6c18" opacity="0.75"/>
<ellipse cx="176.9" cy="124.2" rx="1.22" ry="0.93" fill="#8a6c18" opacity="0.75"/>
<ellipse cx="181.8" cy="124.2" rx="0.90" ry="0.93" fill="#8a6c18" opacity="0.45"/>
<ellipse cx="164.9" cy="126.8" rx="0.63" ry="0.91" fill="#8a6c18" opacity="0.45"/>
<ellipse cx="168.8" cy="126.8" rx="1.08" ry="0.91" fill="#8a6c18" opacity="0.75"/>
<ellipse cx="174.1" cy="126.8" rx="1.24" ry="0.91" fill="#8a6c18" opacity="0.75"/>
<ellipse cx="179.5" cy="126.8" rx="1.08" ry="0.91" fill="#8a6c18" opacity="0.75"/>
<ellipse cx="183.4" cy="126.8" rx="0.63" ry="0.91" fill="#8a6c18" opacity="0.45"/>
<ellipse cx="166.7" cy="129.4" rx="0.87" ry="0.90" fill="#8a6c18" opacity="0.45"/>
<ellipse cx="171.5" cy="129.4" rx="1.18" ry="0.90" fill="#8a6c18" opacity="0.75"/>
<ellipse cx="176.9" cy="129.4" rx="1.18" ry="0.90" fill="#8a6c18" opacity="0.75"/>
<ellipse cx="181.6" cy="129.4" rx="0.87" ry="0.90" fill="#8a6c18" opacity="0.45"/>
<ellipse cx="165.2" cy="131.9" rx="0.61" ry="0.88" fill="#8a6c18" opacity="0.45"/>
<ellipse cx="169.0" cy="131.9" rx="1.04" ry="0.88" fill="#8a6c18" opacity="0.75"/>
<ellipse cx="174.2" cy="131.9" rx="1.20" ry="0.88" fill="#8a6c18" opacity="0.75"/>
<ellipse cx="179.4" cy="131.9" rx="1.04" ry="0.88" fill="#8a6c18" opacity="0.75"/>
<ellipse cx="183.2" cy="131.9" rx="0.61" ry="0.88" fill="#8a6c18" opacity="0.45"/>
<ellipse cx="167.1" cy="134.4" rx="0.84" ry="0.87" fill="#8a6c18" opacity="0.45"/>
<ellipse cx="171.6" cy="134.4" rx="1.14" ry="0.87" fill="#8a6c18" opacity="0.75"/>
<ellipse cx="176.9" cy="134.4" rx="1.14" ry="0.87" fill="#8a6c18" opacity="0.75"/>
<ellipse cx="181.5" cy="134.4" rx="0.84" ry="0.87" fill="#8a6c18" opacity="0.45"/>
<ellipse cx="165.6" cy="136.8" rx="0.59" ry="0.85" fill="#8a6c18" opacity="0.45"/>
<ellipse cx="169.3" cy="136.8" rx="1.01" ry="0.85" fill="#8a6c18" opacity="0.75"/>
<ellipse cx="174.3" cy="136.8" rx="1.16" ry="0.85" fill="#8a6c18" opacity="0.75"/>
<ellipse cx="179.3" cy="136.8" rx="1.01" ry="0.85" fill="#8a6c18" opacity="0.75"/>
<ellipse cx="183.0" cy="136.8" rx="0.59" ry="0.85" fill="#8a6c18" opacity="0.45"/>
<ellipse cx="167.4" cy="139.2" rx="0.81" ry="0.84" fill="#8a6c18" opacity="0.45"/>
<ellipse cx="171.8" cy="139.2" rx="1.11" ry="0.84" fill="#8a6c18" opacity="0.75"/>
<ellipse cx="176.9" cy="139.2" rx="1.11" ry="0.84" fill="#8a6c18" opacity="0.75"/>
<ellipse cx="181.3" cy="139.2" rx="0.81" ry="0.84" fill="#8a6c18" opacity="0.45"/>
<ellipse cx="166.0" cy="141.6" rx="0.57" ry="0.83" fill="#8a6c18" opacity="0.45"/>
<ellipse cx="169.5" cy="141.6" rx="0.98" ry="0.83" fill="#8a6c18" opacity="0.75"/>
<ellipse cx="174.4" cy="141.6" rx="1.13" ry="0.83" fill="#8a6c18" opacity="0.75"/>
<ellipse cx="179.2" cy="141.6" rx="0.98" ry="0.83" fill="#8a6c18" opacity="0.75"/>
<ellipse cx="182.8" cy="141.6" rx="0.57" ry="0.83" fill="#8a6c18" opacity="0.45"/>
<ellipse cx="167.7" cy="143.9" rx="0.79" ry="0.81" fill="#8a6c18" opacity="0.45"/>
<ellipse cx="171.9" cy="143.9" rx="1.07" ry="0.81" fill="#8a6c18" opacity="0.75"/>
<ellipse cx="176.9" cy="143.9" rx="1.07" ry="0.81" fill="#8a6c18" opacity="0.75"/>
<ellipse cx="181.1" cy="143.9" rx="0.79" ry="0.81" fill="#8a6c18" opacity="0.45"/>
<ellipse cx="166.3" cy="146.2" rx="0.55" ry="0.80" fill="#8a6c18" opacity="0.45"/>
<ellipse cx="169.7" cy="146.2" rx="0.94" ry="0.80" fill="#8a6c18" opacity="0.75"/>
<ellipse cx="174.4" cy="146.2" rx="1.09" ry="0.80" fill="#8a6c18" opacity="0.75"/>
<ellipse cx="179.1" cy="146.2" rx="0.94" ry="0.80" fill="#8a6c18" opacity="0.75"/>
<ellipse cx="182.5" cy="146.2" rx="0.55" ry="0.80" fill="#8a6c18" opacity="0.45"/>
<ellipse cx="167.9" cy="148.5" rx="0.76" ry="0.79" fill="#8a6c18" opacity="0.45"/>
<ellipse cx="172.1" cy="148.5" rx="1.03" ry="0.79" fill="#8a6c18" opacity="0.75"/>
<ellipse cx="176.8" cy="148.5" rx="1.03" ry="0.79" fill="#8a6c18" opacity="0.75"/>
<ellipse cx="181.0" cy="148.5" rx="0.76" ry="0.79" fill="#8a6c18" opacity="0.45"/>
<ellipse cx="166.6" cy="150.7" rx="0.53" ry="0.77" fill="#8a6c18" opacity="0.45"/>
<ellipse cx="170.0" cy="150.7" rx="0.91" ry="0.77" fill="#8a6c18" opacity="0.75"/>
<ellipse cx="174.5" cy="150.7" rx="1.05" ry="0.77" fill="#8a6c18" opacity="0.75"/>
<ellipse cx="179.0" cy="150.7" rx="0.91" ry="0.77" fill="#8a6c18" opacity="0.75"/>
<ellipse cx="182.3" cy="150.7" rx="0.53" ry="0.77" fill="#8a6c18" opacity="0.45"/>
<ellipse cx="168.2" cy="152.9" rx="0.74" ry="0.76" fill="#8a6c18" opacity="0.45"/>
<ellipse cx="172.2" cy="152.9" rx="1.00" ry="0.76" fill="#8a6c18" opacity="0.75"/>
<ellipse cx="176.8" cy="152.9" rx="1.00" ry="0.76" fill="#8a6c18" opacity="0.75"/>
<ellipse cx="180.8" cy="152.9" rx="0.74" ry="0.76" fill="#8a6c18" opacity="0.45"/>
<ellipse cx="167.0" cy="155.0" rx="0.52" ry="0.75" fill="#8a6c18" opacity="0.45"/>
<ellipse cx="170.2" cy="155.0" rx="0.88" ry="0.75" fill="#8a6c18" opacity="0.75"/>
<ellipse cx="174.6" cy="155.0" rx="1.02" ry="0.75" fill="#8a6c18" opacity="0.75"/>
<ellipse cx="178.9" cy="155.0" rx="0.88" ry="0.75" fill="#8a6c18" opacity="0.75"/>
<ellipse cx="182.1" cy="155.0" rx="0.52" ry="0.75" fill="#8a6c18" opacity="0.45"/>
<ellipse cx="168.5" cy="157.1" rx="0.71" ry="0.73" fill="#8a6c18" opacity="0.45"/>
<ellipse cx="172.4" cy="157.1" rx="0.97" ry="0.73" fill="#8a6c18" opacity="0.75"/>
<ellipse cx="176.8" cy="157.1" rx="0.97" ry="0.73" fill="#8a6c18" opacity="0.75"/>
<ellipse cx="180.7" cy="157.1" rx="0.71" ry="0.73" fill="#8a6c18" opacity="0.45"/>
<ellipse cx="167.3" cy="159.2" rx="0.50" ry="0.72" fill="#8a6c18" opacity="0.45"/>
<ellipse cx="170.4" cy="159.2" rx="0.85" ry="0.72" fill="#8a6c18" opacity="0.75"/>
<ellipse cx="174.6" cy="159.2" rx="0.98" ry="0.72" fill="#8a6c18" opacity="0.75"/>
<ellipse cx="178.8" cy="159.2" rx="0.85" ry="0.72" fill="#8a6c18" opacity="0.75"/>
<ellipse cx="182.0" cy="159.2" rx="0.50" ry="0.72" fill="#8a6c18" opacity="0.45"/>
<ellipse cx="168.8" cy="161.2" rx="0.69" ry="0.71" fill="#8a6c18" opacity="0.45"/>
<ellipse cx="172.5" cy="161.2" rx="0.94" ry="0.71" fill="#8a6c18" opacity="0.75"/>
<ellipse cx="176.8" cy="161.2" rx="0.94" ry="0.71" fill="#8a6c18" opacity="0.75"/>
<ellipse cx="180.5" cy="161.2" rx="0.69" ry="0.71" fill="#8a6c18" opacity="0.45"/>
<ellipse cx="167.6" cy="163.2" rx="0.48" ry="0.70" fill="#8a6c18" opacity="0.45"/>
<ellipse cx="170.6" cy="163.2" rx="0.83" ry="0.70" fill="#8a6c18" opacity="0.75"/>
<ellipse cx="174.7" cy="163.2" rx="0.95" ry="0.70" fill="#8a6c18" opacity="0.75"/>
<ellipse cx="178.8" cy="163.2" rx="0.83" ry="0.70" fill="#8a6c18" opacity="0.75"/>
<ellipse cx="181.8" cy="163.2" rx="0.48" ry="0.70" fill="#8a6c18" opacity="0.45"/>
<ellipse cx="169.0" cy="165.2" rx="0.67" ry="0.69" fill="#8a6c18" opacity="0.45"/>
<ellipse cx="172.6" cy="165.2" rx="0.90" ry="0.69" fill="#8a6c18" opacity="0.75"/>
<ellipse cx="176.8" cy="165.2" rx="0.90" ry="0.69" fill="#8a6c18" opacity="0.75"/>
<ellipse cx="180.4" cy="165.2" rx="0.67" ry="0.69" fill="#8a6c18" opacity="0.45"/>
<ellipse cx="167.9" cy="167.1" rx="0.47" ry="0.68" fill="#8a6c18" opacity="0.45"/>
<ellipse cx="170.8" cy="167.1" rx="0.80" ry="0.68" fill="#8a6c18" opacity="0.75"/>
<ellipse cx="174.7" cy="167.1" rx="0.92" ry="0.68" fill="#8a6c18" opacity="0.75"/>
<ellipse cx="178.7" cy="167.1" rx="0.80" ry="0.68" fill="#8a6c18" opacity="0.75"/>
<ellipse cx="181.6" cy="167.1" rx="0.47" ry="0.68" fill="#8a6c18" opacity="0.45"/>
<ellipse cx="169.2" cy="169.0" rx="0.64" ry="0.66" fill="#8a6c18" opacity="0.45"/>
<ellipse cx="172.7" cy="169.0" rx="0.87" ry="0.66" fill="#8a6c18" opacity="0.75"/>
<ellipse cx="176.8" cy="169.0" rx="0.87" ry="0.66" fill="#8a6c18" opacity="0.75"/>
<ellipse cx="180.3" cy="169.0" rx="0.64" ry="0.66" fill="#8a6c18" opacity="0.45"/>
<ellipse cx="168.1" cy="170.9" rx="0.45" ry="0.65" fill="#8a6c18" opacity="0.45"/>
<ellipse cx="171.0" cy="170.9" rx="0.77" ry="0.65" fill="#8a6c18" opacity="0.75"/>
<ellipse cx="174.8" cy="170.9" rx="0.89" ry="0.65" fill="#8a6c18" opacity="0.75"/>
<ellipse cx="178.6" cy="170.9" rx="0.77" ry="0.65" fill="#8a6c18" opacity="0.75"/>
<ellipse cx="181.4" cy="170.9" rx="0.45" ry="0.65" fill="#8a6c18" opacity="0.45"/>
<ellipse cx="169.5" cy="172.7" rx="0.62" ry="0.64" fill="#8a6c18" opacity="0.45"/>
<ellipse cx="172.9" cy="172.7" rx="0.85" ry="0.64" fill="#8a6c18" opacity="0.75"/>
<ellipse cx="176.8" cy="172.7" rx="0.85" ry="0.64" fill="#8a6c18" opacity="0.75"/>
<ellipse cx="180.1" cy="172.7" rx="0.62" ry="0.64" fill="#8a6c18" opacity="0.45"/>
<ellipse cx="168.4" cy="174.5" rx="0.44" ry="0.63" fill="#8a6c18" opacity="0.45"/>
<ellipse cx="171.1" cy="174.5" rx="0.75" ry="0.63" fill="#8a6c18" opacity="0.75"/>
<ellipse cx="174.8" cy="174.5" rx="0.86" ry="0.63" fill="#8a6c18" opacity="0.75"/>
<ellipse cx="178.5" cy="174.5" rx="0.75" ry="0.63" fill="#8a6c18" opacity="0.75"/>
<ellipse cx="181.3" cy="174.5" rx="0.44" ry="0.63" fill="#8a6c18" opacity="0.45"/>
<ellipse cx="169.7" cy="176.3" rx="0.60" ry="0.62" fill="#8a6c18" opacity="0.45"/>
<ellipse cx="173.0" cy="176.3" rx="0.82" ry="0.62" fill="#8a6c18" opacity="0.75"/>
<ellipse cx="176.7" cy="176.3" rx="0.82" ry="0.62" fill="#8a6c18" opacity="0.75"/>
<ellipse cx="180.0" cy="176.3" rx="0.60" ry="0.62" fill="#8a6c18" opacity="0.45"/>
<ellipse cx="168.7" cy="178.1" rx="0.42" ry="0.61" fill="#8a6c18" opacity="0.45"/>
<ellipse cx="171.3" cy="178.1" rx="0.72" ry="0.61" fill="#8a6c18" opacity="0.75"/>
<ellipse cx="174.9" cy="178.1" rx="0.83" ry="0.61" fill="#8a6c18" opacity="0.75"/>
<ellipse cx="178.5" cy="178.1" rx="0.72" ry="0.61" fill="#8a6c18" opacity="0.75"/>
<ellipse cx="181.1" cy="178.1" rx="0.42" ry="0.61" fill="#8a6c18" opacity="0.45"/>
<ellipse cx="169.9" cy="179.8" rx="0.58" ry="0.60" fill="#8a6c18" opacity="0.45"/>
<ellipse cx="173.1" cy="179.8" rx="0.79" ry="0.60" fill="#8a6c18" opacity="0.75"/>
<ellipse cx="176.7" cy="179.8" rx="0.79" ry="0.60" fill="#8a6c18" opacity="0.75"/>
<ellipse cx="179.9" cy="179.8" rx="0.58" ry="0.60" fill="#8a6c18" opacity="0.45"/>
<ellipse cx="168.9" cy="181.5" rx="0.41" ry="0.59" fill="#8a6c18" opacity="0.45"/>
<ellipse cx="171.5" cy="181.5" rx="0.70" ry="0.59" fill="#8a6c18" opacity="0.75"/>
<ellipse cx="174.9" cy="181.5" rx="0.81" ry="0.59" fill="#8a6c18" opacity="0.75"/>
<ellipse cx="178.4" cy="181.5" rx="0.70" ry="0.59" fill="#8a6c18" opacity="0.75"/>
<ellipse cx="180.9" cy="181.5" rx="0.41" ry="0.59" fill="#8a6c18" opacity="0.45"/>
<ellipse cx="170.1" cy="183.1" rx="0.56" ry="0.58" fill="#8a6c18" opacity="0.45"/>
<ellipse cx="173.2" cy="183.1" rx="0.77" ry="0.58" fill="#8a6c18" opacity="0.75"/>
<ellipse cx="176.7" cy="183.1" rx="0.77" ry="0.58" fill="#8a6c18" opacity="0.75"/>
<ellipse cx="179.8" cy="183.1" rx="0.56" ry="0.58" fill="#8a6c18" opacity="0.45"/>
<ellipse cx="169.2" cy="184.8" rx="0.39" ry="0.57" fill="#8a6c18" opacity="0.45"/>
<ellipse cx="171.6" cy="184.8" rx="0.68" ry="0.57" fill="#8a6c18" opacity="0.75"/>
<ellipse cx="175.0" cy="184.8" rx="0.78" ry="0.57" fill="#8a6c18" opacity="0.75"/>
<ellipse cx="178.3" cy="184.8" rx="0.68" ry="0.57" fill="#8a6c18" opacity="0.75"/>
<ellipse cx="180.8" cy="184.8" rx="0.39" ry="0.57" fill="#8a6c18" opacity="0.45"/>
<ellipse cx="170.3" cy="186.4" rx="0.54" ry="0.56" fill="#8a6c18" opacity="0.45"/>
<ellipse cx="173.3" cy="186.4" rx="0.74" ry="0.56" fill="#8a6c18" opacity="0.75"/>
<ellipse cx="176.7" cy="186.4" rx="0.74" ry="0.56" fill="#8a6c18" opacity="0.75"/>
<ellipse cx="179.7" cy="186.4" rx="0.54" ry="0.56" fill="#8a6c18" opacity="0.45"/>
<ellipse cx="169.4" cy="188.0" rx="0.38" ry="0.55" fill="#8a6c18" opacity="0.45"/>
<ellipse cx="171.8" cy="188.0" rx="0.65" ry="0.55" fill="#8a6c18" opacity="0.75"/>
<ellipse cx="175.0" cy="188.0" rx="0.75" ry="0.55" fill="#8a6c18" opacity="0.75"/>
<ellipse cx="178.3" cy="188.0" rx="0.65" ry="0.55" fill="#8a6c18" opacity="0.75"/>
<ellipse cx="180.6" cy="188.0" rx="0.38" ry="0.55" fill="#8a6c18" opacity="0.45"/>
<ellipse cx="170.5" cy="189.5" rx="0.53" ry="0.54" fill="#8a6c18" opacity="0.45"/>
<ellipse cx="173.4" cy="189.5" rx="0.72" ry="0.54" fill="#8a6c18" opacity="0.75"/>
<ellipse cx="176.7" cy="189.5" rx="0.72" ry="0.54" fill="#8a6c18" opacity="0.75"/>
<ellipse cx="179.6" cy="189.5" rx="0.53" ry="0.54" fill="#8a6c18" opacity="0.45"/>
<ellipse cx="169.6" cy="191.1" rx="0.37" ry="0.53" fill="#8a6c18" opacity="0.45"/>
<ellipse cx="171.9" cy="191.1" rx="0.63" ry="0.53" fill="#8a6c18" opacity="0.75"/>
<ellipse cx="175.1" cy="191.1" rx="0.73" ry="0.53" fill="#8a6c18" opacity="0.75"/>
<ellipse cx="178.2" cy="191.1" rx="0.63" ry="0.53" fill="#8a6c18" opacity="0.75"/>
<ellipse cx="180.5" cy="191.1" rx="0.37" ry="0.53" fill="#8a6c18" opacity="0.45"/>
<ellipse cx="170.7" cy="192.6" rx="0.51" ry="0.53" fill="#8a6c18" opacity="0.45"/>
<ellipse cx="173.5" cy="192.6" rx="0.69" ry="0.53" fill="#8a6c18" opacity="0.75"/>
<ellipse cx="176.7" cy="192.6" rx="0.69" ry="0.53" fill="#8a6c18" opacity="0.75"/>
<ellipse cx="179.4" cy="192.6" rx="0.51" ry="0.53" fill="#8a6c18" opacity="0.45"/>
<ellipse cx="169.9" cy="194.0" rx="0.36" ry="0.52" fill="#8a6c18" opacity="0.45"/>
<ellipse cx="172.1" cy="194.0" rx="0.61" ry="0.52" fill="#8a6c18" opacity="0.75"/>
<ellipse cx="175.1" cy="194.0" rx="0.70" ry="0.52" fill="#8a6c18" opacity="0.75"/>
<ellipse cx="178.1" cy="194.0" rx="0.61" ry="0.52" fill="#8a6c18" opacity="0.75"/>
<ellipse cx="180.4" cy="194.0" rx="0.36" ry="0.52" fill="#8a6c18" opacity="0.45"/>
<ellipse cx="170.9" cy="195.5" rx="0.49" ry="0.51" fill="#8a6c18" opacity="0.45"/>
<ellipse cx="173.6" cy="195.5" rx="0.67" ry="0.51" fill="#8a6c18" opacity="0.75"/>
<ellipse cx="176.7" cy="195.5" rx="0.67" ry="0.51" fill="#8a6c18" opacity="0.75"/>
<ellipse cx="179.3" cy="195.5" rx="0.49" ry="0.51" fill="#8a6c18" opacity="0.45"/>
<ellipse cx="170.1" cy="196.9" rx="0.34" ry="0.50" fill="#8a6c18" opacity="0.45"/>
<ellipse cx="172.2" cy="196.9" rx="0.59" ry="0.50" fill="#8a6c18" opacity="0.75"/>
<ellipse cx="175.2" cy="196.9" rx="0.68" ry="0.50" fill="#8a6c18" opacity="0.75"/>
<ellipse cx="178.1" cy="196.9" rx="0.59" ry="0.50" fill="#8a6c18" opacity="0.75"/>
<ellipse cx="180.2" cy="196.9" rx="0.34" ry="0.50" fill="#8a6c18" opacity="0.45"/>
<ellipse cx="171.1" cy="198.3" rx="0.48" ry="0.49" fill="#8a6c18" opacity="0.45"/>
<ellipse cx="173.7" cy="198.3" rx="0.65" ry="0.49" fill="#8a6c18" opacity="0.75"/>
<ellipse cx="176.7" cy="198.3" rx="0.65" ry="0.49" fill="#8a6c18" opacity="0.75"/>
<ellipse cx="179.2" cy="198.3" rx="0.48" ry="0.49" fill="#8a6c18" opacity="0.45"/>
<ellipse cx="170.3" cy="199.7" rx="0.33" ry="0.48" fill="#8a6c18" opacity="0.45"/>
<ellipse cx="172.4" cy="199.7" rx="0.57" ry="0.48" fill="#8a6c18" opacity="0.75"/>
<ellipse cx="175.2" cy="199.7" rx="0.66" ry="0.48" fill="#8a6c18" opacity="0.75"/>
<ellipse cx="178.0" cy="199.7" rx="0.57" ry="0.48" fill="#8a6c18" opacity="0.75"/>
<ellipse cx="180.1" cy="199.7" rx="0.33" ry="0.48" fill="#8a6c18" opacity="0.45"/>
<ellipse cx="171.3" cy="201.1" rx="0.46" ry="0.47" fill="#8a6c18" opacity="0.45"/>
<ellipse cx="173.8" cy="201.1" rx="0.63" ry="0.47" fill="#8a6c18" opacity="0.75"/>
<ellipse cx="176.7" cy="201.1" rx="0.63" ry="0.47" fill="#8a6c18" opacity="0.75"/>
<ellipse cx="179.2" cy="201.1" rx="0.46" ry="0.47" fill="#8a6c18" opacity="0.45"/>
<ellipse cx="170.5" cy="202.4" rx="0.32" ry="0.47" fill="#8a6c18" opacity="0.45"/>
<ellipse cx="172.5" cy="202.4" rx="0.55" ry="0.47" fill="#8a6c18" opacity="0.75"/>
<ellipse cx="175.2" cy="202.4" rx="0.64" ry="0.47" fill="#8a6c18" opacity="0.75"/>
<ellipse cx="178.0" cy="202.4" rx="0.55" ry="0.47" fill="#8a6c18" opacity="0.75"/>
<ellipse cx="180.0" cy="202.4" rx="0.32" ry="0.47" fill="#8a6c18" opacity="0.45"/>
<ellipse cx="171.4" cy="203.7" rx="0.45" ry="0.46" fill="#8a6c18" opacity="0.45"/>
<ellipse cx="173.9" cy="203.7" rx="0.61" ry="0.46" fill="#8a6c18" opacity="0.75"/>
<ellipse cx="176.6" cy="203.7" rx="0.61" ry="0.46" fill="#8a6c18" opacity="0.75"/>
<ellipse cx="179.1" cy="203.7" rx="0.45" ry="0.46" fill="#8a6c18" opacity="0.45"/>
<path d="M157.3 47.3 Q173 44.8 188.7 47.3 Q173 50.5 157.3 47.3Z" fill="#c8a42a"/>
<path d="M160 124.5 L186 126.5 L183 138 L156.5 137Z" fill="#b4d2ec" opacity="0.6"/>
</g>
<g id="pd">
<rect x="13.6" y="256.2" width="233.7" height="197.0" fill="url(#dbg)" stroke="none" stroke-width="0.6" />
<rect x="13.6" y="256.2" width="233.7" height="197.0" fill="url(#dbg2)" stroke="none" stroke-width="0.6" />
<polygon points="41.5,364.5 79.2,372.2 131.8,342.3 92.0,336.0" fill="#a6dc96" />
<polygon points="79.2,372.2 116.8,379.8 171.6,348.5 131.8,342.3" fill="#f2e27a" />
<polygon points="116.8,379.8 154.5,387.5 211.4,354.8 171.6,348.5" fill="#3d97ee" />
<polygon points="153.3,359.0 192.4,365.7 211.4,354.8 171.6,348.5" fill="#a9c9ef" />
<polygon points="135.1,369.4 173.5,376.6 192.4,365.7 153.3,359.0" fill="#5ea6ee" />
<polygon points="41.5,364.5 79.2,372.2 79.2,376.8 41.5,369.1" fill="#98ca8a" />
<polygon points="79.2,372.2 116.8,379.8 116.8,384.4 79.2,376.8" fill="#decf70" />
<polygon points="116.8,379.8 154.5,387.5 154.5,392.1 116.8,384.4" fill="#388ada" />
<polygon points="154.5,387.5 211.4,354.8 211.4,359.4 154.5,392.1" fill="#8fbdf0" />
<linearGradient id="cg1" x1="0" x2="1" y1="0" y2="0"><stop offset="0" stop-color="#81b872"/><stop offset="0.3" stop-color="#aadb9d"/><stop offset="0.6" stop-color="#93d282"/><stop offset="1" stop-color="#69975d"/></linearGradient>
<g opacity="1.0">
<path d="M111.2 280.0 L101.6 341.0 A14.8 4.4 0 0 0 131.2 341.0 L121.6 280.0 A5.2 1.6 0 0 0 111.2 280.0Z" fill="url(#cg1)"/>
<rect x="111.0" y="281.4" width="0.4" height="2.2" rx="0.5" fill="#2f6a4a" opacity="0.85"/>
<rect x="111.6" y="281.8" width="0.7" height="2.2" rx="0.5" fill="#2f6a4a" opacity="0.85"/>
<rect x="112.7" y="282.2" width="1.0" height="2.2" rx="0.5" fill="#2f6a4a" opacity="0.85"/>
<rect x="114.1" y="282.4" width="1.1" height="2.2" rx="0.5" fill="#2f6a4a" opacity="0.85"/>
<rect x="115.8" y="282.4" width="1.2" height="2.2" rx="0.5" fill="#2f6a4a" opacity="0.85"/>
<rect x="117.6" y="282.4" width="1.1" height="2.2" rx="0.5" fill="#2f6a4a" opacity="0.85"/>
<rect x="119.2" y="282.2" width="1.0" height="2.2" rx="0.5" fill="#2f6a4a" opacity="0.85"/>
<rect x="120.5" y="281.8" width="0.7" height="2.2" rx="0.5" fill="#2f6a4a" opacity="0.85"/>
<rect x="121.5" y="281.4" width="0.4" height="2.2" rx="0.5" fill="#2f6a4a" opacity="0.85"/>
<rect x="110.4" y="285.2" width="0.4" height="2.2" rx="0.5" fill="#2f6a4a" opacity="0.85"/>
<rect x="111.1" y="285.7" width="0.8" height="2.2" rx="0.5" fill="#2f6a4a" opacity="0.85"/>
<rect x="112.3" y="286.0" width="1.1" height="2.2" rx="0.5" fill="#2f6a4a" opacity="0.85"/>
<rect x="113.9" y="286.3" width="1.2" height="2.2" rx="0.5" fill="#2f6a4a" opacity="0.85"/>
<rect x="115.7" y="286.3" width="1.3" height="2.2" rx="0.5" fill="#2f6a4a" opacity="0.85"/>
<rect x="117.7" y="286.3" width="1.2" height="2.2" rx="0.5" fill="#2f6a4a" opacity="0.85"/>
<rect x="119.5" y="286.0" width="1.1" height="2.2" rx="0.5" fill="#2f6a4a" opacity="0.85"/>
<rect x="121.0" y="285.7" width="0.8" height="2.2" rx="0.5" fill="#2f6a4a" opacity="0.85"/>
<rect x="122.0" y="285.2" width="0.4" height="2.2" rx="0.5" fill="#2f6a4a" opacity="0.85"/>
<rect x="109.8" y="289.0" width="0.4" height="2.2" rx="0.5" fill="#2f6a4a" opacity="0.85"/>
<rect x="110.5" y="289.5" width="0.8" height="2.2" rx="0.5" fill="#2f6a4a" opacity="0.85"/>
<rect x="111.9" y="289.9" width="1.2" height="2.2" rx="0.5" fill="#2f6a4a" opacity="0.85"/>
<rect x="113.6" y="290.2" width="1.4" height="2.2" rx="0.5" fill="#2f6a4a" opacity="0.85"/>
<rect x="115.7" y="290.2" width="1.4" height="2.2" rx="0.5" fill="#2f6a4a" opacity="0.85"/>
<rect x="117.8" y="290.2" width="1.4" height="2.2" rx="0.5" fill="#2f6a4a" opacity="0.85"/>
<rect x="119.8" y="289.9" width="1.2" height="2.2" rx="0.5" fill="#2f6a4a" opacity="0.85"/>
<rect x="121.4" y="289.5" width="0.8" height="2.2" rx="0.5" fill="#2f6a4a" opacity="0.85"/>
<rect x="122.6" y="289.0" width="0.4" height="2.2" rx="0.5" fill="#2f6a4a" opacity="0.85"/>
<rect x="109.2" y="292.8" width="0.5" height="2.2" rx="0.5" fill="#2f6a4a" opacity="0.85"/>
<rect x="110.0" y="293.3" width="0.9" height="2.2" rx="0.5" fill="#2f6a4a" opacity="0.85"/>
<rect x="111.5" y="293.8" width="1.3" height="2.2" rx="0.5" fill="#2f6a4a" opacity="0.85"/>
<rect x="113.4" y="294.1" width="1.5" height="2.2" rx="0.5" fill="#2f6a4a" opacity="0.85"/>
<rect x="115.6" y="294.1" width="1.6" height="2.2" rx="0.5" fill="#2f6a4a" opacity="0.85"/>
<rect x="117.9" y="294.1" width="1.5" height="2.2" rx="0.5" fill="#2f6a4a" opacity="0.85"/>
<rect x="120.1" y="293.8" width="1.3" height="2.2" rx="0.5" fill="#2f6a4a" opacity="0.85"/>
<rect x="121.9" y="293.3" width="0.9" height="2.2" rx="0.5" fill="#2f6a4a" opacity="0.85"/>
<rect x="123.1" y="292.8" width="0.5" height="2.2" rx="0.5" fill="#2f6a4a" opacity="0.85"/>
<rect x="108.6" y="296.6" width="0.5" height="2.2" rx="0.5" fill="#2f6a4a" opacity="0.85"/>
<rect x="109.5" y="297.2" width="1.0" height="2.2" rx="0.5" fill="#2f6a4a" opacity="0.85"/>
<rect x="111.1" y="297.6" width="1.4" height="2.2" rx="0.5" fill="#2f6a4a" opacity="0.85"/>
<rect x="113.2" y="297.9" width="1.6" height="2.2" rx="0.5" fill="#2f6a4a" opacity="0.85"/>
<rect x="115.6" y="298.0" width="1.7" height="2.2" rx="0.5" fill="#2f6a4a" opacity="0.85"/>
<rect x="118.0" y="297.9" width="1.6" height="2.2" rx="0.5" fill="#2f6a4a" opacity="0.85"/>
<rect x="120.4" y="297.6" width="1.4" height="2.2" rx="0.5" fill="#2f6a4a" opacity="0.85"/>
<rect x="122.3" y="297.2" width="1.0" height="2.2" rx="0.5" fill="#2f6a4a" opacity="0.85"/>
<rect x="123.7" y="296.6" width="0.5" height="2.2" rx="0.5" fill="#2f6a4a" opacity="0.85"/>
<rect x="108.1" y="300.4" width="0.6" height="2.2" rx="0.5" fill="#2f6a4a" opacity="0.85"/>
<rect x="109.0" y="301.0" width="1.1" height="2.2" rx="0.5" fill="#2f6a4a" opacity="0.85"/>
<rect x="110.7" y="301.5" width="1.5" height="2.2" rx="0.5" fill="#2f6a4a" opacity="0.85"/>
<rect x="112.9" y="301.8" width="1.7" height="2.2" rx="0.5" fill="#2f6a4a" opacity="0.85"/>
<rect x="115.5" y="302.0" width="1.8" height="2.2" rx="0.5" fill="#2f6a4a" opacity="0.85"/>
<rect x="118.2" y="301.8" width="1.7" height="2.2" rx="0.5" fill="#2f6a4a" opacity="0.85"/>
<rect x="120.7" y="301.5" width="1.5" height="2.2" rx="0.5" fill="#2f6a4a" opacity="0.85"/>
<rect x="122.7" y="301.0" width="1.1" height="2.2" rx="0.5" fill="#2f6a4a" opacity="0.85"/>
<rect x="124.2" y="300.4" width="0.6" height="2.2" rx="0.5" fill="#2f6a4a" opacity="0.85"/>
<rect x="107.5" y="304.1" width="0.6" height="2.2" rx="0.5" fill="#2f6a4a" opacity="0.85"/>
<rect x="108.5" y="304.8" width="1.1" height="2.2" rx="0.5" fill="#2f6a4a" opacity="0.85"/>
<rect x="110.3" y="305.4" width="1.6" height="2.2" rx="0.5" fill="#2f6a4a" opacity="0.85"/>
<rect x="112.7" y="305.7" width="1.8" height="2.2" rx="0.5" fill="#2f6a4a" opacity="0.85"/>
<rect x="115.4" y="305.9" width="1.9" height="2.2" rx="0.5" fill="#2f6a4a" opacity="0.85"/>
<rect x="118.3" y="305.7" width="1.8" height="2.2" rx="0.5" fill="#2f6a4a" opacity="0.85"/>
<rect x="121.0" y="305.4" width="1.6" height="2.2" rx="0.5" fill="#2f6a4a" opacity="0.85"/>
<rect x="123.2" y="304.8" width="1.1" height="2.2" rx="0.5" fill="#2f6a4a" opacity="0.85"/>
<rect x="124.7" y="304.1" width="0.6" height="2.2" rx="0.5" fill="#2f6a4a" opacity="0.85"/>
<rect x="106.9" y="307.9" width="0.6" height="2.2" rx="0.5" fill="#2f6a4a" opacity="0.85"/>
<rect x="108.0" y="308.7" width="1.2" height="2.2" rx="0.5" fill="#2f6a4a" opacity="0.85"/>
<rect x="109.9" y="309.3" width="1.7" height="2.2" rx="0.5" fill="#2f6a4a" opacity="0.85"/>
<rect x="112.4" y="309.6" width="2.0" height="2.2" rx="0.5" fill="#2f6a4a" opacity="0.85"/>
<rect x="115.4" y="309.8" width="2.1" height="2.2" rx="0.5" fill="#2f6a4a" opacity="0.85"/>
<rect x="118.4" y="309.6" width="2.0" height="2.2" rx="0.5" fill="#2f6a4a" opacity="0.85"/>
<rect x="121.3" y="309.3" width="1.7" height="2.2" rx="0.5" fill="#2f6a4a" opacity="0.85"/>
<rect x="123.6" y="308.7" width="1.2" height="2.2" rx="0.5" fill="#2f6a4a" opacity="0.85"/>
<rect x="125.3" y="307.9" width="0.6" height="2.2" rx="0.5" fill="#2f6a4a" opacity="0.85"/>
<rect x="106.3" y="311.7" width="0.7" height="2.2" rx="0.5" fill="#2f6a4a" opacity="0.85"/>
<rect x="107.5" y="312.5" width="1.3" height="2.2" rx="0.5" fill="#2f6a4a" opacity="0.85"/>
<rect x="109.5" y="313.1" width="1.8" height="2.2" rx="0.5" fill="#2f6a4a" opacity="0.85"/>
<rect x="112.2" y="313.5" width="2.1" height="2.2" rx="0.5" fill="#2f6a4a" opacity="0.85"/>
<rect x="115.3" y="313.7" width="2.2" height="2.2" rx="0.5" fill="#2f6a4a" opacity="0.85"/>
<rect x="118.5" y="313.5" width="2.1" height="2.2" rx="0.5" fill="#2f6a4a" opacity="0.85"/>
<rect x="121.6" y="313.1" width="1.8" height="2.2" rx="0.5" fill="#2f6a4a" opacity="0.85"/>
<rect x="124.1" y="312.5" width="1.3" height="2.2" rx="0.5" fill="#2f6a4a" opacity="0.85"/>
<rect x="125.8" y="311.7" width="0.7" height="2.2" rx="0.5" fill="#2f6a4a" opacity="0.85"/>
<rect x="105.7" y="315.5" width="0.7" height="2.2" rx="0.5" fill="#2f6a4a" opacity="0.85"/>
<rect x="106.9" y="316.3" width="1.4" height="2.2" rx="0.5" fill="#2f6a4a" opacity="0.85"/>
<rect x="109.1" y="317.0" width="1.9" height="2.2" rx="0.5" fill="#2f6a4a" opacity="0.85"/>
<rect x="111.9" y="317.4" width="2.2" height="2.2" rx="0.5" fill="#2f6a4a" opacity="0.85"/>
<rect x="115.2" y="317.6" width="2.3" height="2.2" rx="0.5" fill="#2f6a4a" opacity="0.85"/>
<rect x="118.7" y="317.4" width="2.2" height="2.2" rx="0.5" fill="#2f6a4a" opacity="0.85"/>
<rect x="121.8" y="317.0" width="1.9" height="2.2" rx="0.5" fill="#2f6a4a" opacity="0.85"/>
<rect x="124.5" y="316.3" width="1.4" height="2.2" rx="0.5" fill="#2f6a4a" opacity="0.85"/>
<rect x="126.4" y="315.5" width="0.7" height="2.2" rx="0.5" fill="#2f6a4a" opacity="0.85"/>
<rect x="105.2" y="319.3" width="0.7" height="2.2" rx="0.5" fill="#2f6a4a" opacity="0.85"/>
<rect x="106.4" y="320.2" width="1.4" height="2.2" rx="0.5" fill="#2f6a4a" opacity="0.85"/>
<rect x="108.7" y="320.9" width="2.0" height="2.2" rx="0.5" fill="#2f6a4a" opacity="0.85"/>
<rect x="111.7" y="321.3" width="2.3" height="2.2" rx="0.5" fill="#2f6a4a" opacity="0.85"/>
<rect x="115.2" y="321.5" width="2.4" height="2.2" rx="0.5" fill="#2f6a4a" opacity="0.85"/>
<rect x="118.8" y="321.3" width="2.3" height="2.2" rx="0.5" fill="#2f6a4a" opacity="0.85"/>
<rect x="122.1" y="320.9" width="2.0" height="2.2" rx="0.5" fill="#2f6a4a" opacity="0.85"/>
<rect x="124.9" y="320.2" width="1.4" height="2.2" rx="0.5" fill="#2f6a4a" opacity="0.85"/>
<rect x="126.9" y="319.3" width="0.7" height="2.2" rx="0.5" fill="#2f6a4a" opacity="0.85"/>
<rect x="104.6" y="323.1" width="0.8" height="2.2" rx="0.5" fill="#2f6a4a" opacity="0.85"/>
<rect x="105.9" y="324.0" width="1.5" height="2.2" rx="0.5" fill="#2f6a4a" opacity="0.85"/>
<rect x="108.3" y="324.7" width="2.1" height="2.2" rx="0.5" fill="#2f6a4a" opacity="0.85"/>
<rect x="111.5" y="325.2" width="2.4" height="2.2" rx="0.5" fill="#2f6a4a" opacity="0.85"/>
<rect x="115.1" y="325.4" width="2.6" height="2.2" rx="0.5" fill="#2f6a4a" opacity="0.85"/>
<rect x="118.9" y="325.2" width="2.4" height="2.2" rx="0.5" fill="#2f6a4a" opacity="0.85"/>
<rect x="122.4" y="324.7" width="2.1" height="2.2" rx="0.5" fill="#2f6a4a" opacity="0.85"/>
<rect x="125.4" y="324.0" width="1.5" height="2.2" rx="0.5" fill="#2f6a4a" opacity="0.85"/>
<rect x="127.4" y="323.1" width="0.8" height="2.2" rx="0.5" fill="#2f6a4a" opacity="0.85"/>
<rect x="104.0" y="326.9" width="0.8" height="2.2" rx="0.5" fill="#2f6a4a" opacity="0.85"/>
<rect x="105.4" y="327.8" width="1.6" height="2.2" rx="0.5" fill="#2f6a4a" opacity="0.85"/>
<rect x="107.9" y="328.6" width="2.2" height="2.2" rx="0.5" fill="#2f6a4a" opacity="0.85"/>
<rect x="111.2" y="329.1" width="2.6" height="2.2" rx="0.5" fill="#2f6a4a" opacity="0.85"/>
<rect x="115.0" y="329.3" width="2.7" height="2.2" rx="0.5" fill="#2f6a4a" opacity="0.85"/>
<rect x="119.0" y="329.1" width="2.6" height="2.2" rx="0.5" fill="#2f6a4a" opacity="0.85"/>
<rect x="122.7" y="328.6" width="2.2" height="2.2" rx="0.5" fill="#2f6a4a" opacity="0.85"/>
<rect x="125.8" y="327.8" width="1.6" height="2.2" rx="0.5" fill="#2f6a4a" opacity="0.85"/>
<rect x="128.0" y="326.9" width="0.8" height="2.2" rx="0.5" fill="#2f6a4a" opacity="0.85"/>
<rect x="103.4" y="330.7" width="0.9" height="2.2" rx="0.5" fill="#2f6a4a" opacity="0.85"/>
<rect x="104.9" y="331.7" width="1.7" height="2.2" rx="0.5" fill="#2f6a4a" opacity="0.85"/>
<rect x="107.5" y="332.5" width="2.3" height="2.2" rx="0.5" fill="#2f6a4a" opacity="0.85"/>
<rect x="111.0" y="333.0" width="2.7" height="2.2" rx="0.5" fill="#2f6a4a" opacity="0.85"/>
<rect x="115.0" y="333.2" width="2.8" height="2.2" rx="0.5" fill="#2f6a4a" opacity="0.85"/>
<rect x="119.1" y="333.0" width="2.7" height="2.2" rx="0.5" fill="#2f6a4a" opacity="0.85"/>
<rect x="123.0" y="332.5" width="2.3" height="2.2" rx="0.5" fill="#2f6a4a" opacity="0.85"/>
<rect x="126.3" y="331.7" width="1.7" height="2.2" rx="0.5" fill="#2f6a4a" opacity="0.85"/>
<rect x="128.5" y="330.7" width="0.9" height="2.2" rx="0.5" fill="#2f6a4a" opacity="0.85"/>
<rect x="102.8" y="334.5" width="0.9" height="2.2" rx="0.5" fill="#2f6a4a" opacity="0.85"/>
<rect x="104.4" y="335.5" width="1.7" height="2.2" rx="0.5" fill="#2f6a4a" opacity="0.85"/>
<rect x="107.1" y="336.3" width="2.4" height="2.2" rx="0.5" fill="#2f6a4a" opacity="0.85"/>
<rect x="110.7" y="336.9" width="2.8" height="2.2" rx="0.5" fill="#2f6a4a" opacity="0.85"/>
<rect x="114.9" y="337.1" width="3.0" height="2.2" rx="0.5" fill="#2f6a4a" opacity="0.85"/>
<rect x="119.3" y="336.9" width="2.8" height="2.2" rx="0.5" fill="#2f6a4a" opacity="0.85"/>
<rect x="123.3" y="336.3" width="2.4" height="2.2" rx="0.5" fill="#2f6a4a" opacity="0.85"/>
<rect x="126.7" y="335.5" width="1.7" height="2.2" rx="0.5" fill="#2f6a4a" opacity="0.85"/>
<rect x="129.1" y="334.5" width="0.9" height="2.2" rx="0.5" fill="#2f6a4a" opacity="0.85"/>
<rect x="102.3" y="338.3" width="0.9" height="2.2" rx="0.5" fill="#2f6a4a" opacity="0.85"/>
<rect x="103.8" y="339.4" width="1.8" height="2.2" rx="0.5" fill="#2f6a4a" opacity="0.85"/>
<rect x="106.7" y="340.2" width="2.5" height="2.2" rx="0.5" fill="#2f6a4a" opacity="0.85"/>
<rect x="110.5" y="340.8" width="2.9" height="2.2" rx="0.5" fill="#2f6a4a" opacity="0.85"/>
<rect x="114.9" y="341.0" width="3.1" height="2.2" rx="0.5" fill="#2f6a4a" opacity="0.85"/>
<rect x="119.4" y="340.8" width="2.9" height="2.2" rx="0.5" fill="#2f6a4a" opacity="0.85"/>
<rect x="123.6" y="340.2" width="2.5" height="2.2" rx="0.5" fill="#2f6a4a" opacity="0.85"/>
<rect x="127.2" y="339.4" width="1.8" height="2.2" rx="0.5" fill="#2f6a4a" opacity="0.85"/>
<rect x="129.6" y="338.3" width="0.9" height="2.2" rx="0.5" fill="#2f6a4a" opacity="0.85"/>
<ellipse cx="116.4" cy="280.0" rx="5.2" ry="1.6" fill="#b8e1ad"/>
</g>
<linearGradient id="cg2" x1="0" x2="1" y1="0" y2="0"><stop offset="0" stop-color="#d5be52"/><stop offset="0.3" stop-color="#f5e181"/><stop offset="0.6" stop-color="#f3d95e"/><stop offset="1" stop-color="#ae9c43"/></linearGradient>
<g opacity="1.0">
<path d="M145.6 286.0 L136.0 349.0 A15.0 4.5 0 0 0 166.0 349.0 L156.4 286.0 A5.4 1.6 0 0 0 145.6 286.0Z" fill="url(#cg2)"/>
<rect x="145.4" y="287.5" width="0.4" height="2.3" rx="0.5" fill="#6e682e" opacity="0.85"/>
<rect x="146.0" y="287.9" width="0.7" height="2.3" rx="0.5" fill="#6e682e" opacity="0.85"/>
<rect x="147.1" y="288.2" width="1.0" height="2.3" rx="0.5" fill="#6e682e" opacity="0.85"/>
<rect x="148.6" y="288.5" width="1.2" height="2.3" rx="0.5" fill="#6e682e" opacity="0.85"/>
<rect x="150.4" y="288.5" width="1.2" height="2.3" rx="0.5" fill="#6e682e" opacity="0.85"/>
<rect x="152.2" y="288.5" width="1.2" height="2.3" rx="0.5" fill="#6e682e" opacity="0.85"/>
<rect x="153.9" y="288.2" width="1.0" height="2.3" rx="0.5" fill="#6e682e" opacity="0.85"/>
<rect x="155.3" y="287.9" width="0.7" height="2.3" rx="0.5" fill="#6e682e" opacity="0.85"/>
<rect x="156.3" y="287.5" width="0.4" height="2.3" rx="0.5" fill="#6e682e" opacity="0.85"/>
<rect x="144.8" y="291.4" width="0.4" height="2.3" rx="0.5" fill="#6e682e" opacity="0.85"/>
<rect x="145.5" y="291.8" width="0.8" height="2.3" rx="0.5" fill="#6e682e" opacity="0.85"/>
<rect x="146.7" y="292.2" width="1.1" height="2.3" rx="0.5" fill="#6e682e" opacity="0.85"/>
<rect x="148.4" y="292.5" width="1.3" height="2.3" rx="0.5" fill="#6e682e" opacity="0.85"/>
<rect x="150.3" y="292.6" width="1.4" height="2.3" rx="0.5" fill="#6e682e" opacity="0.85"/>
<rect x="152.3" y="292.5" width="1.3" height="2.3" rx="0.5" fill="#6e682e" opacity="0.85"/>
<rect x="154.2" y="292.2" width="1.1" height="2.3" rx="0.5" fill="#6e682e" opacity="0.85"/>
<rect x="155.7" y="291.8" width="0.8" height="2.3" rx="0.5" fill="#6e682e" opacity="0.85"/>
<rect x="156.8" y="291.4" width="0.4" height="2.3" rx="0.5" fill="#6e682e" opacity="0.85"/>
<rect x="144.2" y="295.3" width="0.4" height="2.3" rx="0.5" fill="#6e682e" opacity="0.85"/>
<rect x="145.0" y="295.8" width="0.9" height="2.3" rx="0.5" fill="#6e682e" opacity="0.85"/>
<rect x="146.3" y="296.2" width="1.2" height="2.3" rx="0.5" fill="#6e682e" opacity="0.85"/>
<rect x="148.2" y="296.5" width="1.4" height="2.3" rx="0.5" fill="#6e682e" opacity="0.85"/>
<rect x="150.3" y="296.6" width="1.5" height="2.3" rx="0.5" fill="#6e682e" opacity="0.85"/>
<rect x="152.4" y="296.5" width="1.4" height="2.3" rx="0.5" fill="#6e682e" opacity="0.85"/>
<rect x="154.5" y="296.2" width="1.2" height="2.3" rx="0.5" fill="#6e682e" opacity="0.85"/>
<rect x="156.2" y="295.8" width="0.9" height="2.3" rx="0.5" fill="#6e682e" opacity="0.85"/>
<rect x="157.4" y="295.3" width="0.4" height="2.3" rx="0.5" fill="#6e682e" opacity="0.85"/>
<rect x="143.6" y="299.2" width="0.5" height="2.3" rx="0.5" fill="#6e682e" opacity="0.85"/>
<rect x="144.5" y="299.8" width="0.9" height="2.3" rx="0.5" fill="#6e682e" opacity="0.85"/>
<rect x="145.9" y="300.2" width="1.3" height="2.3" rx="0.5" fill="#6e682e" opacity="0.85"/>
<rect x="147.9" y="300.5" width="1.5" height="2.3" rx="0.5" fill="#6e682e" opacity="0.85"/>
<rect x="150.2" y="300.6" width="1.6" height="2.3" rx="0.5" fill="#6e682e" opacity="0.85"/>
<rect x="152.6" y="300.5" width="1.5" height="2.3" rx="0.5" fill="#6e682e" opacity="0.85"/>
<rect x="154.8" y="300.2" width="1.3" height="2.3" rx="0.5" fill="#6e682e" opacity="0.85"/>
<rect x="156.6" y="299.8" width="0.9" height="2.3" rx="0.5" fill="#6e682e" opacity="0.85"/>
<rect x="157.9" y="299.2" width="0.5" height="2.3" rx="0.5" fill="#6e682e" opacity="0.85"/>
<rect x="143.0" y="303.1" width="0.5" height="2.3" rx="0.5" fill="#6e682e" opacity="0.85"/>
<rect x="143.9" y="303.7" width="1.0" height="2.3" rx="0.5" fill="#6e682e" opacity="0.85"/>
<rect x="145.5" y="304.2" width="1.4" height="2.3" rx="0.5" fill="#6e682e" opacity="0.85"/>
<rect x="147.7" y="304.5" width="1.6" height="2.3" rx="0.5" fill="#6e682e" opacity="0.85"/>
<rect x="150.1" y="304.6" width="1.7" height="2.3" rx="0.5" fill="#6e682e" opacity="0.85"/>
<rect x="152.7" y="304.5" width="1.6" height="2.3" rx="0.5" fill="#6e682e" opacity="0.85"/>
<rect x="155.1" y="304.2" width="1.4" height="2.3" rx="0.5" fill="#6e682e" opacity="0.85"/>
<rect x="157.0" y="303.7" width="1.0" height="2.3" rx="0.5" fill="#6e682e" opacity="0.85"/>
<rect x="158.4" y="303.1" width="0.5" height="2.3" rx="0.5" fill="#6e682e" opacity="0.85"/>
<rect x="142.5" y="307.0" width="0.6" height="2.3" rx="0.5" fill="#6e682e" opacity="0.85"/>
<rect x="143.4" y="307.7" width="1.1" height="2.3" rx="0.5" fill="#6e682e" opacity="0.85"/>
<rect x="145.1" y="308.2" width="1.5" height="2.3" rx="0.5" fill="#6e682e" opacity="0.85"/>
<rect x="147.4" y="308.5" width="1.8" height="2.3" rx="0.5" fill="#6e682e" opacity="0.85"/>
<rect x="150.1" y="308.6" width="1.9" height="2.3" rx="0.5" fill="#6e682e" opacity="0.85"/>
<rect x="152.8" y="308.5" width="1.8" height="2.3" rx="0.5" fill="#6e682e" opacity="0.85"/>
<rect x="155.4" y="308.2" width="1.5" height="2.3" rx="0.5" fill="#6e682e" opacity="0.85"/>
<rect x="157.5" y="307.7" width="1.1" height="2.3" rx="0.5" fill="#6e682e" opacity="0.85"/>
<rect x="159.0" y="307.0" width="0.6" height="2.3" rx="0.5" fill="#6e682e" opacity="0.85"/>
<rect x="141.9" y="310.9" width="0.6" height="2.3" rx="0.5" fill="#6e682e" opacity="0.85"/>
<rect x="142.9" y="311.6" width="1.2" height="2.3" rx="0.5" fill="#6e682e" opacity="0.85"/>
<rect x="144.7" y="312.2" width="1.6" height="2.3" rx="0.5" fill="#6e682e" opacity="0.85"/>
<rect x="147.2" y="312.6" width="1.9" height="2.3" rx="0.5" fill="#6e682e" opacity="0.85"/>
<rect x="150.0" y="312.7" width="2.0" height="2.3" rx="0.5" fill="#6e682e" opacity="0.85"/>
<rect x="152.9" y="312.6" width="1.9" height="2.3" rx="0.5" fill="#6e682e" opacity="0.85"/>
<rect x="155.7" y="312.2" width="1.6" height="2.3" rx="0.5" fill="#6e682e" opacity="0.85"/>
<rect x="157.9" y="311.6" width="1.2" height="2.3" rx="0.5" fill="#6e682e" opacity="0.85"/>
<rect x="159.5" y="310.9" width="0.6" height="2.3" rx="0.5" fill="#6e682e" opacity="0.85"/>
<rect x="141.3" y="314.8" width="0.6" height="2.3" rx="0.5" fill="#6e682e" opacity="0.85"/>
<rect x="142.4" y="315.6" width="1.2" height="2.3" rx="0.5" fill="#6e682e" opacity="0.85"/>
<rect x="144.3" y="316.2" width="1.7" height="2.3" rx="0.5" fill="#6e682e" opacity="0.85"/>
<rect x="146.9" y="316.6" width="2.0" height="2.3" rx="0.5" fill="#6e682e" opacity="0.85"/>
<rect x="149.9" y="316.7" width="2.1" height="2.3" rx="0.5" fill="#6e682e" opacity="0.85"/>
<rect x="153.1" y="316.6" width="2.0" height="2.3" rx="0.5" fill="#6e682e" opacity="0.85"/>
<rect x="156.0" y="316.2" width="1.7" height="2.3" rx="0.5" fill="#6e682e" opacity="0.85"/>
<rect x="158.4" y="315.6" width="1.2" height="2.3" rx="0.5" fill="#6e682e" opacity="0.85"/>
<rect x="160.1" y="314.8" width="0.6" height="2.3" rx="0.5" fill="#6e682e" opacity="0.85"/>
<rect x="140.7" y="318.8" width="0.7" height="2.3" rx="0.5" fill="#6e682e" opacity="0.85"/>
<rect x="141.9" y="319.6" width="1.3" height="2.3" rx="0.5" fill="#6e682e" opacity="0.85"/>
<rect x="143.9" y="320.2" width="1.8" height="2.3" rx="0.5" fill="#6e682e" opacity="0.85"/>
<rect x="146.7" y="320.6" width="2.1" height="2.3" rx="0.5" fill="#6e682e" opacity="0.85"/>
<rect x="149.9" y="320.7" width="2.2" height="2.3" rx="0.5" fill="#6e682e" opacity="0.85"/>
<rect x="153.2" y="320.6" width="2.1" height="2.3" rx="0.5" fill="#6e682e" opacity="0.85"/>
<rect x="156.3" y="320.2" width="1.8" height="2.3" rx="0.5" fill="#6e682e" opacity="0.85"/>
<rect x="158.8" y="319.6" width="1.3" height="2.3" rx="0.5" fill="#6e682e" opacity="0.85"/>
<rect x="160.6" y="318.8" width="0.7" height="2.3" rx="0.5" fill="#6e682e" opacity="0.85"/>
<rect x="140.1" y="322.7" width="0.7" height="2.3" rx="0.5" fill="#6e682e" opacity="0.85"/>
<rect x="141.4" y="323.5" width="1.4" height="2.3" rx="0.5" fill="#6e682e" opacity="0.85"/>
<rect x="143.5" y="324.2" width="1.9" height="2.3" rx="0.5" fill="#6e682e" opacity="0.85"/>
<rect x="146.5" y="324.6" width="2.2" height="2.3" rx="0.5" fill="#6e682e" opacity="0.85"/>
<rect x="149.8" y="324.7" width="2.4" height="2.3" rx="0.5" fill="#6e682e" opacity="0.85"/>
<rect x="153.3" y="324.6" width="2.2" height="2.3" rx="0.5" fill="#6e682e" opacity="0.85"/>
<rect x="156.5" y="324.2" width="1.9" height="2.3" rx="0.5" fill="#6e682e" opacity="0.85"/>
<rect x="159.3" y="323.5" width="1.4" height="2.3" rx="0.5" fill="#6e682e" opacity="0.85"/>
<rect x="161.1" y="322.7" width="0.7" height="2.3" rx="0.5" fill="#6e682e" opacity="0.85"/>
<rect x="139.6" y="326.6" width="0.8" height="2.3" rx="0.5" fill="#6e682e" opacity="0.85"/>
<rect x="140.8" y="327.5" width="1.5" height="2.3" rx="0.5" fill="#6e682e" opacity="0.85"/>
<rect x="143.1" y="328.2" width="2.0" height="2.3" rx="0.5" fill="#6e682e" opacity="0.85"/>
<rect x="146.2" y="328.6" width="2.4" height="2.3" rx="0.5" fill="#6e682e" opacity="0.85"/>
<rect x="149.8" y="328.8" width="2.5" height="2.3" rx="0.5" fill="#6e682e" opacity="0.85"/>
<rect x="153.4" y="328.6" width="2.4" height="2.3" rx="0.5" fill="#6e682e" opacity="0.85"/>
<rect x="156.8" y="328.2" width="2.0" height="2.3" rx="0.5" fill="#6e682e" opacity="0.85"/>
<rect x="159.7" y="327.5" width="1.5" height="2.3" rx="0.5" fill="#6e682e" opacity="0.85"/>
<rect x="161.7" y="326.6" width="0.8" height="2.3" rx="0.5" fill="#6e682e" opacity="0.85"/>
<rect x="139.0" y="330.5" width="0.8" height="2.3" rx="0.5" fill="#6e682e" opacity="0.85"/>
<rect x="140.3" y="331.4" width="1.5" height="2.3" rx="0.5" fill="#6e682e" opacity="0.85"/>
<rect x="142.7" y="332.2" width="2.1" height="2.3" rx="0.5" fill="#6e682e" opacity="0.85"/>
<rect x="146.0" y="332.6" width="2.5" height="2.3" rx="0.5" fill="#6e682e" opacity="0.85"/>
<rect x="149.7" y="332.8" width="2.6" height="2.3" rx="0.5" fill="#6e682e" opacity="0.85"/>
<rect x="153.5" y="332.6" width="2.5" height="2.3" rx="0.5" fill="#6e682e" opacity="0.85"/>
<rect x="157.1" y="332.2" width="2.1" height="2.3" rx="0.5" fill="#6e682e" opacity="0.85"/>
<rect x="160.1" y="331.4" width="1.5" height="2.3" rx="0.5" fill="#6e682e" opacity="0.85"/>
<rect x="162.2" y="330.5" width="0.8" height="2.3" rx="0.5" fill="#6e682e" opacity="0.85"/>
<rect x="138.4" y="334.4" width="0.8" height="2.3" rx="0.5" fill="#6e682e" opacity="0.85"/>
<rect x="139.8" y="335.4" width="1.6" height="2.3" rx="0.5" fill="#6e682e" opacity="0.85"/>
<rect x="142.3" y="336.2" width="2.2" height="2.3" rx="0.5" fill="#6e682e" opacity="0.85"/>
<rect x="145.7" y="336.6" width="2.6" height="2.3" rx="0.5" fill="#6e682e" opacity="0.85"/>
<rect x="149.6" y="336.8" width="2.7" height="2.3" rx="0.5" fill="#6e682e" opacity="0.85"/>
<rect x="153.7" y="336.6" width="2.6" height="2.3" rx="0.5" fill="#6e682e" opacity="0.85"/>
<rect x="157.4" y="336.2" width="2.2" height="2.3" rx="0.5" fill="#6e682e" opacity="0.85"/>
<rect x="160.6" y="335.4" width="1.6" height="2.3" rx="0.5" fill="#6e682e" opacity="0.85"/>
<rect x="162.8" y="334.4" width="0.8" height="2.3" rx="0.5" fill="#6e682e" opacity="0.85"/>
<rect x="137.8" y="338.3" width="0.9" height="2.3" rx="0.5" fill="#6e682e" opacity="0.85"/>
<rect x="139.3" y="339.3" width="1.7" height="2.3" rx="0.5" fill="#6e682e" opacity="0.85"/>
<rect x="141.9" y="340.1" width="2.3" height="2.3" rx="0.5" fill="#6e682e" opacity="0.85"/>
<rect x="145.5" y="340.7" width="2.7" height="2.3" rx="0.5" fill="#6e682e" opacity="0.85"/>
<rect x="149.6" y="340.8" width="2.9" height="2.3" rx="0.5" fill="#6e682e" opacity="0.85"/>
<rect x="153.8" y="340.7" width="2.7" height="2.3" rx="0.5" fill="#6e682e" opacity="0.85"/>
<rect x="157.7" y="340.1" width="2.3" height="2.3" rx="0.5" fill="#6e682e" opacity="0.85"/>
<rect x="161.0" y="339.3" width="1.7" height="2.3" rx="0.5" fill="#6e682e" opacity="0.85"/>
<rect x="163.3" y="338.3" width="0.9" height="2.3" rx="0.5" fill="#6e682e" opacity="0.85"/>
<rect x="137.2" y="342.2" width="0.9" height="2.3" rx="0.5" fill="#6e682e" opacity="0.85"/>
<rect x="138.8" y="343.3" width="1.8" height="2.3" rx="0.5" fill="#6e682e" opacity="0.85"/>
<rect x="141.5" y="344.1" width="2.4" height="2.3" rx="0.5" fill="#6e682e" opacity="0.85"/>
<rect x="145.2" y="344.7" width="2.8" height="2.3" rx="0.5" fill="#6e682e" opacity="0.85"/>
<rect x="149.5" y="344.9" width="3.0" height="2.3" rx="0.5" fill="#6e682e" opacity="0.85"/>
<rect x="153.9" y="344.7" width="2.8" height="2.3" rx="0.5" fill="#6e682e" opacity="0.85"/>
<rect x="158.0" y="344.1" width="2.4" height="2.3" rx="0.5" fill="#6e682e" opacity="0.85"/>
<rect x="161.5" y="343.3" width="1.8" height="2.3" rx="0.5" fill="#6e682e" opacity="0.85"/>
<rect x="163.9" y="342.2" width="0.9" height="2.3" rx="0.5" fill="#6e682e" opacity="0.85"/>
<rect x="136.7" y="346.2" width="0.9" height="2.3" rx="0.5" fill="#6e682e" opacity="0.85"/>
<rect x="138.3" y="347.3" width="1.8" height="2.3" rx="0.5" fill="#6e682e" opacity="0.85"/>
<rect x="141.1" y="348.1" width="2.5" height="2.3" rx="0.5" fill="#6e682e" opacity="0.85"/>
<rect x="145.0" y="348.7" width="3.0" height="2.3" rx="0.5" fill="#6e682e" opacity="0.85"/>
<rect x="149.4" y="348.9" width="3.1" height="2.3" rx="0.5" fill="#6e682e" opacity="0.85"/>
<rect x="154.0" y="348.7" width="3.0" height="2.3" rx="0.5" fill="#6e682e" opacity="0.85"/>
<rect x="158.3" y="348.1" width="2.5" height="2.3" rx="0.5" fill="#6e682e" opacity="0.85"/>
<rect x="161.9" y="347.3" width="1.8" height="2.3" rx="0.5" fill="#6e682e" opacity="0.85"/>
<rect x="164.4" y="346.2" width="0.9" height="2.3" rx="0.5" fill="#6e682e" opacity="0.85"/>
<ellipse cx="151.0" cy="286.0" rx="5.4" ry="1.6" fill="#f7e696"/>
</g>
<linearGradient id="cg3" x1="0" x2="1" y1="0" y2="0"><stop offset="0" stop-color="#8aa6ca"/><stop offset="0.3" stop-color="#b2cbeb"/><stop offset="0.6" stop-color="#9dbde6"/><stop offset="1" stop-color="#7188a5"/></linearGradient>
<g opacity="1.0">
<path d="M179.7 287.3 L169.9 355.0 A15.8 4.7 0 0 0 201.5 355.0 L191.7 287.3 A6.0 1.8 0 0 0 179.7 287.3Z" fill="url(#cg3)"/>
<rect x="179.5" y="288.9" width="0.4" height="2.5" rx="0.5" fill="#4f6fa8" opacity="0.85"/>
<rect x="180.2" y="289.4" width="0.8" height="2.5" rx="0.5" fill="#4f6fa8" opacity="0.85"/>
<rect x="181.4" y="289.7" width="1.1" height="2.5" rx="0.5" fill="#4f6fa8" opacity="0.85"/>
<rect x="183.1" y="290.0" width="1.3" height="2.5" rx="0.5" fill="#4f6fa8" opacity="0.85"/>
<rect x="185.0" y="290.1" width="1.4" height="2.5" rx="0.5" fill="#4f6fa8" opacity="0.85"/>
<rect x="187.0" y="290.0" width="1.3" height="2.5" rx="0.5" fill="#4f6fa8" opacity="0.85"/>
<rect x="188.9" y="289.7" width="1.1" height="2.5" rx="0.5" fill="#4f6fa8" opacity="0.85"/>
<rect x="190.4" y="289.4" width="0.8" height="2.5" rx="0.5" fill="#4f6fa8" opacity="0.85"/>
<rect x="191.5" y="288.9" width="0.4" height="2.5" rx="0.5" fill="#4f6fa8" opacity="0.85"/>
<rect x="178.9" y="293.1" width="0.5" height="2.5" rx="0.5" fill="#4f6fa8" opacity="0.85"/>
<rect x="179.6" y="293.6" width="0.9" height="2.5" rx="0.5" fill="#4f6fa8" opacity="0.85"/>
<rect x="181.0" y="294.0" width="1.2" height="2.5" rx="0.5" fill="#4f6fa8" opacity="0.85"/>
<rect x="182.8" y="294.3" width="1.4" height="2.5" rx="0.5" fill="#4f6fa8" opacity="0.85"/>
<rect x="185.0" y="294.4" width="1.5" height="2.5" rx="0.5" fill="#4f6fa8" opacity="0.85"/>
<rect x="187.1" y="294.3" width="1.4" height="2.5" rx="0.5" fill="#4f6fa8" opacity="0.85"/>
<rect x="189.2" y="294.0" width="1.2" height="2.5" rx="0.5" fill="#4f6fa8" opacity="0.85"/>
<rect x="190.9" y="293.6" width="0.9" height="2.5" rx="0.5" fill="#4f6fa8" opacity="0.85"/>
<rect x="192.1" y="293.1" width="0.5" height="2.5" rx="0.5" fill="#4f6fa8" opacity="0.85"/>
<rect x="178.3" y="297.3" width="0.5" height="2.5" rx="0.5" fill="#4f6fa8" opacity="0.85"/>
<rect x="179.1" y="297.9" width="0.9" height="2.5" rx="0.5" fill="#4f6fa8" opacity="0.85"/>
<rect x="180.6" y="298.3" width="1.3" height="2.5" rx="0.5" fill="#4f6fa8" opacity="0.85"/>
<rect x="182.6" y="298.6" width="1.5" height="2.5" rx="0.5" fill="#4f6fa8" opacity="0.85"/>
<rect x="184.9" y="298.7" width="1.6" height="2.5" rx="0.5" fill="#4f6fa8" opacity="0.85"/>
<rect x="187.3" y="298.6" width="1.5" height="2.5" rx="0.5" fill="#4f6fa8" opacity="0.85"/>
<rect x="189.5" y="298.3" width="1.3" height="2.5" rx="0.5" fill="#4f6fa8" opacity="0.85"/>
<rect x="191.3" y="297.9" width="0.9" height="2.5" rx="0.5" fill="#4f6fa8" opacity="0.85"/>
<rect x="192.6" y="297.3" width="0.5" height="2.5" rx="0.5" fill="#4f6fa8" opacity="0.85"/>
<rect x="177.7" y="301.5" width="0.5" height="2.5" rx="0.5" fill="#4f6fa8" opacity="0.85"/>
<rect x="178.6" y="302.1" width="1.0" height="2.5" rx="0.5" fill="#4f6fa8" opacity="0.85"/>
<rect x="180.2" y="302.6" width="1.4" height="2.5" rx="0.5" fill="#4f6fa8" opacity="0.85"/>
<rect x="182.3" y="302.9" width="1.7" height="2.5" rx="0.5" fill="#4f6fa8" opacity="0.85"/>
<rect x="184.8" y="303.0" width="1.7" height="2.5" rx="0.5" fill="#4f6fa8" opacity="0.85"/>
<rect x="187.4" y="302.9" width="1.7" height="2.5" rx="0.5" fill="#4f6fa8" opacity="0.85"/>
<rect x="189.8" y="302.6" width="1.4" height="2.5" rx="0.5" fill="#4f6fa8" opacity="0.85"/>
<rect x="191.8" y="302.1" width="1.0" height="2.5" rx="0.5" fill="#4f6fa8" opacity="0.85"/>
<rect x="193.2" y="301.5" width="0.5" height="2.5" rx="0.5" fill="#4f6fa8" opacity="0.85"/>
<rect x="177.1" y="305.7" width="0.6" height="2.5" rx="0.5" fill="#4f6fa8" opacity="0.85"/>
<rect x="178.1" y="306.3" width="1.1" height="2.5" rx="0.5" fill="#4f6fa8" opacity="0.85"/>
<rect x="179.8" y="306.9" width="1.5" height="2.5" rx="0.5" fill="#4f6fa8" opacity="0.85"/>
<rect x="182.1" y="307.2" width="1.8" height="2.5" rx="0.5" fill="#4f6fa8" opacity="0.85"/>
<rect x="184.8" y="307.3" width="1.9" height="2.5" rx="0.5" fill="#4f6fa8" opacity="0.85"/>
<rect x="187.5" y="307.2" width="1.8" height="2.5" rx="0.5" fill="#4f6fa8" opacity="0.85"/>
<rect x="190.1" y="306.9" width="1.5" height="2.5" rx="0.5" fill="#4f6fa8" opacity="0.85"/>
<rect x="192.2" y="306.3" width="1.1" height="2.5" rx="0.5" fill="#4f6fa8" opacity="0.85"/>
<rect x="193.7" y="305.7" width="0.6" height="2.5" rx="0.5" fill="#4f6fa8" opacity="0.85"/>
<rect x="176.5" y="309.9" width="0.6" height="2.5" rx="0.5" fill="#4f6fa8" opacity="0.85"/>
<rect x="177.5" y="310.6" width="1.2" height="2.5" rx="0.5" fill="#4f6fa8" opacity="0.85"/>
<rect x="179.4" y="311.2" width="1.6" height="2.5" rx="0.5" fill="#4f6fa8" opacity="0.85"/>
<rect x="181.9" y="311.5" width="1.9" height="2.5" rx="0.5" fill="#4f6fa8" opacity="0.85"/>
<rect x="184.7" y="311.6" width="2.0" height="2.5" rx="0.5" fill="#4f6fa8" opacity="0.85"/>
<rect x="187.6" y="311.5" width="1.9" height="2.5" rx="0.5" fill="#4f6fa8" opacity="0.85"/>
<rect x="190.4" y="311.2" width="1.6" height="2.5" rx="0.5" fill="#4f6fa8" opacity="0.85"/>
<rect x="192.7" y="310.6" width="1.2" height="2.5" rx="0.5" fill="#4f6fa8" opacity="0.85"/>
<rect x="194.3" y="309.9" width="0.6" height="2.5" rx="0.5" fill="#4f6fa8" opacity="0.85"/>
<rect x="175.9" y="314.1" width="0.6" height="2.5" rx="0.5" fill="#4f6fa8" opacity="0.85"/>
<rect x="177.0" y="314.8" width="1.2" height="2.5" rx="0.5" fill="#4f6fa8" opacity="0.85"/>
<rect x="179.0" y="315.4" width="1.7" height="2.5" rx="0.5" fill="#4f6fa8" opacity="0.85"/>
<rect x="181.6" y="315.8" width="2.0" height="2.5" rx="0.5" fill="#4f6fa8" opacity="0.85"/>
<rect x="184.6" y="316.0" width="2.1" height="2.5" rx="0.5" fill="#4f6fa8" opacity="0.85"/>
<rect x="187.8" y="315.8" width="2.0" height="2.5" rx="0.5" fill="#4f6fa8" opacity="0.85"/>
<rect x="190.7" y="315.4" width="1.7" height="2.5" rx="0.5" fill="#4f6fa8" opacity="0.85"/>
<rect x="193.1" y="314.8" width="1.2" height="2.5" rx="0.5" fill="#4f6fa8" opacity="0.85"/>
<rect x="194.8" y="314.1" width="0.6" height="2.5" rx="0.5" fill="#4f6fa8" opacity="0.85"/>
<rect x="175.3" y="318.3" width="0.7" height="2.5" rx="0.5" fill="#4f6fa8" opacity="0.85"/>
<rect x="176.5" y="319.1" width="1.3" height="2.5" rx="0.5" fill="#4f6fa8" opacity="0.85"/>
<rect x="178.6" y="319.7" width="1.8" height="2.5" rx="0.5" fill="#4f6fa8" opacity="0.85"/>
<rect x="181.4" y="320.1" width="2.1" height="2.5" rx="0.5" fill="#4f6fa8" opacity="0.85"/>
<rect x="184.6" y="320.3" width="2.3" height="2.5" rx="0.5" fill="#4f6fa8" opacity="0.85"/>
<rect x="187.9" y="320.1" width="2.1" height="2.5" rx="0.5" fill="#4f6fa8" opacity="0.85"/>
<rect x="191.0" y="319.7" width="1.8" height="2.5" rx="0.5" fill="#4f6fa8" opacity="0.85"/>
<rect x="193.6" y="319.1" width="1.3" height="2.5" rx="0.5" fill="#4f6fa8" opacity="0.85"/>
<rect x="195.4" y="318.3" width="0.7" height="2.5" rx="0.5" fill="#4f6fa8" opacity="0.85"/>
<rect x="174.7" y="322.5" width="0.7" height="2.5" rx="0.5" fill="#4f6fa8" opacity="0.85"/>
<rect x="176.0" y="323.3" width="1.4" height="2.5" rx="0.5" fill="#4f6fa8" opacity="0.85"/>
<rect x="178.2" y="324.0" width="1.9" height="2.5" rx="0.5" fill="#4f6fa8" opacity="0.85"/>
<rect x="181.1" y="324.4" width="2.3" height="2.5" rx="0.5" fill="#4f6fa8" opacity="0.85"/>
<rect x="184.5" y="324.6" width="2.4" height="2.5" rx="0.5" fill="#4f6fa8" opacity="0.85"/>
<rect x="188.0" y="324.4" width="2.3" height="2.5" rx="0.5" fill="#4f6fa8" opacity="0.85"/>
<rect x="191.3" y="324.0" width="1.9" height="2.5" rx="0.5" fill="#4f6fa8" opacity="0.85"/>
<rect x="194.0" y="323.3" width="1.4" height="2.5" rx="0.5" fill="#4f6fa8" opacity="0.85"/>
<rect x="196.0" y="322.5" width="0.7" height="2.5" rx="0.5" fill="#4f6fa8" opacity="0.85"/>
<rect x="174.1" y="326.7" width="0.8" height="2.5" rx="0.5" fill="#4f6fa8" opacity="0.85"/>
<rect x="175.4" y="327.6" width="1.5" height="2.5" rx="0.5" fill="#4f6fa8" opacity="0.85"/>
<rect x="177.8" y="328.3" width="2.0" height="2.5" rx="0.5" fill="#4f6fa8" opacity="0.85"/>
<rect x="180.9" y="328.8" width="2.4" height="2.5" rx="0.5" fill="#4f6fa8" opacity="0.85"/>
<rect x="184.4" y="328.9" width="2.5" height="2.5" rx="0.5" fill="#4f6fa8" opacity="0.85"/>
<rect x="188.1" y="328.8" width="2.4" height="2.5" rx="0.5" fill="#4f6fa8" opacity="0.85"/>
<rect x="191.6" y="328.3" width="2.0" height="2.5" rx="0.5" fill="#4f6fa8" opacity="0.85"/>
<rect x="194.5" y="327.6" width="1.5" height="2.5" rx="0.5" fill="#4f6fa8" opacity="0.85"/>
<rect x="196.5" y="326.7" width="0.8" height="2.5" rx="0.5" fill="#4f6fa8" opacity="0.85"/>
<rect x="173.5" y="330.9" width="0.8" height="2.5" rx="0.5" fill="#4f6fa8" opacity="0.85"/>
<rect x="174.9" y="331.8" width="1.5" height="2.5" rx="0.5" fill="#4f6fa8" opacity="0.85"/>
<rect x="177.3" y="332.6" width="2.1" height="2.5" rx="0.5" fill="#4f6fa8" opacity="0.85"/>
<rect x="180.6" y="333.1" width="2.5" height="2.5" rx="0.5" fill="#4f6fa8" opacity="0.85"/>
<rect x="184.4" y="333.2" width="2.6" height="2.5" rx="0.5" fill="#4f6fa8" opacity="0.85"/>
<rect x="188.3" y="333.1" width="2.5" height="2.5" rx="0.5" fill="#4f6fa8" opacity="0.85"/>
<rect x="191.9" y="332.6" width="2.1" height="2.5" rx="0.5" fill="#4f6fa8" opacity="0.85"/>
<rect x="194.9" y="331.8" width="1.5" height="2.5" rx="0.5" fill="#4f6fa8" opacity="0.85"/>
<rect x="197.1" y="330.9" width="0.8" height="2.5" rx="0.5" fill="#4f6fa8" opacity="0.85"/>
<rect x="172.9" y="335.1" width="0.8" height="2.5" rx="0.5" fill="#4f6fa8" opacity="0.85"/>
<rect x="174.4" y="336.1" width="1.6" height="2.5" rx="0.5" fill="#4f6fa8" opacity="0.85"/>
<rect x="176.9" y="336.9" width="2.2" height="2.5" rx="0.5" fill="#4f6fa8" opacity="0.85"/>
<rect x="180.4" y="337.4" width="2.6" height="2.5" rx="0.5" fill="#4f6fa8" opacity="0.85"/>
<rect x="184.3" y="337.5" width="2.8" height="2.5" rx="0.5" fill="#4f6fa8" opacity="0.85"/>
<rect x="188.4" y="337.4" width="2.6" height="2.5" rx="0.5" fill="#4f6fa8" opacity="0.85"/>
<rect x="192.2" y="336.9" width="2.2" height="2.5" rx="0.5" fill="#4f6fa8" opacity="0.85"/>
<rect x="195.4" y="336.1" width="1.6" height="2.5" rx="0.5" fill="#4f6fa8" opacity="0.85"/>
<rect x="197.6" y="335.1" width="0.8" height="2.5" rx="0.5" fill="#4f6fa8" opacity="0.85"/>
<rect x="172.4" y="339.3" width="0.9" height="2.5" rx="0.5" fill="#4f6fa8" opacity="0.85"/>
<rect x="173.9" y="340.3" width="1.7" height="2.5" rx="0.5" fill="#4f6fa8" opacity="0.85"/>
<rect x="176.5" y="341.2" width="2.3" height="2.5" rx="0.5" fill="#4f6fa8" opacity="0.85"/>
<rect x="180.1" y="341.7" width="2.8" height="2.5" rx="0.5" fill="#4f6fa8" opacity="0.85"/>
<rect x="184.2" y="341.9" width="2.9" height="2.5" rx="0.5" fill="#4f6fa8" opacity="0.85"/>
<rect x="188.5" y="341.7" width="2.8" height="2.5" rx="0.5" fill="#4f6fa8" opacity="0.85"/>
<rect x="192.5" y="341.2" width="2.3" height="2.5" rx="0.5" fill="#4f6fa8" opacity="0.85"/>
<rect x="195.8" y="340.3" width="1.7" height="2.5" rx="0.5" fill="#4f6fa8" opacity="0.85"/>
<rect x="198.2" y="339.3" width="0.9" height="2.5" rx="0.5" fill="#4f6fa8" opacity="0.85"/>
<rect x="171.8" y="343.5" width="0.9" height="2.5" rx="0.5" fill="#4f6fa8" opacity="0.85"/>
<rect x="173.3" y="344.6" width="1.8" height="2.5" rx="0.5" fill="#4f6fa8" opacity="0.85"/>
<rect x="176.1" y="345.4" width="2.5" height="2.5" rx="0.5" fill="#4f6fa8" opacity="0.85"/>
<rect x="179.9" y="346.0" width="2.9" height="2.5" rx="0.5" fill="#4f6fa8" opacity="0.85"/>
<rect x="184.2" y="346.2" width="3.0" height="2.5" rx="0.5" fill="#4f6fa8" opacity="0.85"/>
<rect x="188.6" y="346.0" width="2.9" height="2.5" rx="0.5" fill="#4f6fa8" opacity="0.85"/>
<rect x="192.8" y="345.4" width="2.5" height="2.5" rx="0.5" fill="#4f6fa8" opacity="0.85"/>
<rect x="196.3" y="344.6" width="1.8" height="2.5" rx="0.5" fill="#4f6fa8" opacity="0.85"/>
<rect x="198.7" y="343.5" width="0.9" height="2.5" rx="0.5" fill="#4f6fa8" opacity="0.85"/>
<rect x="171.2" y="347.7" width="1.0" height="2.5" rx="0.5" fill="#4f6fa8" opacity="0.85"/>
<rect x="172.8" y="348.8" width="1.8" height="2.5" rx="0.5" fill="#4f6fa8" opacity="0.85"/>
<rect x="175.7" y="349.7" width="2.6" height="2.5" rx="0.5" fill="#4f6fa8" opacity="0.85"/>
<rect x="179.6" y="350.3" width="3.0" height="2.5" rx="0.5" fill="#4f6fa8" opacity="0.85"/>
<rect x="184.1" y="350.5" width="3.2" height="2.5" rx="0.5" fill="#4f6fa8" opacity="0.85"/>
<rect x="188.8" y="350.3" width="3.0" height="2.5" rx="0.5" fill="#4f6fa8" opacity="0.85"/>
<rect x="193.1" y="349.7" width="2.6" height="2.5" rx="0.5" fill="#4f6fa8" opacity="0.85"/>
<rect x="196.7" y="348.8" width="1.8" height="2.5" rx="0.5" fill="#4f6fa8" opacity="0.85"/>
<rect x="199.3" y="347.7" width="1.0" height="2.5" rx="0.5" fill="#4f6fa8" opacity="0.85"/>
<rect x="170.6" y="351.9" width="1.0" height="2.5" rx="0.5" fill="#4f6fa8" opacity="0.85"/>
<rect x="172.3" y="353.1" width="1.9" height="2.5" rx="0.5" fill="#4f6fa8" opacity="0.85"/>
<rect x="175.3" y="354.0" width="2.7" height="2.5" rx="0.5" fill="#4f6fa8" opacity="0.85"/>
<rect x="179.4" y="354.6" width="3.1" height="2.5" rx="0.5" fill="#4f6fa8" opacity="0.85"/>
<rect x="184.1" y="354.8" width="3.3" height="2.5" rx="0.5" fill="#4f6fa8" opacity="0.85"/>
<rect x="188.9" y="354.6" width="3.1" height="2.5" rx="0.5" fill="#4f6fa8" opacity="0.85"/>
<rect x="193.4" y="354.0" width="2.7" height="2.5" rx="0.5" fill="#4f6fa8" opacity="0.85"/>
<rect x="197.2" y="353.1" width="1.9" height="2.5" rx="0.5" fill="#4f6fa8" opacity="0.85"/>
<rect x="199.8" y="351.9" width="1.0" height="2.5" rx="0.5" fill="#4f6fa8" opacity="0.85"/>
<ellipse cx="185.7" cy="287.3" rx="6.0" ry="1.8" fill="#bfd4ee"/>
</g>
<linearGradient id="cg4" x1="0" x2="1" y1="0" y2="0"><stop offset="0" stop-color="#81b872"/><stop offset="0.3" stop-color="#aadb9d"/><stop offset="0.6" stop-color="#93d282"/><stop offset="1" stop-color="#69975d"/></linearGradient>
<g opacity="1.0">
<path d="M88.0 287.0 L77.6 350.0 A15.8 4.7 0 0 0 109.2 350.0 L98.8 287.0 A5.4 1.6 0 0 0 88.0 287.0Z" fill="url(#cg4)"/>
<rect x="87.7" y="288.5" width="0.4" height="2.3" rx="0.5" fill="#2f6a4a" opacity="0.85"/>
<rect x="88.4" y="288.9" width="0.7" height="2.3" rx="0.5" fill="#2f6a4a" opacity="0.85"/>
<rect x="89.5" y="289.2" width="1.0" height="2.3" rx="0.5" fill="#2f6a4a" opacity="0.85"/>
<rect x="91.0" y="289.5" width="1.2" height="2.3" rx="0.5" fill="#2f6a4a" opacity="0.85"/>
<rect x="92.8" y="289.5" width="1.2" height="2.3" rx="0.5" fill="#2f6a4a" opacity="0.85"/>
<rect x="94.6" y="289.5" width="1.2" height="2.3" rx="0.5" fill="#2f6a4a" opacity="0.85"/>
<rect x="96.3" y="289.2" width="1.0" height="2.3" rx="0.5" fill="#2f6a4a" opacity="0.85"/>
<rect x="97.7" y="288.9" width="0.7" height="2.3" rx="0.5" fill="#2f6a4a" opacity="0.85"/>
<rect x="98.7" y="288.5" width="0.4" height="2.3" rx="0.5" fill="#2f6a4a" opacity="0.85"/>
<rect x="87.1" y="292.4" width="0.4" height="2.3" rx="0.5" fill="#2f6a4a" opacity="0.85"/>
<rect x="87.8" y="292.9" width="0.8" height="2.3" rx="0.5" fill="#2f6a4a" opacity="0.85"/>
<rect x="89.1" y="293.2" width="1.1" height="2.3" rx="0.5" fill="#2f6a4a" opacity="0.85"/>
<rect x="90.8" y="293.5" width="1.3" height="2.3" rx="0.5" fill="#2f6a4a" opacity="0.85"/>
<rect x="92.7" y="293.6" width="1.4" height="2.3" rx="0.5" fill="#2f6a4a" opacity="0.85"/>
<rect x="94.7" y="293.5" width="1.3" height="2.3" rx="0.5" fill="#2f6a4a" opacity="0.85"/>
<rect x="96.6" y="293.2" width="1.1" height="2.3" rx="0.5" fill="#2f6a4a" opacity="0.85"/>
<rect x="98.2" y="292.9" width="0.8" height="2.3" rx="0.5" fill="#2f6a4a" opacity="0.85"/>
<rect x="99.3" y="292.4" width="0.4" height="2.3" rx="0.5" fill="#2f6a4a" opacity="0.85"/>
<rect x="86.5" y="296.3" width="0.5" height="2.3" rx="0.5" fill="#2f6a4a" opacity="0.85"/>
<rect x="87.3" y="296.8" width="0.9" height="2.3" rx="0.5" fill="#2f6a4a" opacity="0.85"/>
<rect x="88.6" y="297.2" width="1.2" height="2.3" rx="0.5" fill="#2f6a4a" opacity="0.85"/>
<rect x="90.5" y="297.5" width="1.4" height="2.3" rx="0.5" fill="#2f6a4a" opacity="0.85"/>
<rect x="92.6" y="297.6" width="1.5" height="2.3" rx="0.5" fill="#2f6a4a" opacity="0.85"/>
<rect x="94.9" y="297.5" width="1.4" height="2.3" rx="0.5" fill="#2f6a4a" opacity="0.85"/>
<rect x="96.9" y="297.2" width="1.2" height="2.3" rx="0.5" fill="#2f6a4a" opacity="0.85"/>
<rect x="98.7" y="296.8" width="0.9" height="2.3" rx="0.5" fill="#2f6a4a" opacity="0.85"/>
<rect x="99.9" y="296.3" width="0.5" height="2.3" rx="0.5" fill="#2f6a4a" opacity="0.85"/>
<rect x="85.8" y="300.2" width="0.5" height="2.3" rx="0.5" fill="#2f6a4a" opacity="0.85"/>
<rect x="86.7" y="300.8" width="1.0" height="2.3" rx="0.5" fill="#2f6a4a" opacity="0.85"/>
<rect x="88.2" y="301.2" width="1.3" height="2.3" rx="0.5" fill="#2f6a4a" opacity="0.85"/>
<rect x="90.2" y="301.5" width="1.6" height="2.3" rx="0.5" fill="#2f6a4a" opacity="0.85"/>
<rect x="92.6" y="301.6" width="1.6" height="2.3" rx="0.5" fill="#2f6a4a" opacity="0.85"/>
<rect x="95.0" y="301.5" width="1.6" height="2.3" rx="0.5" fill="#2f6a4a" opacity="0.85"/>
<rect x="97.3" y="301.2" width="1.3" height="2.3" rx="0.5" fill="#2f6a4a" opacity="0.85"/>
<rect x="99.1" y="300.8" width="1.0" height="2.3" rx="0.5" fill="#2f6a4a" opacity="0.85"/>
<rect x="100.5" y="300.2" width="0.5" height="2.3" rx="0.5" fill="#2f6a4a" opacity="0.85"/>
<rect x="85.2" y="304.1" width="0.5" height="2.3" rx="0.5" fill="#2f6a4a" opacity="0.85"/>
<rect x="86.1" y="304.8" width="1.0" height="2.3" rx="0.5" fill="#2f6a4a" opacity="0.85"/>
<rect x="87.8" y="305.3" width="1.4" height="2.3" rx="0.5" fill="#2f6a4a" opacity="0.85"/>
<rect x="90.0" y="305.6" width="1.7" height="2.3" rx="0.5" fill="#2f6a4a" opacity="0.85"/>
<rect x="92.5" y="305.7" width="1.8" height="2.3" rx="0.5" fill="#2f6a4a" opacity="0.85"/>
<rect x="95.1" y="305.6" width="1.7" height="2.3" rx="0.5" fill="#2f6a4a" opacity="0.85"/>
<rect x="97.6" y="305.3" width="1.4" height="2.3" rx="0.5" fill="#2f6a4a" opacity="0.85"/>
<rect x="99.6" y="304.8" width="1.0" height="2.3" rx="0.5" fill="#2f6a4a" opacity="0.85"/>
<rect x="101.0" y="304.1" width="0.5" height="2.3" rx="0.5" fill="#2f6a4a" opacity="0.85"/>
<rect x="84.6" y="308.0" width="0.6" height="2.3" rx="0.5" fill="#2f6a4a" opacity="0.85"/>
<rect x="85.6" y="308.7" width="1.1" height="2.3" rx="0.5" fill="#2f6a4a" opacity="0.85"/>
<rect x="87.3" y="309.3" width="1.5" height="2.3" rx="0.5" fill="#2f6a4a" opacity="0.85"/>
<rect x="89.7" y="309.6" width="1.8" height="2.3" rx="0.5" fill="#2f6a4a" opacity="0.85"/>
<rect x="92.4" y="309.7" width="1.9" height="2.3" rx="0.5" fill="#2f6a4a" opacity="0.85"/>
<rect x="95.3" y="309.6" width="1.8" height="2.3" rx="0.5" fill="#2f6a4a" opacity="0.85"/>
<rect x="97.9" y="309.3" width="1.5" height="2.3" rx="0.5" fill="#2f6a4a" opacity="0.85"/>
<rect x="100.1" y="308.7" width="1.1" height="2.3" rx="0.5" fill="#2f6a4a" opacity="0.85"/>
<rect x="101.6" y="308.0" width="0.6" height="2.3" rx="0.5" fill="#2f6a4a" opacity="0.85"/>
<rect x="84.0" y="312.0" width="0.6" height="2.3" rx="0.5" fill="#2f6a4a" opacity="0.85"/>
<rect x="85.0" y="312.7" width="1.2" height="2.3" rx="0.5" fill="#2f6a4a" opacity="0.85"/>
<rect x="86.9" y="313.3" width="1.7" height="2.3" rx="0.5" fill="#2f6a4a" opacity="0.85"/>
<rect x="89.5" y="313.6" width="2.0" height="2.3" rx="0.5" fill="#2f6a4a" opacity="0.85"/>
<rect x="92.4" y="313.8" width="2.1" height="2.3" rx="0.5" fill="#2f6a4a" opacity="0.85"/>
<rect x="95.4" y="313.6" width="2.0" height="2.3" rx="0.5" fill="#2f6a4a" opacity="0.85"/>
<rect x="98.2" y="313.3" width="1.7" height="2.3" rx="0.5" fill="#2f6a4a" opacity="0.85"/>
<rect x="100.6" y="312.7" width="1.2" height="2.3" rx="0.5" fill="#2f6a4a" opacity="0.85"/>
<rect x="102.2" y="312.0" width="0.6" height="2.3" rx="0.5" fill="#2f6a4a" opacity="0.85"/>
<rect x="83.3" y="315.9" width="0.7" height="2.3" rx="0.5" fill="#2f6a4a" opacity="0.85"/>
<rect x="84.5" y="316.7" width="1.3" height="2.3" rx="0.5" fill="#2f6a4a" opacity="0.85"/>
<rect x="86.5" y="317.3" width="1.8" height="2.3" rx="0.5" fill="#2f6a4a" opacity="0.85"/>
<rect x="89.2" y="317.7" width="2.1" height="2.3" rx="0.5" fill="#2f6a4a" opacity="0.85"/>
<rect x="92.3" y="317.8" width="2.2" height="2.3" rx="0.5" fill="#2f6a4a" opacity="0.85"/>
<rect x="95.5" y="317.7" width="2.1" height="2.3" rx="0.5" fill="#2f6a4a" opacity="0.85"/>
<rect x="98.5" y="317.3" width="1.8" height="2.3" rx="0.5" fill="#2f6a4a" opacity="0.85"/>
<rect x="101.1" y="316.7" width="1.3" height="2.3" rx="0.5" fill="#2f6a4a" opacity="0.85"/>
<rect x="102.8" y="315.9" width="0.7" height="2.3" rx="0.5" fill="#2f6a4a" opacity="0.85"/>
<rect x="82.7" y="319.8" width="0.7" height="2.3" rx="0.5" fill="#2f6a4a" opacity="0.85"/>
<rect x="83.9" y="320.6" width="1.4" height="2.3" rx="0.5" fill="#2f6a4a" opacity="0.85"/>
<rect x="86.1" y="321.3" width="1.9" height="2.3" rx="0.5" fill="#2f6a4a" opacity="0.85"/>
<rect x="88.9" y="321.7" width="2.2" height="2.3" rx="0.5" fill="#2f6a4a" opacity="0.85"/>
<rect x="92.2" y="321.8" width="2.3" height="2.3" rx="0.5" fill="#2f6a4a" opacity="0.85"/>
<rect x="95.7" y="321.7" width="2.2" height="2.3" rx="0.5" fill="#2f6a4a" opacity="0.85"/>
<rect x="98.9" y="321.3" width="1.9" height="2.3" rx="0.5" fill="#2f6a4a" opacity="0.85"/>
<rect x="101.5" y="320.6" width="1.4" height="2.3" rx="0.5" fill="#2f6a4a" opacity="0.85"/>
<rect x="103.4" y="319.8" width="0.7" height="2.3" rx="0.5" fill="#2f6a4a" opacity="0.85"/>
<rect x="82.1" y="323.7" width="0.7" height="2.3" rx="0.5" fill="#2f6a4a" opacity="0.85"/>
<rect x="83.4" y="324.6" width="1.4" height="2.3" rx="0.5" fill="#2f6a4a" opacity="0.85"/>
<rect x="85.6" y="325.3" width="2.0" height="2.3" rx="0.5" fill="#2f6a4a" opacity="0.85"/>
<rect x="88.7" y="325.7" width="2.3" height="2.3" rx="0.5" fill="#2f6a4a" opacity="0.85"/>
<rect x="92.2" y="325.9" width="2.5" height="2.3" rx="0.5" fill="#2f6a4a" opacity="0.85"/>
<rect x="95.8" y="325.7" width="2.3" height="2.3" rx="0.5" fill="#2f6a4a" opacity="0.85"/>
<rect x="99.2" y="325.3" width="2.0" height="2.3" rx="0.5" fill="#2f6a4a" opacity="0.85"/>
<rect x="102.0" y="324.6" width="1.4" height="2.3" rx="0.5" fill="#2f6a4a" opacity="0.85"/>
<rect x="104.0" y="323.7" width="0.7" height="2.3" rx="0.5" fill="#2f6a4a" opacity="0.85"/>
<rect x="81.4" y="327.6" width="0.8" height="2.3" rx="0.5" fill="#2f6a4a" opacity="0.85"/>
<rect x="82.8" y="328.5" width="1.5" height="2.3" rx="0.5" fill="#2f6a4a" opacity="0.85"/>
<rect x="85.2" y="329.3" width="2.1" height="2.3" rx="0.5" fill="#2f6a4a" opacity="0.85"/>
<rect x="88.4" y="329.7" width="2.5" height="2.3" rx="0.5" fill="#2f6a4a" opacity="0.85"/>
<rect x="92.1" y="329.9" width="2.6" height="2.3" rx="0.5" fill="#2f6a4a" opacity="0.85"/>
<rect x="95.9" y="329.7" width="2.5" height="2.3" rx="0.5" fill="#2f6a4a" opacity="0.85"/>
<rect x="99.5" y="329.3" width="2.1" height="2.3" rx="0.5" fill="#2f6a4a" opacity="0.85"/>
<rect x="102.5" y="328.5" width="1.5" height="2.3" rx="0.5" fill="#2f6a4a" opacity="0.85"/>
<rect x="104.6" y="327.6" width="0.8" height="2.3" rx="0.5" fill="#2f6a4a" opacity="0.85"/>
<rect x="80.8" y="331.5" width="0.8" height="2.3" rx="0.5" fill="#2f6a4a" opacity="0.85"/>
<rect x="82.2" y="332.5" width="1.6" height="2.3" rx="0.5" fill="#2f6a4a" opacity="0.85"/>
<rect x="84.8" y="333.3" width="2.2" height="2.3" rx="0.5" fill="#2f6a4a" opacity="0.85"/>
<rect x="88.1" y="333.8" width="2.6" height="2.3" rx="0.5" fill="#2f6a4a" opacity="0.85"/>
<rect x="92.0" y="333.9" width="2.7" height="2.3" rx="0.5" fill="#2f6a4a" opacity="0.85"/>
<rect x="96.1" y="333.8" width="2.6" height="2.3" rx="0.5" fill="#2f6a4a" opacity="0.85"/>
<rect x="99.8" y="333.3" width="2.2" height="2.3" rx="0.5" fill="#2f6a4a" opacity="0.85"/>
<rect x="103.0" y="332.5" width="1.6" height="2.3" rx="0.5" fill="#2f6a4a" opacity="0.85"/>
<rect x="105.2" y="331.5" width="0.8" height="2.3" rx="0.5" fill="#2f6a4a" opacity="0.85"/>
<rect x="80.2" y="335.5" width="0.9" height="2.3" rx="0.5" fill="#2f6a4a" opacity="0.85"/>
<rect x="81.7" y="336.5" width="1.7" height="2.3" rx="0.5" fill="#2f6a4a" opacity="0.85"/>
<rect x="84.3" y="337.3" width="2.3" height="2.3" rx="0.5" fill="#2f6a4a" opacity="0.85"/>
<rect x="87.9" y="337.8" width="2.7" height="2.3" rx="0.5" fill="#2f6a4a" opacity="0.85"/>
<rect x="92.0" y="338.0" width="2.9" height="2.3" rx="0.5" fill="#2f6a4a" opacity="0.85"/>
<rect x="96.2" y="337.8" width="2.7" height="2.3" rx="0.5" fill="#2f6a4a" opacity="0.85"/>
<rect x="100.1" y="337.3" width="2.3" height="2.3" rx="0.5" fill="#2f6a4a" opacity="0.85"/>
<rect x="103.4" y="336.5" width="1.7" height="2.3" rx="0.5" fill="#2f6a4a" opacity="0.85"/>
<rect x="105.7" y="335.5" width="0.9" height="2.3" rx="0.5" fill="#2f6a4a" opacity="0.85"/>
<rect x="79.6" y="339.4" width="0.9" height="2.3" rx="0.5" fill="#2f6a4a" opacity="0.85"/>
<rect x="81.1" y="340.4" width="1.8" height="2.3" rx="0.5" fill="#2f6a4a" opacity="0.85"/>
<rect x="83.9" y="341.3" width="2.4" height="2.3" rx="0.5" fill="#2f6a4a" opacity="0.85"/>
<rect x="87.6" y="341.8" width="2.9" height="2.3" rx="0.5" fill="#2f6a4a" opacity="0.85"/>
<rect x="91.9" y="342.0" width="3.0" height="2.3" rx="0.5" fill="#2f6a4a" opacity="0.85"/>
<rect x="96.3" y="341.8" width="2.9" height="2.3" rx="0.5" fill="#2f6a4a" opacity="0.85"/>
<rect x="100.5" y="341.3" width="2.4" height="2.3" rx="0.5" fill="#2f6a4a" opacity="0.85"/>
<rect x="103.9" y="340.4" width="1.8" height="2.3" rx="0.5" fill="#2f6a4a" opacity="0.85"/>
<rect x="106.3" y="339.4" width="0.9" height="2.3" rx="0.5" fill="#2f6a4a" opacity="0.85"/>
<rect x="78.9" y="343.3" width="1.0" height="2.3" rx="0.5" fill="#2f6a4a" opacity="0.85"/>
<rect x="80.6" y="344.4" width="1.8" height="2.3" rx="0.5" fill="#2f6a4a" opacity="0.85"/>
<rect x="83.5" y="345.3" width="2.5" height="2.3" rx="0.5" fill="#2f6a4a" opacity="0.85"/>
<rect x="87.3" y="345.9" width="3.0" height="2.3" rx="0.5" fill="#2f6a4a" opacity="0.85"/>
<rect x="91.8" y="346.1" width="3.2" height="2.3" rx="0.5" fill="#2f6a4a" opacity="0.85"/>
<rect x="96.5" y="345.9" width="3.0" height="2.3" rx="0.5" fill="#2f6a4a" opacity="0.85"/>
<rect x="100.8" y="345.3" width="2.5" height="2.3" rx="0.5" fill="#2f6a4a" opacity="0.85"/>
<rect x="104.4" y="344.4" width="1.8" height="2.3" rx="0.5" fill="#2f6a4a" opacity="0.85"/>
<rect x="106.9" y="343.3" width="1.0" height="2.3" rx="0.5" fill="#2f6a4a" opacity="0.85"/>
<rect x="78.3" y="347.2" width="1.0" height="2.3" rx="0.5" fill="#2f6a4a" opacity="0.85"/>
<rect x="80.0" y="348.4" width="1.9" height="2.3" rx="0.5" fill="#2f6a4a" opacity="0.85"/>
<rect x="83.0" y="349.3" width="2.7" height="2.3" rx="0.5" fill="#2f6a4a" opacity="0.85"/>
<rect x="87.1" y="349.9" width="3.1" height="2.3" rx="0.5" fill="#2f6a4a" opacity="0.85"/>
<rect x="91.8" y="350.1" width="3.3" height="2.3" rx="0.5" fill="#2f6a4a" opacity="0.85"/>
<rect x="96.6" y="349.9" width="3.1" height="2.3" rx="0.5" fill="#2f6a4a" opacity="0.85"/>
<rect x="101.1" y="349.3" width="2.7" height="2.3" rx="0.5" fill="#2f6a4a" opacity="0.85"/>
<rect x="104.9" y="348.4" width="1.9" height="2.3" rx="0.5" fill="#2f6a4a" opacity="0.85"/>
<rect x="107.5" y="347.2" width="1.0" height="2.3" rx="0.5" fill="#2f6a4a" opacity="0.85"/>
<ellipse cx="93.4" cy="287.0" rx="5.4" ry="1.6" fill="#b8e1ad"/>
</g>
<linearGradient id="cg5" x1="0" x2="1" y1="0" y2="0"><stop offset="0" stop-color="#d5be52"/><stop offset="0.3" stop-color="#f5e181"/><stop offset="0.6" stop-color="#f3d95e"/><stop offset="1" stop-color="#ae9c43"/></linearGradient>
<g opacity="1.0">
<path d="M123.0 290.3 L112.6 358.0 A16.0 4.8 0 0 0 144.6 358.0 L134.2 290.3 A5.6 1.7 0 0 0 123.0 290.3Z" fill="url(#cg5)"/>
<rect x="122.7" y="291.8" width="0.4" height="2.5" rx="0.5" fill="#6e682e" opacity="0.85"/>
<rect x="123.4" y="292.3" width="0.7" height="2.5" rx="0.5" fill="#6e682e" opacity="0.85"/>
<rect x="124.6" y="292.7" width="1.0" height="2.5" rx="0.5" fill="#6e682e" opacity="0.85"/>
<rect x="126.1" y="292.9" width="1.2" height="2.5" rx="0.5" fill="#6e682e" opacity="0.85"/>
<rect x="128.0" y="293.0" width="1.3" height="2.5" rx="0.5" fill="#6e682e" opacity="0.85"/>
<rect x="129.8" y="292.9" width="1.2" height="2.5" rx="0.5" fill="#6e682e" opacity="0.85"/>
<rect x="131.6" y="292.7" width="1.0" height="2.5" rx="0.5" fill="#6e682e" opacity="0.85"/>
<rect x="133.1" y="292.3" width="0.7" height="2.5" rx="0.5" fill="#6e682e" opacity="0.85"/>
<rect x="134.1" y="291.8" width="0.4" height="2.5" rx="0.5" fill="#6e682e" opacity="0.85"/>
<rect x="122.1" y="296.1" width="0.4" height="2.5" rx="0.5" fill="#6e682e" opacity="0.85"/>
<rect x="122.8" y="296.6" width="0.8" height="2.5" rx="0.5" fill="#6e682e" opacity="0.85"/>
<rect x="124.1" y="296.9" width="1.1" height="2.5" rx="0.5" fill="#6e682e" opacity="0.85"/>
<rect x="125.9" y="297.2" width="1.3" height="2.5" rx="0.5" fill="#6e682e" opacity="0.85"/>
<rect x="127.9" y="297.3" width="1.4" height="2.5" rx="0.5" fill="#6e682e" opacity="0.85"/>
<rect x="130.0" y="297.2" width="1.3" height="2.5" rx="0.5" fill="#6e682e" opacity="0.85"/>
<rect x="131.9" y="296.9" width="1.1" height="2.5" rx="0.5" fill="#6e682e" opacity="0.85"/>
<rect x="133.5" y="296.6" width="0.8" height="2.5" rx="0.5" fill="#6e682e" opacity="0.85"/>
<rect x="134.7" y="296.1" width="0.4" height="2.5" rx="0.5" fill="#6e682e" opacity="0.85"/>
<rect x="121.5" y="300.3" width="0.5" height="2.5" rx="0.5" fill="#6e682e" opacity="0.85"/>
<rect x="122.3" y="300.8" width="0.9" height="2.5" rx="0.5" fill="#6e682e" opacity="0.85"/>
<rect x="123.7" y="301.2" width="1.3" height="2.5" rx="0.5" fill="#6e682e" opacity="0.85"/>
<rect x="125.6" y="301.5" width="1.5" height="2.5" rx="0.5" fill="#6e682e" opacity="0.85"/>
<rect x="127.8" y="301.6" width="1.6" height="2.5" rx="0.5" fill="#6e682e" opacity="0.85"/>
<rect x="130.1" y="301.5" width="1.5" height="2.5" rx="0.5" fill="#6e682e" opacity="0.85"/>
<rect x="132.2" y="301.2" width="1.3" height="2.5" rx="0.5" fill="#6e682e" opacity="0.85"/>
<rect x="134.0" y="300.8" width="0.9" height="2.5" rx="0.5" fill="#6e682e" opacity="0.85"/>
<rect x="135.3" y="300.3" width="0.5" height="2.5" rx="0.5" fill="#6e682e" opacity="0.85"/>
<rect x="120.9" y="304.5" width="0.5" height="2.5" rx="0.5" fill="#6e682e" opacity="0.85"/>
<rect x="121.7" y="305.1" width="1.0" height="2.5" rx="0.5" fill="#6e682e" opacity="0.85"/>
<rect x="123.3" y="305.5" width="1.4" height="2.5" rx="0.5" fill="#6e682e" opacity="0.85"/>
<rect x="125.4" y="305.8" width="1.6" height="2.5" rx="0.5" fill="#6e682e" opacity="0.85"/>
<rect x="127.8" y="305.9" width="1.7" height="2.5" rx="0.5" fill="#6e682e" opacity="0.85"/>
<rect x="130.2" y="305.8" width="1.6" height="2.5" rx="0.5" fill="#6e682e" opacity="0.85"/>
<rect x="132.6" y="305.5" width="1.4" height="2.5" rx="0.5" fill="#6e682e" opacity="0.85"/>
<rect x="134.5" y="305.1" width="1.0" height="2.5" rx="0.5" fill="#6e682e" opacity="0.85"/>
<rect x="135.8" y="304.5" width="0.5" height="2.5" rx="0.5" fill="#6e682e" opacity="0.85"/>
<rect x="120.2" y="308.7" width="0.6" height="2.5" rx="0.5" fill="#6e682e" opacity="0.85"/>
<rect x="121.2" y="309.3" width="1.1" height="2.5" rx="0.5" fill="#6e682e" opacity="0.85"/>
<rect x="122.8" y="309.8" width="1.5" height="2.5" rx="0.5" fill="#6e682e" opacity="0.85"/>
<rect x="125.1" y="310.2" width="1.7" height="2.5" rx="0.5" fill="#6e682e" opacity="0.85"/>
<rect x="127.7" y="310.3" width="1.8" height="2.5" rx="0.5" fill="#6e682e" opacity="0.85"/>
<rect x="130.4" y="310.2" width="1.7" height="2.5" rx="0.5" fill="#6e682e" opacity="0.85"/>
<rect x="132.9" y="309.8" width="1.5" height="2.5" rx="0.5" fill="#6e682e" opacity="0.85"/>
<rect x="135.0" y="309.3" width="1.1" height="2.5" rx="0.5" fill="#6e682e" opacity="0.85"/>
<rect x="136.4" y="308.7" width="0.6" height="2.5" rx="0.5" fill="#6e682e" opacity="0.85"/>
<rect x="119.6" y="312.9" width="0.6" height="2.5" rx="0.5" fill="#6e682e" opacity="0.85"/>
<rect x="120.6" y="313.6" width="1.1" height="2.5" rx="0.5" fill="#6e682e" opacity="0.85"/>
<rect x="122.4" y="314.1" width="1.6" height="2.5" rx="0.5" fill="#6e682e" opacity="0.85"/>
<rect x="124.8" y="314.5" width="1.9" height="2.5" rx="0.5" fill="#6e682e" opacity="0.85"/>
<rect x="127.6" y="314.6" width="2.0" height="2.5" rx="0.5" fill="#6e682e" opacity="0.85"/>
<rect x="130.5" y="314.5" width="1.9" height="2.5" rx="0.5" fill="#6e682e" opacity="0.85"/>
<rect x="133.2" y="314.1" width="1.6" height="2.5" rx="0.5" fill="#6e682e" opacity="0.85"/>
<rect x="135.4" y="313.6" width="1.1" height="2.5" rx="0.5" fill="#6e682e" opacity="0.85"/>
<rect x="137.0" y="312.9" width="0.6" height="2.5" rx="0.5" fill="#6e682e" opacity="0.85"/>
<rect x="119.0" y="317.1" width="0.6" height="2.5" rx="0.5" fill="#6e682e" opacity="0.85"/>
<rect x="120.1" y="317.8" width="1.2" height="2.5" rx="0.5" fill="#6e682e" opacity="0.85"/>
<rect x="122.0" y="318.4" width="1.7" height="2.5" rx="0.5" fill="#6e682e" opacity="0.85"/>
<rect x="124.6" y="318.8" width="2.0" height="2.5" rx="0.5" fill="#6e682e" opacity="0.85"/>
<rect x="127.6" y="318.9" width="2.1" height="2.5" rx="0.5" fill="#6e682e" opacity="0.85"/>
<rect x="130.6" y="318.8" width="2.0" height="2.5" rx="0.5" fill="#6e682e" opacity="0.85"/>
<rect x="133.5" y="318.4" width="1.7" height="2.5" rx="0.5" fill="#6e682e" opacity="0.85"/>
<rect x="135.9" y="317.8" width="1.2" height="2.5" rx="0.5" fill="#6e682e" opacity="0.85"/>
<rect x="137.6" y="317.1" width="0.6" height="2.5" rx="0.5" fill="#6e682e" opacity="0.85"/>
<rect x="118.3" y="321.3" width="0.7" height="2.5" rx="0.5" fill="#6e682e" opacity="0.85"/>
<rect x="119.5" y="322.1" width="1.3" height="2.5" rx="0.5" fill="#6e682e" opacity="0.85"/>
<rect x="121.6" y="322.7" width="1.8" height="2.5" rx="0.5" fill="#6e682e" opacity="0.85"/>
<rect x="124.3" y="323.1" width="2.1" height="2.5" rx="0.5" fill="#6e682e" opacity="0.85"/>
<rect x="127.5" y="323.2" width="2.2" height="2.5" rx="0.5" fill="#6e682e" opacity="0.85"/>
<rect x="130.8" y="323.1" width="2.1" height="2.5" rx="0.5" fill="#6e682e" opacity="0.85"/>
<rect x="133.8" y="322.7" width="1.8" height="2.5" rx="0.5" fill="#6e682e" opacity="0.85"/>
<rect x="136.4" y="322.1" width="1.3" height="2.5" rx="0.5" fill="#6e682e" opacity="0.85"/>
<rect x="138.2" y="321.3" width="0.7" height="2.5" rx="0.5" fill="#6e682e" opacity="0.85"/>
<rect x="117.7" y="325.5" width="0.7" height="2.5" rx="0.5" fill="#6e682e" opacity="0.85"/>
<rect x="118.9" y="326.3" width="1.4" height="2.5" rx="0.5" fill="#6e682e" opacity="0.85"/>
<rect x="121.1" y="327.0" width="1.9" height="2.5" rx="0.5" fill="#6e682e" opacity="0.85"/>
<rect x="124.0" y="327.4" width="2.3" height="2.5" rx="0.5" fill="#6e682e" opacity="0.85"/>
<rect x="127.4" y="327.6" width="2.4" height="2.5" rx="0.5" fill="#6e682e" opacity="0.85"/>
<rect x="130.9" y="327.4" width="2.3" height="2.5" rx="0.5" fill="#6e682e" opacity="0.85"/>
<rect x="134.2" y="327.0" width="1.9" height="2.5" rx="0.5" fill="#6e682e" opacity="0.85"/>
<rect x="136.9" y="326.3" width="1.4" height="2.5" rx="0.5" fill="#6e682e" opacity="0.85"/>
<rect x="138.8" y="325.5" width="0.7" height="2.5" rx="0.5" fill="#6e682e" opacity="0.85"/>
<rect x="117.1" y="329.7" width="0.8" height="2.5" rx="0.5" fill="#6e682e" opacity="0.85"/>
<rect x="118.4" y="330.6" width="1.5" height="2.5" rx="0.5" fill="#6e682e" opacity="0.85"/>
<rect x="120.7" y="331.3" width="2.0" height="2.5" rx="0.5" fill="#6e682e" opacity="0.85"/>
<rect x="123.8" y="331.7" width="2.4" height="2.5" rx="0.5" fill="#6e682e" opacity="0.85"/>
<rect x="127.3" y="331.9" width="2.5" height="2.5" rx="0.5" fill="#6e682e" opacity="0.85"/>
<rect x="131.0" y="331.7" width="2.4" height="2.5" rx="0.5" fill="#6e682e" opacity="0.85"/>
<rect x="134.5" y="331.3" width="2.0" height="2.5" rx="0.5" fill="#6e682e" opacity="0.85"/>
<rect x="137.4" y="330.6" width="1.5" height="2.5" rx="0.5" fill="#6e682e" opacity="0.85"/>
<rect x="139.4" y="329.7" width="0.8" height="2.5" rx="0.5" fill="#6e682e" opacity="0.85"/>
<rect x="116.4" y="333.9" width="0.8" height="2.5" rx="0.5" fill="#6e682e" opacity="0.85"/>
<rect x="117.8" y="334.8" width="1.5" height="2.5" rx="0.5" fill="#6e682e" opacity="0.85"/>
<rect x="120.3" y="335.6" width="2.1" height="2.5" rx="0.5" fill="#6e682e" opacity="0.85"/>
<rect x="123.5" y="336.1" width="2.5" height="2.5" rx="0.5" fill="#6e682e" opacity="0.85"/>
<rect x="127.3" y="336.2" width="2.6" height="2.5" rx="0.5" fill="#6e682e" opacity="0.85"/>
<rect x="131.2" y="336.1" width="2.5" height="2.5" rx="0.5" fill="#6e682e" opacity="0.85"/>
<rect x="134.8" y="335.6" width="2.1" height="2.5" rx="0.5" fill="#6e682e" opacity="0.85"/>
<rect x="137.8" y="334.8" width="1.5" height="2.5" rx="0.5" fill="#6e682e" opacity="0.85"/>
<rect x="139.9" y="333.9" width="0.8" height="2.5" rx="0.5" fill="#6e682e" opacity="0.85"/>
<rect x="115.8" y="338.1" width="0.8" height="2.5" rx="0.5" fill="#6e682e" opacity="0.85"/>
<rect x="117.3" y="339.1" width="1.6" height="2.5" rx="0.5" fill="#6e682e" opacity="0.85"/>
<rect x="119.8" y="339.9" width="2.2" height="2.5" rx="0.5" fill="#6e682e" opacity="0.85"/>
<rect x="123.3" y="340.4" width="2.6" height="2.5" rx="0.5" fill="#6e682e" opacity="0.85"/>
<rect x="127.2" y="340.5" width="2.8" height="2.5" rx="0.5" fill="#6e682e" opacity="0.85"/>
<rect x="131.3" y="340.4" width="2.6" height="2.5" rx="0.5" fill="#6e682e" opacity="0.85"/>
<rect x="135.1" y="339.9" width="2.2" height="2.5" rx="0.5" fill="#6e682e" opacity="0.85"/>
<rect x="138.3" y="339.1" width="1.6" height="2.5" rx="0.5" fill="#6e682e" opacity="0.85"/>
<rect x="140.5" y="338.1" width="0.8" height="2.5" rx="0.5" fill="#6e682e" opacity="0.85"/>
<rect x="115.2" y="342.3" width="0.9" height="2.5" rx="0.5" fill="#6e682e" opacity="0.85"/>
<rect x="116.7" y="343.3" width="1.7" height="2.5" rx="0.5" fill="#6e682e" opacity="0.85"/>
<rect x="119.4" y="344.2" width="2.4" height="2.5" rx="0.5" fill="#6e682e" opacity="0.85"/>
<rect x="123.0" y="344.7" width="2.8" height="2.5" rx="0.5" fill="#6e682e" opacity="0.85"/>
<rect x="127.1" y="344.9" width="2.9" height="2.5" rx="0.5" fill="#6e682e" opacity="0.85"/>
<rect x="131.4" y="344.7" width="2.8" height="2.5" rx="0.5" fill="#6e682e" opacity="0.85"/>
<rect x="135.5" y="344.2" width="2.4" height="2.5" rx="0.5" fill="#6e682e" opacity="0.85"/>
<rect x="138.8" y="343.3" width="1.7" height="2.5" rx="0.5" fill="#6e682e" opacity="0.85"/>
<rect x="141.1" y="342.3" width="0.9" height="2.5" rx="0.5" fill="#6e682e" opacity="0.85"/>
<rect x="114.6" y="346.5" width="0.9" height="2.5" rx="0.5" fill="#6e682e" opacity="0.85"/>
<rect x="116.1" y="347.6" width="1.8" height="2.5" rx="0.5" fill="#6e682e" opacity="0.85"/>
<rect x="119.0" y="348.5" width="2.5" height="2.5" rx="0.5" fill="#6e682e" opacity="0.85"/>
<rect x="122.7" y="349.0" width="2.9" height="2.5" rx="0.5" fill="#6e682e" opacity="0.85"/>
<rect x="127.1" y="349.2" width="3.1" height="2.5" rx="0.5" fill="#6e682e" opacity="0.85"/>
<rect x="131.6" y="349.0" width="2.9" height="2.5" rx="0.5" fill="#6e682e" opacity="0.85"/>
<rect x="135.8" y="348.5" width="2.5" height="2.5" rx="0.5" fill="#6e682e" opacity="0.85"/>
<rect x="139.3" y="347.6" width="1.8" height="2.5" rx="0.5" fill="#6e682e" opacity="0.85"/>
<rect x="141.7" y="346.5" width="0.9" height="2.5" rx="0.5" fill="#6e682e" opacity="0.85"/>
<rect x="113.9" y="350.7" width="1.0" height="2.5" rx="0.5" fill="#6e682e" opacity="0.85"/>
<rect x="115.6" y="351.9" width="1.9" height="2.5" rx="0.5" fill="#6e682e" opacity="0.85"/>
<rect x="118.5" y="352.7" width="2.6" height="2.5" rx="0.5" fill="#6e682e" opacity="0.85"/>
<rect x="122.5" y="353.3" width="3.0" height="2.5" rx="0.5" fill="#6e682e" opacity="0.85"/>
<rect x="127.0" y="353.5" width="3.2" height="2.5" rx="0.5" fill="#6e682e" opacity="0.85"/>
<rect x="131.7" y="353.3" width="3.0" height="2.5" rx="0.5" fill="#6e682e" opacity="0.85"/>
<rect x="136.1" y="352.7" width="2.6" height="2.5" rx="0.5" fill="#6e682e" opacity="0.85"/>
<rect x="139.7" y="351.9" width="1.9" height="2.5" rx="0.5" fill="#6e682e" opacity="0.85"/>
<rect x="142.3" y="350.7" width="1.0" height="2.5" rx="0.5" fill="#6e682e" opacity="0.85"/>
<rect x="113.3" y="354.9" width="1.0" height="2.5" rx="0.5" fill="#6e682e" opacity="0.85"/>
<rect x="115.0" y="356.1" width="1.9" height="2.5" rx="0.5" fill="#6e682e" opacity="0.85"/>
<rect x="118.1" y="357.0" width="2.7" height="2.5" rx="0.5" fill="#6e682e" opacity="0.85"/>
<rect x="122.2" y="357.6" width="3.2" height="2.5" rx="0.5" fill="#6e682e" opacity="0.85"/>
<rect x="126.9" y="357.8" width="3.3" height="2.5" rx="0.5" fill="#6e682e" opacity="0.85"/>
<rect x="131.8" y="357.6" width="3.2" height="2.5" rx="0.5" fill="#6e682e" opacity="0.85"/>
<rect x="136.4" y="357.0" width="2.7" height="2.5" rx="0.5" fill="#6e682e" opacity="0.85"/>
<rect x="140.2" y="356.1" width="1.9" height="2.5" rx="0.5" fill="#6e682e" opacity="0.85"/>
<rect x="142.9" y="354.9" width="1.0" height="2.5" rx="0.5" fill="#6e682e" opacity="0.85"/>
<ellipse cx="128.6" cy="290.3" rx="5.6" ry="1.7" fill="#f7e696"/>
</g>
<linearGradient id="cg6" x1="0" x2="1" y1="0" y2="0"><stop offset="0" stop-color="#4589cf"/><stop offset="0.3" stop-color="#75b1f0"/><stop offset="0.6" stop-color="#4f9cec"/><stop offset="1" stop-color="#3870a9"/></linearGradient>
<g opacity="1.0">
<path d="M159.1 294.0 L148.6 364.5 A16.6 5.0 0 0 0 181.8 364.5 L171.3 294.0 A6.1 1.8 0 0 0 159.1 294.0Z" fill="url(#cg6)"/>
<rect x="158.8" y="295.6" width="0.4" height="2.6" rx="0.5" fill="#274f98" opacity="0.85"/>
<rect x="159.6" y="296.1" width="0.8" height="2.6" rx="0.5" fill="#274f98" opacity="0.85"/>
<rect x="160.8" y="296.5" width="1.1" height="2.6" rx="0.5" fill="#274f98" opacity="0.85"/>
<rect x="162.5" y="296.8" width="1.3" height="2.6" rx="0.5" fill="#274f98" opacity="0.85"/>
<rect x="164.5" y="296.8" width="1.4" height="2.6" rx="0.5" fill="#274f98" opacity="0.85"/>
<rect x="166.5" y="296.8" width="1.3" height="2.6" rx="0.5" fill="#274f98" opacity="0.85"/>
<rect x="168.4" y="296.5" width="1.1" height="2.6" rx="0.5" fill="#274f98" opacity="0.85"/>
<rect x="170.0" y="296.1" width="0.8" height="2.6" rx="0.5" fill="#274f98" opacity="0.85"/>
<rect x="171.1" y="295.6" width="0.4" height="2.6" rx="0.5" fill="#274f98" opacity="0.85"/>
<rect x="158.2" y="300.0" width="0.5" height="2.6" rx="0.5" fill="#274f98" opacity="0.85"/>
<rect x="159.0" y="300.5" width="0.9" height="2.6" rx="0.5" fill="#274f98" opacity="0.85"/>
<rect x="160.4" y="301.0" width="1.2" height="2.6" rx="0.5" fill="#274f98" opacity="0.85"/>
<rect x="162.3" y="301.2" width="1.4" height="2.6" rx="0.5" fill="#274f98" opacity="0.85"/>
<rect x="164.4" y="301.3" width="1.5" height="2.6" rx="0.5" fill="#274f98" opacity="0.85"/>
<rect x="166.7" y="301.2" width="1.4" height="2.6" rx="0.5" fill="#274f98" opacity="0.85"/>
<rect x="168.8" y="301.0" width="1.2" height="2.6" rx="0.5" fill="#274f98" opacity="0.85"/>
<rect x="170.5" y="300.5" width="0.9" height="2.6" rx="0.5" fill="#274f98" opacity="0.85"/>
<rect x="171.7" y="300.0" width="0.5" height="2.6" rx="0.5" fill="#274f98" opacity="0.85"/>
<rect x="157.6" y="304.4" width="0.5" height="2.6" rx="0.5" fill="#274f98" opacity="0.85"/>
<rect x="158.4" y="305.0" width="1.0" height="2.6" rx="0.5" fill="#274f98" opacity="0.85"/>
<rect x="160.0" y="305.4" width="1.3" height="2.6" rx="0.5" fill="#274f98" opacity="0.85"/>
<rect x="162.0" y="305.7" width="1.6" height="2.6" rx="0.5" fill="#274f98" opacity="0.85"/>
<rect x="164.4" y="305.8" width="1.7" height="2.6" rx="0.5" fill="#274f98" opacity="0.85"/>
<rect x="166.8" y="305.7" width="1.6" height="2.6" rx="0.5" fill="#274f98" opacity="0.85"/>
<rect x="169.1" y="305.4" width="1.3" height="2.6" rx="0.5" fill="#274f98" opacity="0.85"/>
<rect x="171.0" y="305.0" width="1.0" height="2.6" rx="0.5" fill="#274f98" opacity="0.85"/>
<rect x="172.3" y="304.4" width="0.5" height="2.6" rx="0.5" fill="#274f98" opacity="0.85"/>
<rect x="156.9" y="308.8" width="0.5" height="2.6" rx="0.5" fill="#274f98" opacity="0.85"/>
<rect x="157.9" y="309.4" width="1.1" height="2.6" rx="0.5" fill="#274f98" opacity="0.85"/>
<rect x="159.5" y="309.9" width="1.5" height="2.6" rx="0.5" fill="#274f98" opacity="0.85"/>
<rect x="161.7" y="310.2" width="1.7" height="2.6" rx="0.5" fill="#274f98" opacity="0.85"/>
<rect x="164.3" y="310.3" width="1.8" height="2.6" rx="0.5" fill="#274f98" opacity="0.85"/>
<rect x="166.9" y="310.2" width="1.7" height="2.6" rx="0.5" fill="#274f98" opacity="0.85"/>
<rect x="169.4" y="309.9" width="1.5" height="2.6" rx="0.5" fill="#274f98" opacity="0.85"/>
<rect x="171.5" y="309.4" width="1.1" height="2.6" rx="0.5" fill="#274f98" opacity="0.85"/>
<rect x="172.9" y="308.8" width="0.5" height="2.6" rx="0.5" fill="#274f98" opacity="0.85"/>
<rect x="156.3" y="313.1" width="0.6" height="2.6" rx="0.5" fill="#274f98" opacity="0.85"/>
<rect x="157.3" y="313.8" width="1.1" height="2.6" rx="0.5" fill="#274f98" opacity="0.85"/>
<rect x="159.1" y="314.4" width="1.6" height="2.6" rx="0.5" fill="#274f98" opacity="0.85"/>
<rect x="161.5" y="314.7" width="1.8" height="2.6" rx="0.5" fill="#274f98" opacity="0.85"/>
<rect x="164.2" y="314.8" width="1.9" height="2.6" rx="0.5" fill="#274f98" opacity="0.85"/>
<rect x="167.1" y="314.7" width="1.8" height="2.6" rx="0.5" fill="#274f98" opacity="0.85"/>
<rect x="169.7" y="314.4" width="1.6" height="2.6" rx="0.5" fill="#274f98" opacity="0.85"/>
<rect x="172.0" y="313.8" width="1.1" height="2.6" rx="0.5" fill="#274f98" opacity="0.85"/>
<rect x="173.5" y="313.1" width="0.6" height="2.6" rx="0.5" fill="#274f98" opacity="0.85"/>
<rect x="155.7" y="317.5" width="0.6" height="2.6" rx="0.5" fill="#274f98" opacity="0.85"/>
<rect x="156.7" y="318.3" width="1.2" height="2.6" rx="0.5" fill="#274f98" opacity="0.85"/>
<rect x="158.7" y="318.8" width="1.7" height="2.6" rx="0.5" fill="#274f98" opacity="0.85"/>
<rect x="161.2" y="319.2" width="2.0" height="2.6" rx="0.5" fill="#274f98" opacity="0.85"/>
<rect x="164.2" y="319.3" width="2.1" height="2.6" rx="0.5" fill="#274f98" opacity="0.85"/>
<rect x="167.2" y="319.2" width="2.0" height="2.6" rx="0.5" fill="#274f98" opacity="0.85"/>
<rect x="170.1" y="318.8" width="1.7" height="2.6" rx="0.5" fill="#274f98" opacity="0.85"/>
<rect x="172.4" y="318.3" width="1.2" height="2.6" rx="0.5" fill="#274f98" opacity="0.85"/>
<rect x="174.1" y="317.5" width="0.6" height="2.6" rx="0.5" fill="#274f98" opacity="0.85"/>
<rect x="155.0" y="321.9" width="0.7" height="2.6" rx="0.5" fill="#274f98" opacity="0.85"/>
<rect x="156.2" y="322.7" width="1.3" height="2.6" rx="0.5" fill="#274f98" opacity="0.85"/>
<rect x="158.2" y="323.3" width="1.8" height="2.6" rx="0.5" fill="#274f98" opacity="0.85"/>
<rect x="160.9" y="323.7" width="2.1" height="2.6" rx="0.5" fill="#274f98" opacity="0.85"/>
<rect x="164.1" y="323.8" width="2.2" height="2.6" rx="0.5" fill="#274f98" opacity="0.85"/>
<rect x="167.4" y="323.7" width="2.1" height="2.6" rx="0.5" fill="#274f98" opacity="0.85"/>
<rect x="170.4" y="323.3" width="1.8" height="2.6" rx="0.5" fill="#274f98" opacity="0.85"/>
<rect x="172.9" y="322.7" width="1.3" height="2.6" rx="0.5" fill="#274f98" opacity="0.85"/>
<rect x="174.7" y="321.9" width="0.7" height="2.6" rx="0.5" fill="#274f98" opacity="0.85"/>
<rect x="154.4" y="326.3" width="0.7" height="2.6" rx="0.5" fill="#274f98" opacity="0.85"/>
<rect x="155.6" y="327.1" width="1.4" height="2.6" rx="0.5" fill="#274f98" opacity="0.85"/>
<rect x="157.8" y="327.8" width="1.9" height="2.6" rx="0.5" fill="#274f98" opacity="0.85"/>
<rect x="160.7" y="328.2" width="2.2" height="2.6" rx="0.5" fill="#274f98" opacity="0.85"/>
<rect x="164.0" y="328.3" width="2.4" height="2.6" rx="0.5" fill="#274f98" opacity="0.85"/>
<rect x="167.5" y="328.2" width="2.2" height="2.6" rx="0.5" fill="#274f98" opacity="0.85"/>
<rect x="170.7" y="327.8" width="1.9" height="2.6" rx="0.5" fill="#274f98" opacity="0.85"/>
<rect x="173.4" y="327.1" width="1.4" height="2.6" rx="0.5" fill="#274f98" opacity="0.85"/>
<rect x="175.3" y="326.3" width="0.7" height="2.6" rx="0.5" fill="#274f98" opacity="0.85"/>
<rect x="153.8" y="330.7" width="0.8" height="2.6" rx="0.5" fill="#274f98" opacity="0.85"/>
<rect x="155.1" y="331.5" width="1.5" height="2.6" rx="0.5" fill="#274f98" opacity="0.85"/>
<rect x="157.3" y="332.2" width="2.0" height="2.6" rx="0.5" fill="#274f98" opacity="0.85"/>
<rect x="160.4" y="332.7" width="2.4" height="2.6" rx="0.5" fill="#274f98" opacity="0.85"/>
<rect x="164.0" y="332.8" width="2.5" height="2.6" rx="0.5" fill="#274f98" opacity="0.85"/>
<rect x="167.6" y="332.7" width="2.4" height="2.6" rx="0.5" fill="#274f98" opacity="0.85"/>
<rect x="171.0" y="332.2" width="2.0" height="2.6" rx="0.5" fill="#274f98" opacity="0.85"/>
<rect x="173.9" y="331.5" width="1.5" height="2.6" rx="0.5" fill="#274f98" opacity="0.85"/>
<rect x="175.9" y="330.7" width="0.8" height="2.6" rx="0.5" fill="#274f98" opacity="0.85"/>
<rect x="153.1" y="335.0" width="0.8" height="2.6" rx="0.5" fill="#274f98" opacity="0.85"/>
<rect x="154.5" y="336.0" width="1.5" height="2.6" rx="0.5" fill="#274f98" opacity="0.85"/>
<rect x="156.9" y="336.7" width="2.1" height="2.6" rx="0.5" fill="#274f98" opacity="0.85"/>
<rect x="160.1" y="337.2" width="2.5" height="2.6" rx="0.5" fill="#274f98" opacity="0.85"/>
<rect x="163.9" y="337.3" width="2.6" height="2.6" rx="0.5" fill="#274f98" opacity="0.85"/>
<rect x="167.8" y="337.2" width="2.5" height="2.6" rx="0.5" fill="#274f98" opacity="0.85"/>
<rect x="171.4" y="336.7" width="2.1" height="2.6" rx="0.5" fill="#274f98" opacity="0.85"/>
<rect x="174.4" y="336.0" width="1.5" height="2.6" rx="0.5" fill="#274f98" opacity="0.85"/>
<rect x="176.5" y="335.0" width="0.8" height="2.6" rx="0.5" fill="#274f98" opacity="0.85"/>
<rect x="152.5" y="339.4" width="0.8" height="2.6" rx="0.5" fill="#274f98" opacity="0.85"/>
<rect x="153.9" y="340.4" width="1.6" height="2.6" rx="0.5" fill="#274f98" opacity="0.85"/>
<rect x="156.5" y="341.2" width="2.2" height="2.6" rx="0.5" fill="#274f98" opacity="0.85"/>
<rect x="159.9" y="341.7" width="2.6" height="2.6" rx="0.5" fill="#274f98" opacity="0.85"/>
<rect x="163.8" y="341.8" width="2.8" height="2.6" rx="0.5" fill="#274f98" opacity="0.85"/>
<rect x="167.9" y="341.7" width="2.6" height="2.6" rx="0.5" fill="#274f98" opacity="0.85"/>
<rect x="171.7" y="341.2" width="2.2" height="2.6" rx="0.5" fill="#274f98" opacity="0.85"/>
<rect x="174.9" y="340.4" width="1.6" height="2.6" rx="0.5" fill="#274f98" opacity="0.85"/>
<rect x="177.1" y="339.4" width="0.8" height="2.6" rx="0.5" fill="#274f98" opacity="0.85"/>
<rect x="151.9" y="343.8" width="0.9" height="2.6" rx="0.5" fill="#274f98" opacity="0.85"/>
<rect x="153.4" y="344.8" width="1.7" height="2.6" rx="0.5" fill="#274f98" opacity="0.85"/>
<rect x="156.0" y="345.6" width="2.3" height="2.6" rx="0.5" fill="#274f98" opacity="0.85"/>
<rect x="159.6" y="346.2" width="2.8" height="2.6" rx="0.5" fill="#274f98" opacity="0.85"/>
<rect x="163.7" y="346.3" width="2.9" height="2.6" rx="0.5" fill="#274f98" opacity="0.85"/>
<rect x="168.0" y="346.2" width="2.8" height="2.6" rx="0.5" fill="#274f98" opacity="0.85"/>
<rect x="172.0" y="345.6" width="2.3" height="2.6" rx="0.5" fill="#274f98" opacity="0.85"/>
<rect x="175.3" y="344.8" width="1.7" height="2.6" rx="0.5" fill="#274f98" opacity="0.85"/>
<rect x="177.7" y="343.8" width="0.9" height="2.6" rx="0.5" fill="#274f98" opacity="0.85"/>
<rect x="151.2" y="348.2" width="0.9" height="2.6" rx="0.5" fill="#274f98" opacity="0.85"/>
<rect x="152.8" y="349.2" width="1.8" height="2.6" rx="0.5" fill="#274f98" opacity="0.85"/>
<rect x="155.6" y="350.1" width="2.5" height="2.6" rx="0.5" fill="#274f98" opacity="0.85"/>
<rect x="159.4" y="350.6" width="2.9" height="2.6" rx="0.5" fill="#274f98" opacity="0.85"/>
<rect x="163.7" y="350.8" width="3.0" height="2.6" rx="0.5" fill="#274f98" opacity="0.85"/>
<rect x="168.2" y="350.6" width="2.9" height="2.6" rx="0.5" fill="#274f98" opacity="0.85"/>
<rect x="172.3" y="350.1" width="2.5" height="2.6" rx="0.5" fill="#274f98" opacity="0.85"/>
<rect x="175.8" y="349.2" width="1.8" height="2.6" rx="0.5" fill="#274f98" opacity="0.85"/>
<rect x="178.3" y="348.2" width="0.9" height="2.6" rx="0.5" fill="#274f98" opacity="0.85"/>
<rect x="150.6" y="352.5" width="1.0" height="2.6" rx="0.5" fill="#274f98" opacity="0.85"/>
<rect x="152.2" y="353.7" width="1.9" height="2.6" rx="0.5" fill="#274f98" opacity="0.85"/>
<rect x="155.2" y="354.6" width="2.6" height="2.6" rx="0.5" fill="#274f98" opacity="0.85"/>
<rect x="159.1" y="355.1" width="3.0" height="2.6" rx="0.5" fill="#274f98" opacity="0.85"/>
<rect x="163.6" y="355.3" width="3.2" height="2.6" rx="0.5" fill="#274f98" opacity="0.85"/>
<rect x="168.3" y="355.1" width="3.0" height="2.6" rx="0.5" fill="#274f98" opacity="0.85"/>
<rect x="172.7" y="354.6" width="2.6" height="2.6" rx="0.5" fill="#274f98" opacity="0.85"/>
<rect x="176.3" y="353.7" width="1.9" height="2.6" rx="0.5" fill="#274f98" opacity="0.85"/>
<rect x="178.8" y="352.5" width="1.0" height="2.6" rx="0.5" fill="#274f98" opacity="0.85"/>
<rect x="150.0" y="356.9" width="1.0" height="2.6" rx="0.5" fill="#274f98" opacity="0.85"/>
<rect x="151.7" y="358.1" width="1.9" height="2.6" rx="0.5" fill="#274f98" opacity="0.85"/>
<rect x="154.7" y="359.0" width="2.7" height="2.6" rx="0.5" fill="#274f98" opacity="0.85"/>
<rect x="158.8" y="359.6" width="3.2" height="2.6" rx="0.5" fill="#274f98" opacity="0.85"/>
<rect x="163.5" y="359.8" width="3.3" height="2.6" rx="0.5" fill="#274f98" opacity="0.85"/>
<rect x="168.4" y="359.6" width="3.2" height="2.6" rx="0.5" fill="#274f98" opacity="0.85"/>
<rect x="173.0" y="359.0" width="2.7" height="2.6" rx="0.5" fill="#274f98" opacity="0.85"/>
<rect x="176.8" y="358.1" width="1.9" height="2.6" rx="0.5" fill="#274f98" opacity="0.85"/>
<rect x="179.4" y="356.9" width="1.0" height="2.6" rx="0.5" fill="#274f98" opacity="0.85"/>
<rect x="149.3" y="361.3" width="1.1" height="2.6" rx="0.5" fill="#274f98" opacity="0.85"/>
<rect x="151.1" y="362.5" width="2.0" height="2.6" rx="0.5" fill="#274f98" opacity="0.85"/>
<rect x="154.3" y="363.5" width="2.8" height="2.6" rx="0.5" fill="#274f98" opacity="0.85"/>
<rect x="158.6" y="364.1" width="3.3" height="2.6" rx="0.5" fill="#274f98" opacity="0.85"/>
<rect x="163.5" y="364.3" width="3.5" height="2.6" rx="0.5" fill="#274f98" opacity="0.85"/>
<rect x="168.6" y="364.1" width="3.3" height="2.6" rx="0.5" fill="#274f98" opacity="0.85"/>
<rect x="173.3" y="363.5" width="2.8" height="2.6" rx="0.5" fill="#274f98" opacity="0.85"/>
<rect x="177.3" y="362.5" width="2.0" height="2.6" rx="0.5" fill="#274f98" opacity="0.85"/>
<rect x="180.0" y="361.3" width="1.1" height="2.6" rx="0.5" fill="#274f98" opacity="0.85"/>
<ellipse cx="165.2" cy="294.0" rx="6.1" ry="1.8" fill="#8cbef2"/>
</g>
<path d="M139.6 276 L147.4 275 L149 301 L138 301Z" fill="#8ec2f4" opacity="0.8"/>
<path d="M141.6 271 L145.2 270.5 L146.4 294 L141.2 294Z" fill="#c0dcfa" opacity="0.9"/>
<path d="M136.5 290 L139.5 286 L140.5 296Z" fill="#9ccaf6" opacity="0.8"/><path d="M150.5 289 L148 285 L147.4 296Z" fill="#9ccaf6" opacity="0.8"/>
<ellipse cx="143.5" cy="298.5" rx="8.4" ry="3.2" fill="none" stroke="#64a8ee" stroke-width="2" opacity="0.9"/>
<linearGradient id="cg7" x1="0" x2="1" y1="0" y2="0"><stop offset="0" stop-color="#81b872"/><stop offset="0.3" stop-color="#aadb9d"/><stop offset="0.6" stop-color="#93d282"/><stop offset="1" stop-color="#69975d"/></linearGradient>
<g opacity="1.0">
<path d="M65.0 293.2 L52.6 360.5 A18.0 5.4 0 0 0 88.6 360.5 L76.2 293.2 A5.6 1.7 0 0 0 65.0 293.2Z" fill="url(#cg7)"/>
<rect x="64.7" y="294.7" width="0.4" height="2.4" rx="0.5" fill="#2f6a4a" opacity="0.85"/>
<rect x="65.3" y="295.2" width="0.8" height="2.4" rx="0.5" fill="#2f6a4a" opacity="0.85"/>
<rect x="66.5" y="295.6" width="1.0" height="2.4" rx="0.5" fill="#2f6a4a" opacity="0.85"/>
<rect x="68.1" y="295.8" width="1.2" height="2.4" rx="0.5" fill="#2f6a4a" opacity="0.85"/>
<rect x="70.0" y="295.9" width="1.3" height="2.4" rx="0.5" fill="#2f6a4a" opacity="0.85"/>
<rect x="71.9" y="295.8" width="1.2" height="2.4" rx="0.5" fill="#2f6a4a" opacity="0.85"/>
<rect x="73.6" y="295.6" width="1.0" height="2.4" rx="0.5" fill="#2f6a4a" opacity="0.85"/>
<rect x="75.1" y="295.2" width="0.8" height="2.4" rx="0.5" fill="#2f6a4a" opacity="0.85"/>
<rect x="76.1" y="294.7" width="0.4" height="2.4" rx="0.5" fill="#2f6a4a" opacity="0.85"/>
<rect x="63.9" y="298.9" width="0.4" height="2.4" rx="0.5" fill="#2f6a4a" opacity="0.85"/>
<rect x="64.7" y="299.4" width="0.9" height="2.4" rx="0.5" fill="#2f6a4a" opacity="0.85"/>
<rect x="66.0" y="299.9" width="1.2" height="2.4" rx="0.5" fill="#2f6a4a" opacity="0.85"/>
<rect x="67.8" y="300.1" width="1.4" height="2.4" rx="0.5" fill="#2f6a4a" opacity="0.85"/>
<rect x="69.9" y="300.2" width="1.5" height="2.4" rx="0.5" fill="#2f6a4a" opacity="0.85"/>
<rect x="72.0" y="300.1" width="1.4" height="2.4" rx="0.5" fill="#2f6a4a" opacity="0.85"/>
<rect x="74.0" y="299.9" width="1.2" height="2.4" rx="0.5" fill="#2f6a4a" opacity="0.85"/>
<rect x="75.7" y="299.4" width="0.9" height="2.4" rx="0.5" fill="#2f6a4a" opacity="0.85"/>
<rect x="76.8" y="298.9" width="0.4" height="2.4" rx="0.5" fill="#2f6a4a" opacity="0.85"/>
<rect x="63.2" y="303.1" width="0.5" height="2.4" rx="0.5" fill="#2f6a4a" opacity="0.85"/>
<rect x="64.0" y="303.7" width="0.9" height="2.4" rx="0.5" fill="#2f6a4a" opacity="0.85"/>
<rect x="65.5" y="304.2" width="1.3" height="2.4" rx="0.5" fill="#2f6a4a" opacity="0.85"/>
<rect x="67.5" y="304.4" width="1.5" height="2.4" rx="0.5" fill="#2f6a4a" opacity="0.85"/>
<rect x="69.8" y="304.5" width="1.6" height="2.4" rx="0.5" fill="#2f6a4a" opacity="0.85"/>
<rect x="72.2" y="304.4" width="1.5" height="2.4" rx="0.5" fill="#2f6a4a" opacity="0.85"/>
<rect x="74.4" y="304.2" width="1.3" height="2.4" rx="0.5" fill="#2f6a4a" opacity="0.85"/>
<rect x="76.2" y="303.7" width="0.9" height="2.4" rx="0.5" fill="#2f6a4a" opacity="0.85"/>
<rect x="77.5" y="303.1" width="0.5" height="2.4" rx="0.5" fill="#2f6a4a" opacity="0.85"/>
<rect x="62.4" y="307.3" width="0.5" height="2.4" rx="0.5" fill="#2f6a4a" opacity="0.85"/>
<rect x="63.3" y="307.9" width="1.0" height="2.4" rx="0.5" fill="#2f6a4a" opacity="0.85"/>
<rect x="65.0" y="308.4" width="1.4" height="2.4" rx="0.5" fill="#2f6a4a" opacity="0.85"/>
<rect x="67.2" y="308.8" width="1.7" height="2.4" rx="0.5" fill="#2f6a4a" opacity="0.85"/>
<rect x="69.7" y="308.9" width="1.8" height="2.4" rx="0.5" fill="#2f6a4a" opacity="0.85"/>
<rect x="72.3" y="308.8" width="1.7" height="2.4" rx="0.5" fill="#2f6a4a" opacity="0.85"/>
<rect x="74.8" y="308.4" width="1.4" height="2.4" rx="0.5" fill="#2f6a4a" opacity="0.85"/>
<rect x="76.8" y="307.9" width="1.0" height="2.4" rx="0.5" fill="#2f6a4a" opacity="0.85"/>
<rect x="78.2" y="307.3" width="0.5" height="2.4" rx="0.5" fill="#2f6a4a" opacity="0.85"/>
<rect x="61.7" y="311.5" width="0.6" height="2.4" rx="0.5" fill="#2f6a4a" opacity="0.85"/>
<rect x="62.7" y="312.2" width="1.1" height="2.4" rx="0.5" fill="#2f6a4a" opacity="0.85"/>
<rect x="64.5" y="312.7" width="1.6" height="2.4" rx="0.5" fill="#2f6a4a" opacity="0.85"/>
<rect x="66.9" y="313.1" width="1.8" height="2.4" rx="0.5" fill="#2f6a4a" opacity="0.85"/>
<rect x="69.6" y="313.2" width="1.9" height="2.4" rx="0.5" fill="#2f6a4a" opacity="0.85"/>
<rect x="72.5" y="313.1" width="1.8" height="2.4" rx="0.5" fill="#2f6a4a" opacity="0.85"/>
<rect x="75.2" y="312.7" width="1.6" height="2.4" rx="0.5" fill="#2f6a4a" opacity="0.85"/>
<rect x="77.4" y="312.2" width="1.1" height="2.4" rx="0.5" fill="#2f6a4a" opacity="0.85"/>
<rect x="78.9" y="311.5" width="0.6" height="2.4" rx="0.5" fill="#2f6a4a" opacity="0.85"/>
<rect x="60.9" y="315.7" width="0.6" height="2.4" rx="0.5" fill="#2f6a4a" opacity="0.85"/>
<rect x="62.0" y="316.4" width="1.2" height="2.4" rx="0.5" fill="#2f6a4a" opacity="0.85"/>
<rect x="64.0" y="317.0" width="1.7" height="2.4" rx="0.5" fill="#2f6a4a" opacity="0.85"/>
<rect x="66.5" y="317.4" width="2.0" height="2.4" rx="0.5" fill="#2f6a4a" opacity="0.85"/>
<rect x="69.5" y="317.5" width="2.1" height="2.4" rx="0.5" fill="#2f6a4a" opacity="0.85"/>
<rect x="72.6" y="317.4" width="2.0" height="2.4" rx="0.5" fill="#2f6a4a" opacity="0.85"/>
<rect x="75.5" y="317.0" width="1.7" height="2.4" rx="0.5" fill="#2f6a4a" opacity="0.85"/>
<rect x="78.0" y="316.4" width="1.2" height="2.4" rx="0.5" fill="#2f6a4a" opacity="0.85"/>
<rect x="79.6" y="315.7" width="0.6" height="2.4" rx="0.5" fill="#2f6a4a" opacity="0.85"/>
<rect x="60.2" y="319.9" width="0.7" height="2.4" rx="0.5" fill="#2f6a4a" opacity="0.85"/>
<rect x="61.3" y="320.7" width="1.3" height="2.4" rx="0.5" fill="#2f6a4a" opacity="0.85"/>
<rect x="63.4" y="321.3" width="1.8" height="2.4" rx="0.5" fill="#2f6a4a" opacity="0.85"/>
<rect x="66.2" y="321.7" width="2.2" height="2.4" rx="0.5" fill="#2f6a4a" opacity="0.85"/>
<rect x="69.5" y="321.9" width="2.3" height="2.4" rx="0.5" fill="#2f6a4a" opacity="0.85"/>
<rect x="72.8" y="321.7" width="2.2" height="2.4" rx="0.5" fill="#2f6a4a" opacity="0.85"/>
<rect x="75.9" y="321.3" width="1.8" height="2.4" rx="0.5" fill="#2f6a4a" opacity="0.85"/>
<rect x="78.5" y="320.7" width="1.3" height="2.4" rx="0.5" fill="#2f6a4a" opacity="0.85"/>
<rect x="80.3" y="319.9" width="0.7" height="2.4" rx="0.5" fill="#2f6a4a" opacity="0.85"/>
<rect x="59.4" y="324.1" width="0.7" height="2.4" rx="0.5" fill="#2f6a4a" opacity="0.85"/>
<rect x="60.7" y="324.9" width="1.4" height="2.4" rx="0.5" fill="#2f6a4a" opacity="0.85"/>
<rect x="62.9" y="325.6" width="2.0" height="2.4" rx="0.5" fill="#2f6a4a" opacity="0.85"/>
<rect x="65.9" y="326.1" width="2.3" height="2.4" rx="0.5" fill="#2f6a4a" opacity="0.85"/>
<rect x="69.4" y="326.2" width="2.4" height="2.4" rx="0.5" fill="#2f6a4a" opacity="0.85"/>
<rect x="73.0" y="326.1" width="2.3" height="2.4" rx="0.5" fill="#2f6a4a" opacity="0.85"/>
<rect x="76.3" y="325.6" width="2.0" height="2.4" rx="0.5" fill="#2f6a4a" opacity="0.85"/>
<rect x="79.1" y="324.9" width="1.4" height="2.4" rx="0.5" fill="#2f6a4a" opacity="0.85"/>
<rect x="81.0" y="324.1" width="0.7" height="2.4" rx="0.5" fill="#2f6a4a" opacity="0.85"/>
<rect x="58.7" y="328.3" width="0.8" height="2.4" rx="0.5" fill="#2f6a4a" opacity="0.85"/>
<rect x="60.0" y="329.2" width="1.5" height="2.4" rx="0.5" fill="#2f6a4a" opacity="0.85"/>
<rect x="62.4" y="329.9" width="2.1" height="2.4" rx="0.5" fill="#2f6a4a" opacity="0.85"/>
<rect x="65.6" y="330.4" width="2.5" height="2.4" rx="0.5" fill="#2f6a4a" opacity="0.85"/>
<rect x="69.3" y="330.5" width="2.6" height="2.4" rx="0.5" fill="#2f6a4a" opacity="0.85"/>
<rect x="73.1" y="330.4" width="2.5" height="2.4" rx="0.5" fill="#2f6a4a" opacity="0.85"/>
<rect x="76.7" y="329.9" width="2.1" height="2.4" rx="0.5" fill="#2f6a4a" opacity="0.85"/>
<rect x="79.7" y="329.2" width="1.5" height="2.4" rx="0.5" fill="#2f6a4a" opacity="0.85"/>
<rect x="81.7" y="328.3" width="0.8" height="2.4" rx="0.5" fill="#2f6a4a" opacity="0.85"/>
<rect x="57.9" y="332.5" width="0.8" height="2.4" rx="0.5" fill="#2f6a4a" opacity="0.85"/>
<rect x="59.4" y="333.4" width="1.6" height="2.4" rx="0.5" fill="#2f6a4a" opacity="0.85"/>
<rect x="61.9" y="334.2" width="2.2" height="2.4" rx="0.5" fill="#2f6a4a" opacity="0.85"/>
<rect x="65.3" y="334.7" width="2.6" height="2.4" rx="0.5" fill="#2f6a4a" opacity="0.85"/>
<rect x="69.2" y="334.9" width="2.8" height="2.4" rx="0.5" fill="#2f6a4a" opacity="0.85"/>
<rect x="73.3" y="334.7" width="2.6" height="2.4" rx="0.5" fill="#2f6a4a" opacity="0.85"/>
<rect x="77.1" y="334.2" width="2.2" height="2.4" rx="0.5" fill="#2f6a4a" opacity="0.85"/>
<rect x="80.2" y="333.4" width="1.6" height="2.4" rx="0.5" fill="#2f6a4a" opacity="0.85"/>
<rect x="82.4" y="332.5" width="0.8" height="2.4" rx="0.5" fill="#2f6a4a" opacity="0.85"/>
<rect x="57.2" y="336.7" width="0.9" height="2.4" rx="0.5" fill="#2f6a4a" opacity="0.85"/>
<rect x="58.7" y="337.7" width="1.7" height="2.4" rx="0.5" fill="#2f6a4a" opacity="0.85"/>
<rect x="61.4" y="338.5" width="2.4" height="2.4" rx="0.5" fill="#2f6a4a" opacity="0.85"/>
<rect x="65.0" y="339.0" width="2.8" height="2.4" rx="0.5" fill="#2f6a4a" opacity="0.85"/>
<rect x="69.1" y="339.2" width="2.9" height="2.4" rx="0.5" fill="#2f6a4a" opacity="0.85"/>
<rect x="73.4" y="339.0" width="2.8" height="2.4" rx="0.5" fill="#2f6a4a" opacity="0.85"/>
<rect x="77.5" y="338.5" width="2.4" height="2.4" rx="0.5" fill="#2f6a4a" opacity="0.85"/>
<rect x="80.8" y="337.7" width="1.7" height="2.4" rx="0.5" fill="#2f6a4a" opacity="0.85"/>
<rect x="83.1" y="336.7" width="0.9" height="2.4" rx="0.5" fill="#2f6a4a" opacity="0.85"/>
<rect x="56.4" y="340.8" width="0.9" height="2.4" rx="0.5" fill="#2f6a4a" opacity="0.85"/>
<rect x="58.0" y="341.9" width="1.8" height="2.4" rx="0.5" fill="#2f6a4a" opacity="0.85"/>
<rect x="60.9" y="342.8" width="2.5" height="2.4" rx="0.5" fill="#2f6a4a" opacity="0.85"/>
<rect x="64.7" y="343.4" width="2.9" height="2.4" rx="0.5" fill="#2f6a4a" opacity="0.85"/>
<rect x="69.1" y="343.6" width="3.1" height="2.4" rx="0.5" fill="#2f6a4a" opacity="0.85"/>
<rect x="73.6" y="343.4" width="2.9" height="2.4" rx="0.5" fill="#2f6a4a" opacity="0.85"/>
<rect x="77.8" y="342.8" width="2.5" height="2.4" rx="0.5" fill="#2f6a4a" opacity="0.85"/>
<rect x="81.4" y="341.9" width="1.8" height="2.4" rx="0.5" fill="#2f6a4a" opacity="0.85"/>
<rect x="83.8" y="340.8" width="0.9" height="2.4" rx="0.5" fill="#2f6a4a" opacity="0.85"/>
<rect x="55.7" y="345.0" width="1.0" height="2.4" rx="0.5" fill="#2f6a4a" opacity="0.85"/>
<rect x="57.4" y="346.2" width="1.9" height="2.4" rx="0.5" fill="#2f6a4a" opacity="0.85"/>
<rect x="60.4" y="347.1" width="2.6" height="2.4" rx="0.5" fill="#2f6a4a" opacity="0.85"/>
<rect x="64.4" y="347.7" width="3.1" height="2.4" rx="0.5" fill="#2f6a4a" opacity="0.85"/>
<rect x="69.0" y="347.9" width="3.3" height="2.4" rx="0.5" fill="#2f6a4a" opacity="0.85"/>
<rect x="73.8" y="347.7" width="3.1" height="2.4" rx="0.5" fill="#2f6a4a" opacity="0.85"/>
<rect x="78.2" y="347.1" width="2.6" height="2.4" rx="0.5" fill="#2f6a4a" opacity="0.85"/>
<rect x="81.9" y="346.2" width="1.9" height="2.4" rx="0.5" fill="#2f6a4a" opacity="0.85"/>
<rect x="84.5" y="345.0" width="1.0" height="2.4" rx="0.5" fill="#2f6a4a" opacity="0.85"/>
<rect x="54.9" y="349.2" width="1.0" height="2.4" rx="0.5" fill="#2f6a4a" opacity="0.85"/>
<rect x="56.7" y="350.4" width="2.0" height="2.4" rx="0.5" fill="#2f6a4a" opacity="0.85"/>
<rect x="59.8" y="351.4" width="2.8" height="2.4" rx="0.5" fill="#2f6a4a" opacity="0.85"/>
<rect x="64.0" y="352.0" width="3.2" height="2.4" rx="0.5" fill="#2f6a4a" opacity="0.85"/>
<rect x="68.9" y="352.2" width="3.4" height="2.4" rx="0.5" fill="#2f6a4a" opacity="0.85"/>
<rect x="73.9" y="352.0" width="3.2" height="2.4" rx="0.5" fill="#2f6a4a" opacity="0.85"/>
<rect x="78.6" y="351.4" width="2.8" height="2.4" rx="0.5" fill="#2f6a4a" opacity="0.85"/>
<rect x="82.5" y="350.4" width="2.0" height="2.4" rx="0.5" fill="#2f6a4a" opacity="0.85"/>
<rect x="85.2" y="349.2" width="1.0" height="2.4" rx="0.5" fill="#2f6a4a" opacity="0.85"/>
<rect x="54.2" y="353.4" width="1.1" height="2.4" rx="0.5" fill="#2f6a4a" opacity="0.85"/>
<rect x="56.0" y="354.7" width="2.1" height="2.4" rx="0.5" fill="#2f6a4a" opacity="0.85"/>
<rect x="59.3" y="355.7" width="2.9" height="2.4" rx="0.5" fill="#2f6a4a" opacity="0.85"/>
<rect x="63.7" y="356.3" width="3.4" height="2.4" rx="0.5" fill="#2f6a4a" opacity="0.85"/>
<rect x="68.8" y="356.6" width="3.6" height="2.4" rx="0.5" fill="#2f6a4a" opacity="0.85"/>
<rect x="74.1" y="356.3" width="3.4" height="2.4" rx="0.5" fill="#2f6a4a" opacity="0.85"/>
<rect x="79.0" y="355.7" width="2.9" height="2.4" rx="0.5" fill="#2f6a4a" opacity="0.85"/>
<rect x="83.1" y="354.7" width="2.1" height="2.4" rx="0.5" fill="#2f6a4a" opacity="0.85"/>
<rect x="85.9" y="353.4" width="1.1" height="2.4" rx="0.5" fill="#2f6a4a" opacity="0.85"/>
<rect x="53.4" y="357.6" width="1.1" height="2.4" rx="0.5" fill="#2f6a4a" opacity="0.85"/>
<rect x="55.4" y="358.9" width="2.2" height="2.4" rx="0.5" fill="#2f6a4a" opacity="0.85"/>
<rect x="58.8" y="360.0" width="3.0" height="2.4" rx="0.5" fill="#2f6a4a" opacity="0.85"/>
<rect x="63.4" y="360.7" width="3.6" height="2.4" rx="0.5" fill="#2f6a4a" opacity="0.85"/>
<rect x="68.7" y="360.9" width="3.7" height="2.4" rx="0.5" fill="#2f6a4a" opacity="0.85"/>
<rect x="74.2" y="360.7" width="3.6" height="2.4" rx="0.5" fill="#2f6a4a" opacity="0.85"/>
<rect x="79.4" y="360.0" width="3.0" height="2.4" rx="0.5" fill="#2f6a4a" opacity="0.85"/>
<rect x="83.7" y="358.9" width="2.2" height="2.4" rx="0.5" fill="#2f6a4a" opacity="0.85"/>
<rect x="86.6" y="357.6" width="1.1" height="2.4" rx="0.5" fill="#2f6a4a" opacity="0.85"/>
<ellipse cx="70.6" cy="293.2" rx="5.6" ry="1.7" fill="#b8e1ad"/>
</g>
<linearGradient id="cg8" x1="0" x2="1" y1="0" y2="0"><stop offset="0" stop-color="#d5be52"/><stop offset="0.3" stop-color="#f5e181"/><stop offset="0.6" stop-color="#f3d95e"/><stop offset="1" stop-color="#ae9c43"/></linearGradient>
<g opacity="1.0">
<path d="M99.3 297.2 L88.3 368.0 A16.9 5.1 0 0 0 122.1 368.0 L111.1 297.2 A5.9 1.8 0 0 0 99.3 297.2Z" fill="url(#cg8)"/>
<rect x="99.0" y="298.8" width="0.4" height="2.6" rx="0.5" fill="#6e682e" opacity="0.85"/>
<rect x="99.7" y="299.3" width="0.8" height="2.6" rx="0.5" fill="#6e682e" opacity="0.85"/>
<rect x="101.0" y="299.7" width="1.1" height="2.6" rx="0.5" fill="#6e682e" opacity="0.85"/>
<rect x="102.6" y="299.9" width="1.3" height="2.6" rx="0.5" fill="#6e682e" opacity="0.85"/>
<rect x="104.5" y="300.0" width="1.3" height="2.6" rx="0.5" fill="#6e682e" opacity="0.85"/>
<rect x="106.5" y="299.9" width="1.3" height="2.6" rx="0.5" fill="#6e682e" opacity="0.85"/>
<rect x="108.4" y="299.7" width="1.1" height="2.6" rx="0.5" fill="#6e682e" opacity="0.85"/>
<rect x="109.9" y="299.3" width="0.8" height="2.6" rx="0.5" fill="#6e682e" opacity="0.85"/>
<rect x="111.0" y="298.8" width="0.4" height="2.6" rx="0.5" fill="#6e682e" opacity="0.85"/>
<rect x="98.4" y="303.2" width="0.5" height="2.6" rx="0.5" fill="#6e682e" opacity="0.85"/>
<rect x="99.1" y="303.7" width="0.9" height="2.6" rx="0.5" fill="#6e682e" opacity="0.85"/>
<rect x="100.5" y="304.2" width="1.2" height="2.6" rx="0.5" fill="#6e682e" opacity="0.85"/>
<rect x="102.3" y="304.4" width="1.4" height="2.6" rx="0.5" fill="#6e682e" opacity="0.85"/>
<rect x="104.5" y="304.5" width="1.5" height="2.6" rx="0.5" fill="#6e682e" opacity="0.85"/>
<rect x="106.6" y="304.4" width="1.4" height="2.6" rx="0.5" fill="#6e682e" opacity="0.85"/>
<rect x="108.7" y="304.2" width="1.2" height="2.6" rx="0.5" fill="#6e682e" opacity="0.85"/>
<rect x="110.4" y="303.7" width="0.9" height="2.6" rx="0.5" fill="#6e682e" opacity="0.85"/>
<rect x="111.6" y="303.2" width="0.5" height="2.6" rx="0.5" fill="#6e682e" opacity="0.85"/>
<rect x="97.7" y="307.6" width="0.5" height="2.6" rx="0.5" fill="#6e682e" opacity="0.85"/>
<rect x="98.5" y="308.2" width="1.0" height="2.6" rx="0.5" fill="#6e682e" opacity="0.85"/>
<rect x="100.0" y="308.7" width="1.3" height="2.6" rx="0.5" fill="#6e682e" opacity="0.85"/>
<rect x="102.1" y="308.9" width="1.6" height="2.6" rx="0.5" fill="#6e682e" opacity="0.85"/>
<rect x="104.4" y="309.1" width="1.6" height="2.6" rx="0.5" fill="#6e682e" opacity="0.85"/>
<rect x="106.8" y="308.9" width="1.6" height="2.6" rx="0.5" fill="#6e682e" opacity="0.85"/>
<rect x="109.0" y="308.7" width="1.3" height="2.6" rx="0.5" fill="#6e682e" opacity="0.85"/>
<rect x="110.9" y="308.2" width="1.0" height="2.6" rx="0.5" fill="#6e682e" opacity="0.85"/>
<rect x="112.2" y="307.6" width="0.5" height="2.6" rx="0.5" fill="#6e682e" opacity="0.85"/>
<rect x="97.0" y="312.0" width="0.5" height="2.6" rx="0.5" fill="#6e682e" opacity="0.85"/>
<rect x="97.9" y="312.6" width="1.0" height="2.6" rx="0.5" fill="#6e682e" opacity="0.85"/>
<rect x="99.6" y="313.1" width="1.4" height="2.6" rx="0.5" fill="#6e682e" opacity="0.85"/>
<rect x="101.8" y="313.5" width="1.7" height="2.6" rx="0.5" fill="#6e682e" opacity="0.85"/>
<rect x="104.3" y="313.6" width="1.8" height="2.6" rx="0.5" fill="#6e682e" opacity="0.85"/>
<rect x="106.9" y="313.5" width="1.7" height="2.6" rx="0.5" fill="#6e682e" opacity="0.85"/>
<rect x="109.4" y="313.1" width="1.4" height="2.6" rx="0.5" fill="#6e682e" opacity="0.85"/>
<rect x="111.4" y="312.6" width="1.0" height="2.6" rx="0.5" fill="#6e682e" opacity="0.85"/>
<rect x="112.8" y="312.0" width="0.5" height="2.6" rx="0.5" fill="#6e682e" opacity="0.85"/>
<rect x="96.4" y="316.4" width="0.6" height="2.6" rx="0.5" fill="#6e682e" opacity="0.85"/>
<rect x="97.4" y="317.1" width="1.1" height="2.6" rx="0.5" fill="#6e682e" opacity="0.85"/>
<rect x="99.1" y="317.6" width="1.6" height="2.6" rx="0.5" fill="#6e682e" opacity="0.85"/>
<rect x="101.5" y="318.0" width="1.8" height="2.6" rx="0.5" fill="#6e682e" opacity="0.85"/>
<rect x="104.2" y="318.1" width="1.9" height="2.6" rx="0.5" fill="#6e682e" opacity="0.85"/>
<rect x="107.1" y="318.0" width="1.8" height="2.6" rx="0.5" fill="#6e682e" opacity="0.85"/>
<rect x="109.7" y="317.6" width="1.6" height="2.6" rx="0.5" fill="#6e682e" opacity="0.85"/>
<rect x="111.9" y="317.1" width="1.1" height="2.6" rx="0.5" fill="#6e682e" opacity="0.85"/>
<rect x="113.5" y="316.4" width="0.6" height="2.6" rx="0.5" fill="#6e682e" opacity="0.85"/>
<rect x="95.7" y="320.8" width="0.6" height="2.6" rx="0.5" fill="#6e682e" opacity="0.85"/>
<rect x="96.8" y="321.5" width="1.2" height="2.6" rx="0.5" fill="#6e682e" opacity="0.85"/>
<rect x="98.7" y="322.1" width="1.7" height="2.6" rx="0.5" fill="#6e682e" opacity="0.85"/>
<rect x="101.2" y="322.5" width="2.0" height="2.6" rx="0.5" fill="#6e682e" opacity="0.85"/>
<rect x="104.2" y="322.6" width="2.1" height="2.6" rx="0.5" fill="#6e682e" opacity="0.85"/>
<rect x="107.2" y="322.5" width="2.0" height="2.6" rx="0.5" fill="#6e682e" opacity="0.85"/>
<rect x="110.1" y="322.1" width="1.7" height="2.6" rx="0.5" fill="#6e682e" opacity="0.85"/>
<rect x="112.4" y="321.5" width="1.2" height="2.6" rx="0.5" fill="#6e682e" opacity="0.85"/>
<rect x="114.1" y="320.8" width="0.6" height="2.6" rx="0.5" fill="#6e682e" opacity="0.85"/>
<rect x="95.0" y="325.2" width="0.7" height="2.6" rx="0.5" fill="#6e682e" opacity="0.85"/>
<rect x="96.2" y="326.0" width="1.3" height="2.6" rx="0.5" fill="#6e682e" opacity="0.85"/>
<rect x="98.2" y="326.6" width="1.8" height="2.6" rx="0.5" fill="#6e682e" opacity="0.85"/>
<rect x="100.9" y="327.0" width="2.1" height="2.6" rx="0.5" fill="#6e682e" opacity="0.85"/>
<rect x="104.1" y="327.2" width="2.2" height="2.6" rx="0.5" fill="#6e682e" opacity="0.85"/>
<rect x="107.4" y="327.0" width="2.1" height="2.6" rx="0.5" fill="#6e682e" opacity="0.85"/>
<rect x="110.4" y="326.6" width="1.8" height="2.6" rx="0.5" fill="#6e682e" opacity="0.85"/>
<rect x="112.9" y="326.0" width="1.3" height="2.6" rx="0.5" fill="#6e682e" opacity="0.85"/>
<rect x="114.7" y="325.2" width="0.7" height="2.6" rx="0.5" fill="#6e682e" opacity="0.85"/>
<rect x="94.4" y="329.6" width="0.7" height="2.6" rx="0.5" fill="#6e682e" opacity="0.85"/>
<rect x="95.6" y="330.4" width="1.4" height="2.6" rx="0.5" fill="#6e682e" opacity="0.85"/>
<rect x="97.8" y="331.1" width="1.9" height="2.6" rx="0.5" fill="#6e682e" opacity="0.85"/>
<rect x="100.7" y="331.5" width="2.2" height="2.6" rx="0.5" fill="#6e682e" opacity="0.85"/>
<rect x="104.0" y="331.7" width="2.4" height="2.6" rx="0.5" fill="#6e682e" opacity="0.85"/>
<rect x="107.5" y="331.5" width="2.2" height="2.6" rx="0.5" fill="#6e682e" opacity="0.85"/>
<rect x="110.7" y="331.1" width="1.9" height="2.6" rx="0.5" fill="#6e682e" opacity="0.85"/>
<rect x="113.4" y="330.4" width="1.4" height="2.6" rx="0.5" fill="#6e682e" opacity="0.85"/>
<rect x="115.3" y="329.6" width="0.7" height="2.6" rx="0.5" fill="#6e682e" opacity="0.85"/>
<rect x="93.7" y="334.0" width="0.8" height="2.6" rx="0.5" fill="#6e682e" opacity="0.85"/>
<rect x="95.0" y="334.9" width="1.5" height="2.6" rx="0.5" fill="#6e682e" opacity="0.85"/>
<rect x="97.3" y="335.6" width="2.0" height="2.6" rx="0.5" fill="#6e682e" opacity="0.85"/>
<rect x="100.4" y="336.0" width="2.4" height="2.6" rx="0.5" fill="#6e682e" opacity="0.85"/>
<rect x="103.9" y="336.2" width="2.5" height="2.6" rx="0.5" fill="#6e682e" opacity="0.85"/>
<rect x="107.6" y="336.0" width="2.4" height="2.6" rx="0.5" fill="#6e682e" opacity="0.85"/>
<rect x="111.1" y="335.6" width="2.0" height="2.6" rx="0.5" fill="#6e682e" opacity="0.85"/>
<rect x="113.9" y="334.9" width="1.5" height="2.6" rx="0.5" fill="#6e682e" opacity="0.85"/>
<rect x="115.9" y="334.0" width="0.8" height="2.6" rx="0.5" fill="#6e682e" opacity="0.85"/>
<rect x="93.0" y="338.4" width="0.8" height="2.6" rx="0.5" fill="#6e682e" opacity="0.85"/>
<rect x="94.4" y="339.3" width="1.5" height="2.6" rx="0.5" fill="#6e682e" opacity="0.85"/>
<rect x="96.8" y="340.1" width="2.1" height="2.6" rx="0.5" fill="#6e682e" opacity="0.85"/>
<rect x="100.1" y="340.6" width="2.5" height="2.6" rx="0.5" fill="#6e682e" opacity="0.85"/>
<rect x="103.9" y="340.7" width="2.6" height="2.6" rx="0.5" fill="#6e682e" opacity="0.85"/>
<rect x="107.8" y="340.6" width="2.5" height="2.6" rx="0.5" fill="#6e682e" opacity="0.85"/>
<rect x="111.4" y="340.1" width="2.1" height="2.6" rx="0.5" fill="#6e682e" opacity="0.85"/>
<rect x="114.4" y="339.3" width="1.5" height="2.6" rx="0.5" fill="#6e682e" opacity="0.85"/>
<rect x="116.6" y="338.4" width="0.8" height="2.6" rx="0.5" fill="#6e682e" opacity="0.85"/>
<rect x="92.4" y="342.8" width="0.8" height="2.6" rx="0.5" fill="#6e682e" opacity="0.85"/>
<rect x="93.8" y="343.8" width="1.6" height="2.6" rx="0.5" fill="#6e682e" opacity="0.85"/>
<rect x="96.4" y="344.6" width="2.3" height="2.6" rx="0.5" fill="#6e682e" opacity="0.85"/>
<rect x="99.8" y="345.1" width="2.7" height="2.6" rx="0.5" fill="#6e682e" opacity="0.85"/>
<rect x="103.8" y="345.3" width="2.8" height="2.6" rx="0.5" fill="#6e682e" opacity="0.85"/>
<rect x="107.9" y="345.1" width="2.7" height="2.6" rx="0.5" fill="#6e682e" opacity="0.85"/>
<rect x="111.8" y="344.6" width="2.3" height="2.6" rx="0.5" fill="#6e682e" opacity="0.85"/>
<rect x="114.9" y="343.8" width="1.6" height="2.6" rx="0.5" fill="#6e682e" opacity="0.85"/>
<rect x="117.2" y="342.8" width="0.8" height="2.6" rx="0.5" fill="#6e682e" opacity="0.85"/>
<rect x="91.7" y="347.2" width="0.9" height="2.6" rx="0.5" fill="#6e682e" opacity="0.85"/>
<rect x="93.2" y="348.2" width="1.7" height="2.6" rx="0.5" fill="#6e682e" opacity="0.85"/>
<rect x="95.9" y="349.1" width="2.4" height="2.6" rx="0.5" fill="#6e682e" opacity="0.85"/>
<rect x="99.6" y="349.6" width="2.8" height="2.6" rx="0.5" fill="#6e682e" opacity="0.85"/>
<rect x="103.7" y="349.8" width="2.9" height="2.6" rx="0.5" fill="#6e682e" opacity="0.85"/>
<rect x="108.1" y="349.6" width="2.8" height="2.6" rx="0.5" fill="#6e682e" opacity="0.85"/>
<rect x="112.1" y="349.1" width="2.4" height="2.6" rx="0.5" fill="#6e682e" opacity="0.85"/>
<rect x="115.5" y="348.2" width="1.7" height="2.6" rx="0.5" fill="#6e682e" opacity="0.85"/>
<rect x="117.8" y="347.2" width="0.9" height="2.6" rx="0.5" fill="#6e682e" opacity="0.85"/>
<rect x="91.0" y="351.6" width="0.9" height="2.6" rx="0.5" fill="#6e682e" opacity="0.85"/>
<rect x="92.6" y="352.7" width="1.8" height="2.6" rx="0.5" fill="#6e682e" opacity="0.85"/>
<rect x="95.5" y="353.6" width="2.5" height="2.6" rx="0.5" fill="#6e682e" opacity="0.85"/>
<rect x="99.3" y="354.1" width="2.9" height="2.6" rx="0.5" fill="#6e682e" opacity="0.85"/>
<rect x="103.7" y="354.3" width="3.1" height="2.6" rx="0.5" fill="#6e682e" opacity="0.85"/>
<rect x="108.2" y="354.1" width="2.9" height="2.6" rx="0.5" fill="#6e682e" opacity="0.85"/>
<rect x="112.4" y="353.6" width="2.5" height="2.6" rx="0.5" fill="#6e682e" opacity="0.85"/>
<rect x="116.0" y="352.7" width="1.8" height="2.6" rx="0.5" fill="#6e682e" opacity="0.85"/>
<rect x="118.4" y="351.6" width="0.9" height="2.6" rx="0.5" fill="#6e682e" opacity="0.85"/>
<rect x="90.4" y="356.0" width="1.0" height="2.6" rx="0.5" fill="#6e682e" opacity="0.85"/>
<rect x="92.0" y="357.1" width="1.9" height="2.6" rx="0.5" fill="#6e682e" opacity="0.85"/>
<rect x="95.0" y="358.1" width="2.6" height="2.6" rx="0.5" fill="#6e682e" opacity="0.85"/>
<rect x="99.0" y="358.6" width="3.1" height="2.6" rx="0.5" fill="#6e682e" opacity="0.85"/>
<rect x="103.6" y="358.8" width="3.2" height="2.6" rx="0.5" fill="#6e682e" opacity="0.85"/>
<rect x="108.3" y="358.6" width="3.1" height="2.6" rx="0.5" fill="#6e682e" opacity="0.85"/>
<rect x="112.8" y="358.1" width="2.6" height="2.6" rx="0.5" fill="#6e682e" opacity="0.85"/>
<rect x="116.5" y="357.1" width="1.9" height="2.6" rx="0.5" fill="#6e682e" opacity="0.85"/>
<rect x="119.0" y="356.0" width="1.0" height="2.6" rx="0.5" fill="#6e682e" opacity="0.85"/>
<rect x="89.7" y="360.4" width="1.0" height="2.6" rx="0.5" fill="#6e682e" opacity="0.85"/>
<rect x="91.5" y="361.6" width="2.0" height="2.6" rx="0.5" fill="#6e682e" opacity="0.85"/>
<rect x="94.6" y="362.5" width="2.7" height="2.6" rx="0.5" fill="#6e682e" opacity="0.85"/>
<rect x="98.7" y="363.2" width="3.2" height="2.6" rx="0.5" fill="#6e682e" opacity="0.85"/>
<rect x="103.5" y="363.4" width="3.4" height="2.6" rx="0.5" fill="#6e682e" opacity="0.85"/>
<rect x="108.5" y="363.2" width="3.2" height="2.6" rx="0.5" fill="#6e682e" opacity="0.85"/>
<rect x="113.1" y="362.5" width="2.7" height="2.6" rx="0.5" fill="#6e682e" opacity="0.85"/>
<rect x="117.0" y="361.6" width="2.0" height="2.6" rx="0.5" fill="#6e682e" opacity="0.85"/>
<rect x="119.7" y="360.4" width="1.0" height="2.6" rx="0.5" fill="#6e682e" opacity="0.85"/>
<rect x="89.0" y="364.8" width="1.1" height="2.6" rx="0.5" fill="#6e682e" opacity="0.85"/>
<rect x="90.9" y="366.0" width="2.1" height="2.6" rx="0.5" fill="#6e682e" opacity="0.85"/>
<rect x="94.1" y="367.0" width="2.8" height="2.6" rx="0.5" fill="#6e682e" opacity="0.85"/>
<rect x="98.4" y="367.7" width="3.3" height="2.6" rx="0.5" fill="#6e682e" opacity="0.85"/>
<rect x="103.4" y="367.9" width="3.5" height="2.6" rx="0.5" fill="#6e682e" opacity="0.85"/>
<rect x="108.6" y="367.7" width="3.3" height="2.6" rx="0.5" fill="#6e682e" opacity="0.85"/>
<rect x="113.5" y="367.0" width="2.8" height="2.6" rx="0.5" fill="#6e682e" opacity="0.85"/>
<rect x="117.5" y="366.0" width="2.1" height="2.6" rx="0.5" fill="#6e682e" opacity="0.85"/>
<rect x="120.3" y="364.8" width="1.1" height="2.6" rx="0.5" fill="#6e682e" opacity="0.85"/>
<ellipse cx="105.2" cy="297.2" rx="5.9" ry="1.8" fill="#f7e696"/>
</g>
<linearGradient id="cg9" x1="0" x2="1" y1="0" y2="0"><stop offset="0" stop-color="#3489d4"/><stop offset="0.3" stop-color="#66b1f4"/><stop offset="0.6" stop-color="#3c9cf2"/><stop offset="1" stop-color="#2b70ae"/></linearGradient>
<g opacity="1.0">
<path d="M137.3 301.0 L123.6 377.5 A19.8 5.9 0 0 0 163.2 377.5 L149.5 301.0 A6.1 1.8 0 0 0 137.3 301.0Z" fill="url(#cg9)"/>
<rect x="136.9" y="302.7" width="0.4" height="2.8" rx="0.5" fill="#1f5aae" opacity="0.85"/>
<rect x="137.7" y="303.2" width="0.8" height="2.8" rx="0.5" fill="#1f5aae" opacity="0.85"/>
<rect x="139.0" y="303.6" width="1.1" height="2.8" rx="0.5" fill="#1f5aae" opacity="0.85"/>
<rect x="140.7" y="303.9" width="1.3" height="2.8" rx="0.5" fill="#1f5aae" opacity="0.85"/>
<rect x="142.7" y="304.0" width="1.4" height="2.8" rx="0.5" fill="#1f5aae" opacity="0.85"/>
<rect x="144.8" y="303.9" width="1.3" height="2.8" rx="0.5" fill="#1f5aae" opacity="0.85"/>
<rect x="146.7" y="303.6" width="1.1" height="2.8" rx="0.5" fill="#1f5aae" opacity="0.85"/>
<rect x="148.3" y="303.2" width="0.8" height="2.8" rx="0.5" fill="#1f5aae" opacity="0.85"/>
<rect x="149.4" y="302.7" width="0.4" height="2.8" rx="0.5" fill="#1f5aae" opacity="0.85"/>
<rect x="136.1" y="307.5" width="0.5" height="2.8" rx="0.5" fill="#1f5aae" opacity="0.85"/>
<rect x="136.9" y="308.1" width="0.9" height="2.8" rx="0.5" fill="#1f5aae" opacity="0.85"/>
<rect x="138.4" y="308.5" width="1.3" height="2.8" rx="0.5" fill="#1f5aae" opacity="0.85"/>
<rect x="140.3" y="308.8" width="1.5" height="2.8" rx="0.5" fill="#1f5aae" opacity="0.85"/>
<rect x="142.6" y="308.9" width="1.6" height="2.8" rx="0.5" fill="#1f5aae" opacity="0.85"/>
<rect x="144.9" y="308.8" width="1.5" height="2.8" rx="0.5" fill="#1f5aae" opacity="0.85"/>
<rect x="147.1" y="308.5" width="1.3" height="2.8" rx="0.5" fill="#1f5aae" opacity="0.85"/>
<rect x="148.9" y="308.1" width="0.9" height="2.8" rx="0.5" fill="#1f5aae" opacity="0.85"/>
<rect x="150.2" y="307.5" width="0.5" height="2.8" rx="0.5" fill="#1f5aae" opacity="0.85"/>
<rect x="135.3" y="312.3" width="0.5" height="2.8" rx="0.5" fill="#1f5aae" opacity="0.85"/>
<rect x="136.2" y="312.9" width="1.0" height="2.8" rx="0.5" fill="#1f5aae" opacity="0.85"/>
<rect x="137.8" y="313.4" width="1.4" height="2.8" rx="0.5" fill="#1f5aae" opacity="0.85"/>
<rect x="140.0" y="313.7" width="1.7" height="2.8" rx="0.5" fill="#1f5aae" opacity="0.85"/>
<rect x="142.5" y="313.8" width="1.8" height="2.8" rx="0.5" fill="#1f5aae" opacity="0.85"/>
<rect x="145.1" y="313.7" width="1.7" height="2.8" rx="0.5" fill="#1f5aae" opacity="0.85"/>
<rect x="147.5" y="313.4" width="1.4" height="2.8" rx="0.5" fill="#1f5aae" opacity="0.85"/>
<rect x="149.6" y="312.9" width="1.0" height="2.8" rx="0.5" fill="#1f5aae" opacity="0.85"/>
<rect x="151.0" y="312.3" width="0.5" height="2.8" rx="0.5" fill="#1f5aae" opacity="0.85"/>
<rect x="134.4" y="317.0" width="0.6" height="2.8" rx="0.5" fill="#1f5aae" opacity="0.85"/>
<rect x="135.5" y="317.7" width="1.1" height="2.8" rx="0.5" fill="#1f5aae" opacity="0.85"/>
<rect x="137.3" y="318.3" width="1.6" height="2.8" rx="0.5" fill="#1f5aae" opacity="0.85"/>
<rect x="139.7" y="318.6" width="1.9" height="2.8" rx="0.5" fill="#1f5aae" opacity="0.85"/>
<rect x="142.4" y="318.7" width="1.9" height="2.8" rx="0.5" fill="#1f5aae" opacity="0.85"/>
<rect x="145.3" y="318.6" width="1.9" height="2.8" rx="0.5" fill="#1f5aae" opacity="0.85"/>
<rect x="148.0" y="318.3" width="1.6" height="2.8" rx="0.5" fill="#1f5aae" opacity="0.85"/>
<rect x="150.2" y="317.7" width="1.1" height="2.8" rx="0.5" fill="#1f5aae" opacity="0.85"/>
<rect x="151.8" y="317.0" width="0.6" height="2.8" rx="0.5" fill="#1f5aae" opacity="0.85"/>
<rect x="133.6" y="321.8" width="0.6" height="2.8" rx="0.5" fill="#1f5aae" opacity="0.85"/>
<rect x="134.7" y="322.5" width="1.2" height="2.8" rx="0.5" fill="#1f5aae" opacity="0.85"/>
<rect x="136.7" y="323.1" width="1.7" height="2.8" rx="0.5" fill="#1f5aae" opacity="0.85"/>
<rect x="139.3" y="323.5" width="2.0" height="2.8" rx="0.5" fill="#1f5aae" opacity="0.85"/>
<rect x="142.3" y="323.6" width="2.1" height="2.8" rx="0.5" fill="#1f5aae" opacity="0.85"/>
<rect x="145.5" y="323.5" width="2.0" height="2.8" rx="0.5" fill="#1f5aae" opacity="0.85"/>
<rect x="148.4" y="323.1" width="1.7" height="2.8" rx="0.5" fill="#1f5aae" opacity="0.85"/>
<rect x="150.8" y="322.5" width="1.2" height="2.8" rx="0.5" fill="#1f5aae" opacity="0.85"/>
<rect x="152.5" y="321.8" width="0.6" height="2.8" rx="0.5" fill="#1f5aae" opacity="0.85"/>
<rect x="132.8" y="326.5" width="0.7" height="2.8" rx="0.5" fill="#1f5aae" opacity="0.85"/>
<rect x="134.0" y="327.4" width="1.3" height="2.8" rx="0.5" fill="#1f5aae" opacity="0.85"/>
<rect x="136.1" y="328.0" width="1.9" height="2.8" rx="0.5" fill="#1f5aae" opacity="0.85"/>
<rect x="139.0" y="328.4" width="2.2" height="2.8" rx="0.5" fill="#1f5aae" opacity="0.85"/>
<rect x="142.2" y="328.6" width="2.3" height="2.8" rx="0.5" fill="#1f5aae" opacity="0.85"/>
<rect x="145.6" y="328.4" width="2.2" height="2.8" rx="0.5" fill="#1f5aae" opacity="0.85"/>
<rect x="148.8" y="328.0" width="1.9" height="2.8" rx="0.5" fill="#1f5aae" opacity="0.85"/>
<rect x="151.5" y="327.4" width="1.3" height="2.8" rx="0.5" fill="#1f5aae" opacity="0.85"/>
<rect x="153.3" y="326.5" width="0.7" height="2.8" rx="0.5" fill="#1f5aae" opacity="0.85"/>
<rect x="132.0" y="331.3" width="0.8" height="2.8" rx="0.5" fill="#1f5aae" opacity="0.85"/>
<rect x="133.3" y="332.2" width="1.5" height="2.8" rx="0.5" fill="#1f5aae" opacity="0.85"/>
<rect x="135.5" y="332.9" width="2.0" height="2.8" rx="0.5" fill="#1f5aae" opacity="0.85"/>
<rect x="138.6" y="333.3" width="2.4" height="2.8" rx="0.5" fill="#1f5aae" opacity="0.85"/>
<rect x="142.2" y="333.5" width="2.5" height="2.8" rx="0.5" fill="#1f5aae" opacity="0.85"/>
<rect x="145.8" y="333.3" width="2.4" height="2.8" rx="0.5" fill="#1f5aae" opacity="0.85"/>
<rect x="149.2" y="332.9" width="2.0" height="2.8" rx="0.5" fill="#1f5aae" opacity="0.85"/>
<rect x="152.1" y="332.2" width="1.5" height="2.8" rx="0.5" fill="#1f5aae" opacity="0.85"/>
<rect x="154.1" y="331.3" width="0.8" height="2.8" rx="0.5" fill="#1f5aae" opacity="0.85"/>
<rect x="131.1" y="336.1" width="0.8" height="2.8" rx="0.5" fill="#1f5aae" opacity="0.85"/>
<rect x="132.5" y="337.0" width="1.6" height="2.8" rx="0.5" fill="#1f5aae" opacity="0.85"/>
<rect x="135.0" y="337.8" width="2.2" height="2.8" rx="0.5" fill="#1f5aae" opacity="0.85"/>
<rect x="138.3" y="338.2" width="2.5" height="2.8" rx="0.5" fill="#1f5aae" opacity="0.85"/>
<rect x="142.1" y="338.4" width="2.7" height="2.8" rx="0.5" fill="#1f5aae" opacity="0.85"/>
<rect x="146.0" y="338.2" width="2.5" height="2.8" rx="0.5" fill="#1f5aae" opacity="0.85"/>
<rect x="149.7" y="337.8" width="2.2" height="2.8" rx="0.5" fill="#1f5aae" opacity="0.85"/>
<rect x="152.7" y="337.0" width="1.6" height="2.8" rx="0.5" fill="#1f5aae" opacity="0.85"/>
<rect x="154.9" y="336.1" width="0.8" height="2.8" rx="0.5" fill="#1f5aae" opacity="0.85"/>
<rect x="130.3" y="340.8" width="0.9" height="2.8" rx="0.5" fill="#1f5aae" opacity="0.85"/>
<rect x="131.8" y="341.8" width="1.7" height="2.8" rx="0.5" fill="#1f5aae" opacity="0.85"/>
<rect x="134.4" y="342.6" width="2.3" height="2.8" rx="0.5" fill="#1f5aae" opacity="0.85"/>
<rect x="137.9" y="343.2" width="2.7" height="2.8" rx="0.5" fill="#1f5aae" opacity="0.85"/>
<rect x="142.0" y="343.3" width="2.9" height="2.8" rx="0.5" fill="#1f5aae" opacity="0.85"/>
<rect x="146.2" y="343.2" width="2.7" height="2.8" rx="0.5" fill="#1f5aae" opacity="0.85"/>
<rect x="150.1" y="342.6" width="2.3" height="2.8" rx="0.5" fill="#1f5aae" opacity="0.85"/>
<rect x="153.3" y="341.8" width="1.7" height="2.8" rx="0.5" fill="#1f5aae" opacity="0.85"/>
<rect x="155.6" y="340.8" width="0.9" height="2.8" rx="0.5" fill="#1f5aae" opacity="0.85"/>
<rect x="129.5" y="345.6" width="0.9" height="2.8" rx="0.5" fill="#1f5aae" opacity="0.85"/>
<rect x="131.1" y="346.7" width="1.8" height="2.8" rx="0.5" fill="#1f5aae" opacity="0.85"/>
<rect x="133.8" y="347.5" width="2.4" height="2.8" rx="0.5" fill="#1f5aae" opacity="0.85"/>
<rect x="137.6" y="348.1" width="2.9" height="2.8" rx="0.5" fill="#1f5aae" opacity="0.85"/>
<rect x="141.9" y="348.2" width="3.0" height="2.8" rx="0.5" fill="#1f5aae" opacity="0.85"/>
<rect x="146.3" y="348.1" width="2.9" height="2.8" rx="0.5" fill="#1f5aae" opacity="0.85"/>
<rect x="150.5" y="347.5" width="2.4" height="2.8" rx="0.5" fill="#1f5aae" opacity="0.85"/>
<rect x="154.0" y="346.7" width="1.8" height="2.8" rx="0.5" fill="#1f5aae" opacity="0.85"/>
<rect x="156.4" y="345.6" width="0.9" height="2.8" rx="0.5" fill="#1f5aae" opacity="0.85"/>
<rect x="128.7" y="350.4" width="1.0" height="2.8" rx="0.5" fill="#1f5aae" opacity="0.85"/>
<rect x="130.3" y="351.5" width="1.9" height="2.8" rx="0.5" fill="#1f5aae" opacity="0.85"/>
<rect x="133.3" y="352.4" width="2.6" height="2.8" rx="0.5" fill="#1f5aae" opacity="0.85"/>
<rect x="137.2" y="353.0" width="3.1" height="2.8" rx="0.5" fill="#1f5aae" opacity="0.85"/>
<rect x="141.8" y="353.2" width="3.2" height="2.8" rx="0.5" fill="#1f5aae" opacity="0.85"/>
<rect x="146.5" y="353.0" width="3.1" height="2.8" rx="0.5" fill="#1f5aae" opacity="0.85"/>
<rect x="150.9" y="352.4" width="2.6" height="2.8" rx="0.5" fill="#1f5aae" opacity="0.85"/>
<rect x="154.6" y="351.5" width="1.9" height="2.8" rx="0.5" fill="#1f5aae" opacity="0.85"/>
<rect x="157.2" y="350.4" width="1.0" height="2.8" rx="0.5" fill="#1f5aae" opacity="0.85"/>
<rect x="127.8" y="355.1" width="1.0" height="2.8" rx="0.5" fill="#1f5aae" opacity="0.85"/>
<rect x="129.6" y="356.3" width="2.0" height="2.8" rx="0.5" fill="#1f5aae" opacity="0.85"/>
<rect x="132.7" y="357.3" width="2.7" height="2.8" rx="0.5" fill="#1f5aae" opacity="0.85"/>
<rect x="136.9" y="357.9" width="3.2" height="2.8" rx="0.5" fill="#1f5aae" opacity="0.85"/>
<rect x="141.7" y="358.1" width="3.4" height="2.8" rx="0.5" fill="#1f5aae" opacity="0.85"/>
<rect x="146.7" y="357.9" width="3.2" height="2.8" rx="0.5" fill="#1f5aae" opacity="0.85"/>
<rect x="151.4" y="357.3" width="2.7" height="2.8" rx="0.5" fill="#1f5aae" opacity="0.85"/>
<rect x="155.2" y="356.3" width="2.0" height="2.8" rx="0.5" fill="#1f5aae" opacity="0.85"/>
<rect x="157.9" y="355.1" width="1.0" height="2.8" rx="0.5" fill="#1f5aae" opacity="0.85"/>
<rect x="127.0" y="359.9" width="1.1" height="2.8" rx="0.5" fill="#1f5aae" opacity="0.85"/>
<rect x="128.8" y="361.1" width="2.1" height="2.8" rx="0.5" fill="#1f5aae" opacity="0.85"/>
<rect x="132.1" y="362.1" width="2.9" height="2.8" rx="0.5" fill="#1f5aae" opacity="0.85"/>
<rect x="136.5" y="362.8" width="3.4" height="2.8" rx="0.5" fill="#1f5aae" opacity="0.85"/>
<rect x="141.6" y="363.0" width="3.6" height="2.8" rx="0.5" fill="#1f5aae" opacity="0.85"/>
<rect x="146.9" y="362.8" width="3.4" height="2.8" rx="0.5" fill="#1f5aae" opacity="0.85"/>
<rect x="151.8" y="362.1" width="2.9" height="2.8" rx="0.5" fill="#1f5aae" opacity="0.85"/>
<rect x="155.9" y="361.1" width="2.1" height="2.8" rx="0.5" fill="#1f5aae" opacity="0.85"/>
<rect x="158.7" y="359.9" width="1.1" height="2.8" rx="0.5" fill="#1f5aae" opacity="0.85"/>
<rect x="126.2" y="364.6" width="1.1" height="2.8" rx="0.5" fill="#1f5aae" opacity="0.85"/>
<rect x="128.1" y="366.0" width="2.2" height="2.8" rx="0.5" fill="#1f5aae" opacity="0.85"/>
<rect x="131.6" y="367.0" width="3.0" height="2.8" rx="0.5" fill="#1f5aae" opacity="0.85"/>
<rect x="136.2" y="367.7" width="3.6" height="2.8" rx="0.5" fill="#1f5aae" opacity="0.85"/>
<rect x="141.5" y="367.9" width="3.8" height="2.8" rx="0.5" fill="#1f5aae" opacity="0.85"/>
<rect x="147.0" y="367.7" width="3.6" height="2.8" rx="0.5" fill="#1f5aae" opacity="0.85"/>
<rect x="152.2" y="367.0" width="3.0" height="2.8" rx="0.5" fill="#1f5aae" opacity="0.85"/>
<rect x="156.5" y="366.0" width="2.2" height="2.8" rx="0.5" fill="#1f5aae" opacity="0.85"/>
<rect x="159.5" y="364.6" width="1.1" height="2.8" rx="0.5" fill="#1f5aae" opacity="0.85"/>
<rect x="125.3" y="369.4" width="1.2" height="2.8" rx="0.5" fill="#1f5aae" opacity="0.85"/>
<rect x="127.4" y="370.8" width="2.3" height="2.8" rx="0.5" fill="#1f5aae" opacity="0.85"/>
<rect x="131.0" y="371.9" width="3.2" height="2.8" rx="0.5" fill="#1f5aae" opacity="0.85"/>
<rect x="135.8" y="372.6" width="3.7" height="2.8" rx="0.5" fill="#1f5aae" opacity="0.85"/>
<rect x="141.4" y="372.8" width="3.9" height="2.8" rx="0.5" fill="#1f5aae" opacity="0.85"/>
<rect x="147.2" y="372.6" width="3.7" height="2.8" rx="0.5" fill="#1f5aae" opacity="0.85"/>
<rect x="152.6" y="371.9" width="3.2" height="2.8" rx="0.5" fill="#1f5aae" opacity="0.85"/>
<rect x="157.1" y="370.8" width="2.3" height="2.8" rx="0.5" fill="#1f5aae" opacity="0.85"/>
<rect x="160.3" y="369.4" width="1.2" height="2.8" rx="0.5" fill="#1f5aae" opacity="0.85"/>
<rect x="124.5" y="374.2" width="1.2" height="2.8" rx="0.5" fill="#1f5aae" opacity="0.85"/>
<rect x="126.6" y="375.6" width="2.4" height="2.8" rx="0.5" fill="#1f5aae" opacity="0.85"/>
<rect x="130.4" y="376.8" width="3.3" height="2.8" rx="0.5" fill="#1f5aae" opacity="0.85"/>
<rect x="135.5" y="377.5" width="3.9" height="2.8" rx="0.5" fill="#1f5aae" opacity="0.85"/>
<rect x="141.3" y="377.8" width="4.1" height="2.8" rx="0.5" fill="#1f5aae" opacity="0.85"/>
<rect x="147.4" y="377.5" width="3.9" height="2.8" rx="0.5" fill="#1f5aae" opacity="0.85"/>
<rect x="153.1" y="376.8" width="3.3" height="2.8" rx="0.5" fill="#1f5aae" opacity="0.85"/>
<rect x="157.8" y="375.6" width="2.4" height="2.8" rx="0.5" fill="#1f5aae" opacity="0.85"/>
<rect x="161.0" y="374.2" width="1.2" height="2.8" rx="0.5" fill="#1f5aae" opacity="0.85"/>
<ellipse cx="143.4" cy="301.0" rx="6.1" ry="1.8" fill="#80bef6"/>
</g>
<g filter="url(#blur1)">
<polygon points="50.5,426.0 84.6,434.4 101.6,424.3 67.7,416.7" fill="#a2da94" opacity="0.95"/>
<polygon points="67.7,416.7 101.6,424.3 118.5,414.3 85.0,407.5" fill="#b2e2a2" opacity="0.95"/>
<polygon points="85.0,407.5 118.5,414.3 135.5,404.2 102.2,398.2" fill="#c8eeb8" opacity="0.95"/>
<polygon points="84.6,434.4 118.7,442.8 135.4,432.0 101.6,424.3" fill="#f2e27c" opacity="0.95"/>
<polygon points="101.6,424.3 135.4,432.0 152.1,421.1 118.5,414.3" fill="#e8d894" opacity="0.95"/>
<polygon points="118.5,414.3 152.1,421.1 168.7,410.3 135.5,404.2" fill="#e2d6ac" opacity="0.95"/>
<polygon points="118.7,442.8 152.8,451.2 169.2,439.6 135.4,432.0" fill="#3a9ef0" opacity="0.95"/>
<polygon points="135.4,432.0 169.2,439.6 185.6,427.9 152.1,421.1" fill="#7caadc" opacity="0.95"/>
<polygon points="152.1,421.1 185.6,427.9 202.0,416.3 168.7,410.3" fill="#b0c6e6" opacity="0.95"/>
</g>
<text x="75.7" y="427.7" font-size="9.6" text-anchor="middle" fill="#183438" stroke="#183438" stroke-width="0.25" transform="rotate(-35 75.7 424.7)">V1</text>
<text x="95.0" y="418.0" font-size="9.6" text-anchor="middle" fill="#183438" stroke="#183438" stroke-width="0.25" transform="rotate(-35 95.0 415.0)">V2</text>
<text x="115.5" y="408.5" font-size="9.6" text-anchor="middle" fill="#183438" stroke="#183438" stroke-width="0.25" transform="rotate(-35 115.5 405.5)">V3</text>
<text x="105.8" y="437.4" font-size="9.6" text-anchor="middle" fill="#183438" stroke="#183438" stroke-width="0.25" transform="rotate(-35 105.8 434.4)">V4</text>
<text x="127.5" y="426.5" font-size="9.6" text-anchor="middle" fill="#183438" stroke="#183438" stroke-width="0.25" transform="rotate(-35 127.5 423.5)">V5</text>
<text x="148.0" y="415.7" font-size="9.6" text-anchor="middle" fill="#183438" stroke="#183438" stroke-width="0.25" transform="rotate(-35 148.0 412.7)">V6</text>
<text x="142.0" y="444.6" font-size="9.6" text-anchor="middle" fill="#183438" stroke="#183438" stroke-width="0.25" transform="rotate(-35 142.0 441.6)">V7</text>
<text x="163.6" y="432.5" font-size="9.6" text-anchor="middle" fill="#183438" stroke="#183438" stroke-width="0.25" transform="rotate(-35 163.6 429.5)">V8</text>
<text x="183.0" y="421.7" font-size="9.6" text-anchor="middle" fill="#183438" stroke="#183438" stroke-width="0.25" transform="rotate(-35 183.0 418.7)">V9</text>
<g stroke-width="1.1" fill="none"><path d="M24.3 439.6 L24.3 428" stroke="#2a70a8"/><path d="M24.3 439.6 L36.5 433.5" stroke="#3a8a7a"/><path d="M24.3 439.6 L35.3 443.3" stroke="#e03050"/></g>
<path d="M22.5 428.8 L24.3 424.4 L26.1 428.8Z" fill="#2a70a8"/><path d="M35 432.2 L39.4 432 L36.6 435.4Z" fill="#3a8a7a"/><path d="M34.9 441.4 L38.6 444.4 L33.9 444.9Z" fill="#e03050"/>
<text x="22.4" y="423.6" font-size="8.6" font-style="italic" fill="#1c3050">Z</text><text x="37.8" y="429.4" font-size="8.6" font-style="italic" fill="#1c3050">Y</text><text x="40.6" y="446.7" font-size="8.6" font-style="italic" fill="#1c3050">X</text>
<text x="21.0" y="268.7" font-size="8.7" text-anchor="start" fill="#223044" >Metamaterial</text>
<text x="21.0" y="279.2" font-size="8.7" text-anchor="start" fill="#223044" >mechanoreceptor</text>
<text x="173.7" y="277.2" font-size="8.7" text-anchor="start" fill="#223044" >Water flow</text>
<line x1="171.5" y1="275.0" x2="151.0" y2="285.0" stroke="#222" stroke-width="0.9" />
<path d="M148.2 286.4 L152.2 282.6 L153.6 285.8Z" fill="#222"/>
</g>
<g id="wm">
<path d="M580 440 C595 436 625 430 650 426 L656 430 L656 456 L632 464 C615 462 598 458 583 452Z" fill="#ffffff" opacity="0.22"/>
<path d="M585.4 456.5 C596 452.5 616 453.5 631 457 L631 463.5 C614 464 596 461 585.4 456.5Z" fill="#9a9a9a" opacity="0.55"/>
<path d="M580.3 455 C588 451 594 448.5 600 446.5 C603 444 606 442 609.5 440.3 C618 438.5 626 437.5 631 436.5 C637 435 641 433 644.4 430.9 C646.5 429.5 648.5 428 650 426.4 L657 431 L657 446 C650 446.5 644 446.3 638 446 C630 447 621 447.5 612.7 447.3 C606 447.5 603 448 600 449 C594 451 587 453.5 580.3 455Z" fill="#e8424e" opacity="0.55"/>
<g fill="#e8424e" opacity="0.6">
<rect x="657" y="430" width="12" height="3.2"/><rect x="657" y="435.2" width="13" height="3"/><rect x="661" y="430" width="3.4" height="11.5"/><path d="M657 443.2 L662 437.5 L665 439 L660 444Z"/><path d="M664 438 L669.6 442.4 L667.4 444 L662.5 440Z"/>
<path d="M670.5 430.3 H681 V443 H670.5Z M673.6 433.4 V439.9 H677.9 V433.4Z" fill-rule="evenodd"/>
<path d="M659.2 444.6 H679.4 V454.8 H659.2Z M662.6 447.2 V448.6 H676 V447.2Z M662.6 451 V452.3 H676 V451Z" fill-rule="evenodd"/>
<path d="M683 431 L687.5 433.5 L686 436 L682.6 434Z"/><path d="M682.6 438.5 L687 440.8 L685.6 443.2 L682.6 441.5Z"/><path d="M682.6 452 L686 445 L688.6 446.4 L685.4 454.6 L682.6 454.6Z"/>
<path d="M689.6 430.3 H704.6 V434 H693.6 V451 H704.6 V454.7 H689.6Z"/>
<rect x="706.4" y="430.3" width="41.4" height="3.4"/><rect x="723.8" y="433" width="4.2" height="19"/><rect x="704.6" y="451.2" width="44.1" height="3.4"/>
<rect x="758.2" y="430" width="3.6" height="22"/><rect x="768" y="430" width="3.6" height="22"/><rect x="750.4" y="451.2" width="29.1" height="3.4"/><path d="M751.5 436 L754.8 435.2 L757 448.5 L753.8 449.3Z"/><path d="M778.6 436 L775.3 435.2 L773 448.5 L776.2 449.3Z"/>
</g>
<text x="657.4" y="466.2" font-size="11.4" fill="#8e8e8e" opacity="0.85" textLength="121.2" lengthAdjust="spacing">WWW.ILINKI.NET</text>
</g>
<text x="14.3" y="30.0" font-size="11" text-anchor="start" fill="#111" font-weight="bold" >a</text>
<text x="258.8" y="30.0" font-size="11" text-anchor="start" fill="#111" font-weight="bold" clip-path="url(#topclip)">b</text>
<text x="508.0" y="30.1" font-size="11" text-anchor="start" fill="#111" font-weight="bold" >c</text>
<text x="14.3" y="252.2" font-size="11" text-anchor="start" fill="#111" font-weight="bold" >d</text>
<text x="249.6" y="252.3" font-size="11" text-anchor="start" fill="#111" font-weight="bold" >e</text>
<text x="503.8" y="252.5" font-size="11" text-anchor="start" fill="#111" font-weight="bold" >f</text>
</svg>
</body></html>
